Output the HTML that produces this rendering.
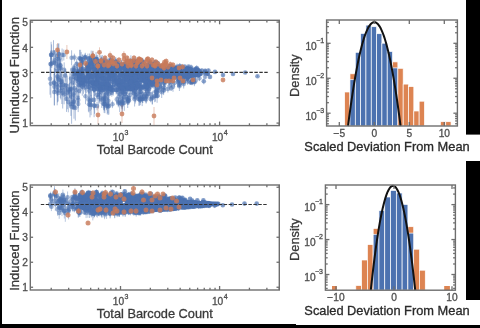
<!DOCTYPE html>
<html><head><meta charset="utf-8"><style>
html,body{margin:0;padding:0;background:#fff;width:480px;height:328px;overflow:hidden}
svg{display:block;filter:blur(0.6px)}
text{font-family:"Liberation Sans",sans-serif;stroke-width:0.3px}
</style></head><body>
<svg width="480" height="328" viewBox="0 0 480 328">
<rect x="0" y="0" width="480" height="328" fill="#fff"/>
<rect x="344.66" y="92" width="5.32" height="34" fill="#dd8452" stroke="#fff" stroke-width="0.7"/>
<rect x="349.98" y="73.8" width="5.32" height="52.2" fill="#dd8452" stroke="#fff" stroke-width="0.7"/>
<rect x="349.98" y="79.7" width="5.32" height="46.3" fill="#4c72b0" stroke="#fff" stroke-width="0.7"/>
<rect x="355.3" y="52.3" width="5.32" height="73.7" fill="#4c72b0" stroke="#fff" stroke-width="0.7"/>
<rect x="360.62" y="33.4" width="5.32" height="92.6" fill="#4c72b0" stroke="#fff" stroke-width="0.7"/>
<rect x="365.94" y="25.1" width="5.32" height="100.9" fill="#4c72b0" stroke="#fff" stroke-width="0.7"/>
<rect x="371.26" y="26.7" width="5.32" height="99.3" fill="#4c72b0" stroke="#fff" stroke-width="0.7"/>
<rect x="376.58" y="33.7" width="5.32" height="92.3" fill="#4c72b0" stroke="#fff" stroke-width="0.7"/>
<rect x="381.9" y="43.2" width="5.32" height="82.8" fill="#4c72b0" stroke="#fff" stroke-width="0.7"/>
<rect x="387.22" y="51.5" width="5.32" height="74.5" fill="#4c72b0" stroke="#fff" stroke-width="0.7"/>
<rect x="392.54" y="61.9" width="5.32" height="64.1" fill="#dd8452" stroke="#fff" stroke-width="0.7"/>
<rect x="392.54" y="67.9" width="5.32" height="58.1" fill="#4c72b0" stroke="#fff" stroke-width="0.7"/>
<rect x="397.86" y="68.3" width="5.32" height="57.7" fill="#dd8452" stroke="#fff" stroke-width="0.7"/>
<rect x="403.18" y="84.1" width="5.32" height="41.9" fill="#dd8452" stroke="#fff" stroke-width="0.7"/>
<rect x="408.5" y="86.6" width="5.32" height="39.4" fill="#dd8452" stroke="#fff" stroke-width="0.7"/>
<rect x="413.82" y="111" width="5.32" height="15" fill="#dd8452" stroke="#fff" stroke-width="0.7"/>
<rect x="419.14" y="101.2" width="5.32" height="24.8" fill="#dd8452" stroke="#fff" stroke-width="0.7"/>
<rect x="440.42" y="121.7" width="5.32" height="4.3" fill="#dd8452" stroke="#fff" stroke-width="0.7"/>
<rect x="445.74" y="121.7" width="5.32" height="4.3" fill="#dd8452" stroke="#fff" stroke-width="0.7"/>
<polyline points="348.05,126 348.92,119.2 349.8,112.62 350.67,106.28 351.55,100.17 352.42,94.28 353.3,88.63 354.17,83.21 355.05,78.02 355.92,73.06 356.8,68.33 357.67,63.84 358.55,59.57 359.42,55.53 360.3,51.73 361.17,48.15 362.05,44.81 362.92,41.69 363.8,38.81 364.67,36.16 365.55,33.73 366.42,31.54 367.3,29.58 368.17,27.85 369.05,26.35 369.92,25.08 370.8,24.05 371.67,23.24 372.55,22.66 373.42,22.32 374.3,22.2 375.18,22.32 376.05,22.66 376.93,23.24 377.8,24.05 378.68,25.08 379.55,26.35 380.43,27.85 381.3,29.58 382.18,31.54 383.05,33.73 383.93,36.16 384.8,38.81 385.68,41.69 386.55,44.81 387.43,48.15 388.3,51.73 389.18,55.53 390.05,59.57 390.93,63.84 391.8,68.33 392.68,73.06 393.55,78.02 394.43,83.21 395.3,88.63 396.18,94.28 397.05,100.17 397.93,106.28 398.8,112.62 399.68,119.2 400.55,126" fill="none" stroke="#111" stroke-width="2.0"/>
<rect x="326.6" y="20" width="130.8" height="106" fill="none" stroke="#6e6e6e" stroke-width="1.4"/>
<line x1="326.6" y1="43.3" x2="330.6" y2="43.3" stroke="#6e6e6e" stroke-width="1.3" />
<line x1="457.4" y1="43.3" x2="453.4" y2="43.3" stroke="#6e6e6e" stroke-width="1.3" />
<line x1="326.6" y1="32.78" x2="328.9" y2="32.78" stroke="#6e6e6e" stroke-width="1.3" />
<line x1="457.4" y1="32.78" x2="455.1" y2="32.78" stroke="#6e6e6e" stroke-width="1.3" />
<line x1="326.6" y1="26.62" x2="328.9" y2="26.62" stroke="#6e6e6e" stroke-width="1.3" />
<line x1="457.4" y1="26.62" x2="455.1" y2="26.62" stroke="#6e6e6e" stroke-width="1.3" />
<line x1="326.6" y1="22.26" x2="328.9" y2="22.26" stroke="#6e6e6e" stroke-width="1.3" />
<line x1="457.4" y1="22.26" x2="455.1" y2="22.26" stroke="#6e6e6e" stroke-width="1.3" />
<line x1="326.6" y1="78.25" x2="330.6" y2="78.25" stroke="#6e6e6e" stroke-width="1.3" />
<line x1="457.4" y1="78.25" x2="453.4" y2="78.25" stroke="#6e6e6e" stroke-width="1.3" />
<line x1="326.6" y1="67.73" x2="328.9" y2="67.73" stroke="#6e6e6e" stroke-width="1.3" />
<line x1="457.4" y1="67.73" x2="455.1" y2="67.73" stroke="#6e6e6e" stroke-width="1.3" />
<line x1="326.6" y1="61.57" x2="328.9" y2="61.57" stroke="#6e6e6e" stroke-width="1.3" />
<line x1="457.4" y1="61.57" x2="455.1" y2="61.57" stroke="#6e6e6e" stroke-width="1.3" />
<line x1="326.6" y1="57.21" x2="328.9" y2="57.21" stroke="#6e6e6e" stroke-width="1.3" />
<line x1="457.4" y1="57.21" x2="455.1" y2="57.21" stroke="#6e6e6e" stroke-width="1.3" />
<line x1="326.6" y1="53.82" x2="328.9" y2="53.82" stroke="#6e6e6e" stroke-width="1.3" />
<line x1="457.4" y1="53.82" x2="455.1" y2="53.82" stroke="#6e6e6e" stroke-width="1.3" />
<line x1="326.6" y1="51.05" x2="328.9" y2="51.05" stroke="#6e6e6e" stroke-width="1.3" />
<line x1="457.4" y1="51.05" x2="455.1" y2="51.05" stroke="#6e6e6e" stroke-width="1.3" />
<line x1="326.6" y1="48.71" x2="328.9" y2="48.71" stroke="#6e6e6e" stroke-width="1.3" />
<line x1="457.4" y1="48.71" x2="455.1" y2="48.71" stroke="#6e6e6e" stroke-width="1.3" />
<line x1="326.6" y1="46.69" x2="328.9" y2="46.69" stroke="#6e6e6e" stroke-width="1.3" />
<line x1="457.4" y1="46.69" x2="455.1" y2="46.69" stroke="#6e6e6e" stroke-width="1.3" />
<line x1="326.6" y1="44.9" x2="328.9" y2="44.9" stroke="#6e6e6e" stroke-width="1.3" />
<line x1="457.4" y1="44.9" x2="455.1" y2="44.9" stroke="#6e6e6e" stroke-width="1.3" />
<line x1="326.6" y1="113.2" x2="330.6" y2="113.2" stroke="#6e6e6e" stroke-width="1.3" />
<line x1="457.4" y1="113.2" x2="453.4" y2="113.2" stroke="#6e6e6e" stroke-width="1.3" />
<line x1="326.6" y1="102.68" x2="328.9" y2="102.68" stroke="#6e6e6e" stroke-width="1.3" />
<line x1="457.4" y1="102.68" x2="455.1" y2="102.68" stroke="#6e6e6e" stroke-width="1.3" />
<line x1="326.6" y1="96.52" x2="328.9" y2="96.52" stroke="#6e6e6e" stroke-width="1.3" />
<line x1="457.4" y1="96.52" x2="455.1" y2="96.52" stroke="#6e6e6e" stroke-width="1.3" />
<line x1="326.6" y1="92.16" x2="328.9" y2="92.16" stroke="#6e6e6e" stroke-width="1.3" />
<line x1="457.4" y1="92.16" x2="455.1" y2="92.16" stroke="#6e6e6e" stroke-width="1.3" />
<line x1="326.6" y1="88.77" x2="328.9" y2="88.77" stroke="#6e6e6e" stroke-width="1.3" />
<line x1="457.4" y1="88.77" x2="455.1" y2="88.77" stroke="#6e6e6e" stroke-width="1.3" />
<line x1="326.6" y1="86" x2="328.9" y2="86" stroke="#6e6e6e" stroke-width="1.3" />
<line x1="457.4" y1="86" x2="455.1" y2="86" stroke="#6e6e6e" stroke-width="1.3" />
<line x1="326.6" y1="83.66" x2="328.9" y2="83.66" stroke="#6e6e6e" stroke-width="1.3" />
<line x1="457.4" y1="83.66" x2="455.1" y2="83.66" stroke="#6e6e6e" stroke-width="1.3" />
<line x1="326.6" y1="81.64" x2="328.9" y2="81.64" stroke="#6e6e6e" stroke-width="1.3" />
<line x1="457.4" y1="81.64" x2="455.1" y2="81.64" stroke="#6e6e6e" stroke-width="1.3" />
<line x1="326.6" y1="79.85" x2="328.9" y2="79.85" stroke="#6e6e6e" stroke-width="1.3" />
<line x1="457.4" y1="79.85" x2="455.1" y2="79.85" stroke="#6e6e6e" stroke-width="1.3" />
<line x1="326.6" y1="123.72" x2="328.9" y2="123.72" stroke="#6e6e6e" stroke-width="1.3" />
<line x1="457.4" y1="123.72" x2="455.1" y2="123.72" stroke="#6e6e6e" stroke-width="1.3" />
<line x1="326.6" y1="120.95" x2="328.9" y2="120.95" stroke="#6e6e6e" stroke-width="1.3" />
<line x1="457.4" y1="120.95" x2="455.1" y2="120.95" stroke="#6e6e6e" stroke-width="1.3" />
<line x1="326.6" y1="118.61" x2="328.9" y2="118.61" stroke="#6e6e6e" stroke-width="1.3" />
<line x1="457.4" y1="118.61" x2="455.1" y2="118.61" stroke="#6e6e6e" stroke-width="1.3" />
<line x1="326.6" y1="116.59" x2="328.9" y2="116.59" stroke="#6e6e6e" stroke-width="1.3" />
<line x1="457.4" y1="116.59" x2="455.1" y2="116.59" stroke="#6e6e6e" stroke-width="1.3" />
<line x1="326.6" y1="114.8" x2="328.9" y2="114.8" stroke="#6e6e6e" stroke-width="1.3" />
<line x1="457.4" y1="114.8" x2="455.1" y2="114.8" stroke="#6e6e6e" stroke-width="1.3" />
<text x="316.8" y="49.8" font-size="10.2" text-anchor="end" fill="#4e4e4e" stroke="#4e4e4e" >10</text>
<text x="320.2" y="43" font-size="7.0" text-anchor="middle" fill="#4e4e4e" stroke="#4e4e4e" >−1</text>
<text x="316.8" y="84.75" font-size="10.2" text-anchor="end" fill="#4e4e4e" stroke="#4e4e4e" >10</text>
<text x="320.2" y="77.95" font-size="7.0" text-anchor="middle" fill="#4e4e4e" stroke="#4e4e4e" >−2</text>
<text x="316.8" y="119.7" font-size="10.2" text-anchor="end" fill="#4e4e4e" stroke="#4e4e4e" >10</text>
<text x="320.2" y="112.9" font-size="7.0" text-anchor="middle" fill="#4e4e4e" stroke="#4e4e4e" >−3</text>
<line x1="339.3" y1="126" x2="339.3" y2="122" stroke="#6e6e6e" stroke-width="1.3" />
<line x1="339.3" y1="20" x2="339.3" y2="24" stroke="#6e6e6e" stroke-width="1.3" />
<text x="339.3" y="136.9" font-size="10.2" text-anchor="middle" fill="#4e4e4e" stroke="#4e4e4e" >−5</text>
<line x1="374.3" y1="126" x2="374.3" y2="122" stroke="#6e6e6e" stroke-width="1.3" />
<line x1="374.3" y1="20" x2="374.3" y2="24" stroke="#6e6e6e" stroke-width="1.3" />
<text x="374.3" y="136.9" font-size="10.2" text-anchor="middle" fill="#4e4e4e" stroke="#4e4e4e" >0</text>
<line x1="409.3" y1="126" x2="409.3" y2="122" stroke="#6e6e6e" stroke-width="1.3" />
<line x1="409.3" y1="20" x2="409.3" y2="24" stroke="#6e6e6e" stroke-width="1.3" />
<text x="409.3" y="136.9" font-size="10.2" text-anchor="middle" fill="#4e4e4e" stroke="#4e4e4e" >5</text>
<line x1="444.3" y1="126" x2="444.3" y2="122" stroke="#6e6e6e" stroke-width="1.3" />
<line x1="444.3" y1="20" x2="444.3" y2="24" stroke="#6e6e6e" stroke-width="1.3" />
<text x="444.3" y="136.9" font-size="10.2" text-anchor="middle" fill="#4e4e4e" stroke="#4e4e4e" >10</text>
<text x="0" y="0" font-size="12.8" text-anchor="middle" fill="#3a3a3a" stroke="#3a3a3a" transform="translate(299.0 75.6) rotate(-90)">Density</text>
<text x="387" y="150.9" font-size="12.7" text-anchor="middle" fill="#2a2a2a" stroke="#2a2a2a" textLength="165.3" lengthAdjust="spacingAndGlyphs">Scaled Deviation From Mean</text>
<rect x="355.8" y="285.5" width="5.79" height="4.7" fill="#dd8452" stroke="#fff" stroke-width="0.7"/>
<rect x="361.59" y="260" width="5.79" height="30.2" fill="#dd8452" stroke="#fff" stroke-width="0.7"/>
<rect x="367.38" y="244.6" width="5.79" height="45.6" fill="#dd8452" stroke="#fff" stroke-width="0.7"/>
<rect x="373.17" y="228.4" width="5.79" height="61.8" fill="#dd8452" stroke="#fff" stroke-width="0.7"/>
<rect x="373.17" y="234.3" width="5.79" height="55.9" fill="#4c72b0" stroke="#fff" stroke-width="0.7"/>
<rect x="378.96" y="210.5" width="5.79" height="79.7" fill="#4c72b0" stroke="#fff" stroke-width="0.7"/>
<rect x="384.75" y="197" width="5.79" height="93.2" fill="#4c72b0" stroke="#fff" stroke-width="0.7"/>
<rect x="390.54" y="190.4" width="5.79" height="99.8" fill="#4c72b0" stroke="#fff" stroke-width="0.7"/>
<rect x="396.33" y="193" width="5.79" height="97.2" fill="#4c72b0" stroke="#fff" stroke-width="0.7"/>
<rect x="402.12" y="204.4" width="5.79" height="85.8" fill="#4c72b0" stroke="#fff" stroke-width="0.7"/>
<rect x="407.91" y="226.7" width="5.79" height="63.5" fill="#dd8452" stroke="#fff" stroke-width="0.7"/>
<rect x="407.91" y="233.1" width="5.79" height="57.1" fill="#4c72b0" stroke="#fff" stroke-width="0.7"/>
<rect x="413.7" y="249.2" width="5.79" height="41" fill="#dd8452" stroke="#fff" stroke-width="0.7"/>
<rect x="419.49" y="270.2" width="5.79" height="20" fill="#dd8452" stroke="#fff" stroke-width="0.7"/>
<rect x="332" y="286" width="4.9" height="4.2" fill="#dd8452"/>
<rect x="444.2" y="286" width="5.7" height="4.2" fill="#dd8452"/>
<polyline points="370.8,290.2 371.54,283.36 372.28,276.74 373.02,270.36 373.76,264.22 374.5,258.3 375.24,252.62 375.98,247.16 376.72,241.94 377.46,236.96 378.2,232.2 378.94,227.68 379.68,223.38 380.42,219.32 381.16,215.5 381.9,211.9 382.64,208.54 383.38,205.4 384.12,202.5 384.86,199.84 385.6,197.4 386.34,195.2 387.08,193.22 387.82,191.48 388.56,189.98 389.3,188.7 390.04,187.66 390.78,186.84 391.52,186.26 392.26,185.92 393,185.8 393.74,185.92 394.48,186.26 395.22,186.84 395.96,187.66 396.7,188.7 397.44,189.98 398.18,191.48 398.92,193.22 399.66,195.2 400.4,197.4 401.14,199.84 401.88,202.5 402.62,205.4 403.36,208.54 404.1,211.9 404.84,215.5 405.58,219.32 406.32,223.38 407.06,227.68 407.8,232.2 408.54,236.96 409.28,241.94 410.02,247.16 410.76,252.62 411.5,258.3 412.24,264.22 412.98,270.36 413.72,276.74 414.46,283.36 415.2,290.2" fill="none" stroke="#111" stroke-width="2.0"/>
<rect x="325.4" y="185" width="130" height="105.2" fill="none" stroke="#6e6e6e" stroke-width="1.4"/>
<line x1="325.4" y1="204.6" x2="329.4" y2="204.6" stroke="#6e6e6e" stroke-width="1.3" />
<line x1="455.4" y1="204.6" x2="451.4" y2="204.6" stroke="#6e6e6e" stroke-width="1.3" />
<line x1="325.4" y1="194.08" x2="327.7" y2="194.08" stroke="#6e6e6e" stroke-width="1.3" />
<line x1="455.4" y1="194.08" x2="453.1" y2="194.08" stroke="#6e6e6e" stroke-width="1.3" />
<line x1="325.4" y1="187.92" x2="327.7" y2="187.92" stroke="#6e6e6e" stroke-width="1.3" />
<line x1="455.4" y1="187.92" x2="453.1" y2="187.92" stroke="#6e6e6e" stroke-width="1.3" />
<line x1="325.4" y1="239.55" x2="329.4" y2="239.55" stroke="#6e6e6e" stroke-width="1.3" />
<line x1="455.4" y1="239.55" x2="451.4" y2="239.55" stroke="#6e6e6e" stroke-width="1.3" />
<line x1="325.4" y1="229.03" x2="327.7" y2="229.03" stroke="#6e6e6e" stroke-width="1.3" />
<line x1="455.4" y1="229.03" x2="453.1" y2="229.03" stroke="#6e6e6e" stroke-width="1.3" />
<line x1="325.4" y1="222.87" x2="327.7" y2="222.87" stroke="#6e6e6e" stroke-width="1.3" />
<line x1="455.4" y1="222.87" x2="453.1" y2="222.87" stroke="#6e6e6e" stroke-width="1.3" />
<line x1="325.4" y1="218.51" x2="327.7" y2="218.51" stroke="#6e6e6e" stroke-width="1.3" />
<line x1="455.4" y1="218.51" x2="453.1" y2="218.51" stroke="#6e6e6e" stroke-width="1.3" />
<line x1="325.4" y1="215.12" x2="327.7" y2="215.12" stroke="#6e6e6e" stroke-width="1.3" />
<line x1="455.4" y1="215.12" x2="453.1" y2="215.12" stroke="#6e6e6e" stroke-width="1.3" />
<line x1="325.4" y1="212.35" x2="327.7" y2="212.35" stroke="#6e6e6e" stroke-width="1.3" />
<line x1="455.4" y1="212.35" x2="453.1" y2="212.35" stroke="#6e6e6e" stroke-width="1.3" />
<line x1="325.4" y1="210.01" x2="327.7" y2="210.01" stroke="#6e6e6e" stroke-width="1.3" />
<line x1="455.4" y1="210.01" x2="453.1" y2="210.01" stroke="#6e6e6e" stroke-width="1.3" />
<line x1="325.4" y1="207.99" x2="327.7" y2="207.99" stroke="#6e6e6e" stroke-width="1.3" />
<line x1="455.4" y1="207.99" x2="453.1" y2="207.99" stroke="#6e6e6e" stroke-width="1.3" />
<line x1="325.4" y1="206.2" x2="327.7" y2="206.2" stroke="#6e6e6e" stroke-width="1.3" />
<line x1="455.4" y1="206.2" x2="453.1" y2="206.2" stroke="#6e6e6e" stroke-width="1.3" />
<line x1="325.4" y1="274.5" x2="329.4" y2="274.5" stroke="#6e6e6e" stroke-width="1.3" />
<line x1="455.4" y1="274.5" x2="451.4" y2="274.5" stroke="#6e6e6e" stroke-width="1.3" />
<line x1="325.4" y1="263.98" x2="327.7" y2="263.98" stroke="#6e6e6e" stroke-width="1.3" />
<line x1="455.4" y1="263.98" x2="453.1" y2="263.98" stroke="#6e6e6e" stroke-width="1.3" />
<line x1="325.4" y1="257.82" x2="327.7" y2="257.82" stroke="#6e6e6e" stroke-width="1.3" />
<line x1="455.4" y1="257.82" x2="453.1" y2="257.82" stroke="#6e6e6e" stroke-width="1.3" />
<line x1="325.4" y1="253.46" x2="327.7" y2="253.46" stroke="#6e6e6e" stroke-width="1.3" />
<line x1="455.4" y1="253.46" x2="453.1" y2="253.46" stroke="#6e6e6e" stroke-width="1.3" />
<line x1="325.4" y1="250.07" x2="327.7" y2="250.07" stroke="#6e6e6e" stroke-width="1.3" />
<line x1="455.4" y1="250.07" x2="453.1" y2="250.07" stroke="#6e6e6e" stroke-width="1.3" />
<line x1="325.4" y1="247.3" x2="327.7" y2="247.3" stroke="#6e6e6e" stroke-width="1.3" />
<line x1="455.4" y1="247.3" x2="453.1" y2="247.3" stroke="#6e6e6e" stroke-width="1.3" />
<line x1="325.4" y1="244.96" x2="327.7" y2="244.96" stroke="#6e6e6e" stroke-width="1.3" />
<line x1="455.4" y1="244.96" x2="453.1" y2="244.96" stroke="#6e6e6e" stroke-width="1.3" />
<line x1="325.4" y1="242.94" x2="327.7" y2="242.94" stroke="#6e6e6e" stroke-width="1.3" />
<line x1="455.4" y1="242.94" x2="453.1" y2="242.94" stroke="#6e6e6e" stroke-width="1.3" />
<line x1="325.4" y1="241.15" x2="327.7" y2="241.15" stroke="#6e6e6e" stroke-width="1.3" />
<line x1="455.4" y1="241.15" x2="453.1" y2="241.15" stroke="#6e6e6e" stroke-width="1.3" />
<line x1="325.4" y1="288.41" x2="327.7" y2="288.41" stroke="#6e6e6e" stroke-width="1.3" />
<line x1="455.4" y1="288.41" x2="453.1" y2="288.41" stroke="#6e6e6e" stroke-width="1.3" />
<line x1="325.4" y1="285.02" x2="327.7" y2="285.02" stroke="#6e6e6e" stroke-width="1.3" />
<line x1="455.4" y1="285.02" x2="453.1" y2="285.02" stroke="#6e6e6e" stroke-width="1.3" />
<line x1="325.4" y1="282.25" x2="327.7" y2="282.25" stroke="#6e6e6e" stroke-width="1.3" />
<line x1="455.4" y1="282.25" x2="453.1" y2="282.25" stroke="#6e6e6e" stroke-width="1.3" />
<line x1="325.4" y1="279.91" x2="327.7" y2="279.91" stroke="#6e6e6e" stroke-width="1.3" />
<line x1="455.4" y1="279.91" x2="453.1" y2="279.91" stroke="#6e6e6e" stroke-width="1.3" />
<line x1="325.4" y1="277.89" x2="327.7" y2="277.89" stroke="#6e6e6e" stroke-width="1.3" />
<line x1="455.4" y1="277.89" x2="453.1" y2="277.89" stroke="#6e6e6e" stroke-width="1.3" />
<line x1="325.4" y1="276.1" x2="327.7" y2="276.1" stroke="#6e6e6e" stroke-width="1.3" />
<line x1="455.4" y1="276.1" x2="453.1" y2="276.1" stroke="#6e6e6e" stroke-width="1.3" />
<text x="315.6" y="211.1" font-size="10.2" text-anchor="end" fill="#4e4e4e" stroke="#4e4e4e" >10</text>
<text x="319" y="204.3" font-size="7.0" text-anchor="middle" fill="#4e4e4e" stroke="#4e4e4e" >−1</text>
<text x="315.6" y="246.05" font-size="10.2" text-anchor="end" fill="#4e4e4e" stroke="#4e4e4e" >10</text>
<text x="319" y="239.25" font-size="7.0" text-anchor="middle" fill="#4e4e4e" stroke="#4e4e4e" >−2</text>
<text x="315.6" y="281" font-size="10.2" text-anchor="end" fill="#4e4e4e" stroke="#4e4e4e" >10</text>
<text x="319" y="274.2" font-size="7.0" text-anchor="middle" fill="#4e4e4e" stroke="#4e4e4e" >−3</text>
<line x1="336" y1="290.2" x2="336" y2="286.2" stroke="#6e6e6e" stroke-width="1.3" />
<line x1="336" y1="185" x2="336" y2="189" stroke="#6e6e6e" stroke-width="1.3" />
<text x="336" y="301.1" font-size="10.2" text-anchor="middle" fill="#4e4e4e" stroke="#4e4e4e" >−10</text>
<line x1="394" y1="290.2" x2="394" y2="286.2" stroke="#6e6e6e" stroke-width="1.3" />
<line x1="394" y1="185" x2="394" y2="189" stroke="#6e6e6e" stroke-width="1.3" />
<text x="394" y="301.1" font-size="10.2" text-anchor="middle" fill="#4e4e4e" stroke="#4e4e4e" >0</text>
<line x1="452" y1="290.2" x2="452" y2="286.2" stroke="#6e6e6e" stroke-width="1.3" />
<line x1="452" y1="185" x2="452" y2="189" stroke="#6e6e6e" stroke-width="1.3" />
<text x="452" y="301.1" font-size="10.2" text-anchor="middle" fill="#4e4e4e" stroke="#4e4e4e" >10</text>
<text x="0" y="0" font-size="12.8" text-anchor="middle" fill="#3a3a3a" stroke="#3a3a3a" transform="translate(299.0 239.6) rotate(-90)">Density</text>
<text x="387" y="315.1" font-size="12.7" text-anchor="middle" fill="#2a2a2a" stroke="#2a2a2a" textLength="165.3" lengthAdjust="spacingAndGlyphs">Scaled Deviation From Mean</text>
<path d="M172.4 71.7V78.7M172.7 75.2V79.7M140.5 72.2V78.5M113.6 66.9V71.7M76.9 65.2V83.8M125.5 88.8V99.1M128.4 63.5V72.4M74 96.2V118.7M75.2 66.1V80M207.7 72V75.3M155.1 79.8V88M107.1 87.1V99.6M131.5 69.4V76.9M194.4 78.1V86.2M183.7 70.6V73.9M177.1 63.6V70M126.5 68.4V73.8M138 76.5V83.8M157.8 66.2V73.9M79.1 77.2V93.4M144.8 63.5V68.9M111.8 88.6V96.7M181.5 68V72.6M80.1 72.7V86.9M158.1 81.4V93.9M180.3 71.2V76.6M106.2 82.3V87.5M183.4 71.5V73.9M180.5 74.3V79.3M61.8 71.7V104M161.2 73.7V80.5M50.8 69.5V97.7M139.1 69.1V78.9M131.6 70.2V80.9M103 71.8V83.3M118.5 59.2V67M172.5 74.1V79.8M117.4 64.6V69.2M95.7 77.7V86.7M160.2 67.2V73M133 60.1V65.8M171.7 63.6V69M107.2 96.8V114.2M117.8 76.8V88.4M171.8 70.9V75.7M139.5 81V89.9M139.5 87.7V95.6M107.3 66.8V73.1M59.5 50.1V66.4M188.3 75.3V78.7M85.3 52.8V61.2M177.2 71.5V75.5M123.6 85V98.8M190.6 80.6V84.4M127.3 65.4V71.9M188.7 66.3V72.2M144.9 70.7V78.1M107.8 96.1V113.1M165 76.4V87M157.5 74.9V81.8M158.6 72.6V80.6M134.7 72.7V78.4M105.5 76.9V89.5M153.9 63.8V67.7M89.4 76.3V86.6M159.5 67.1V73.8M153.3 68.6V76.6M124.7 72.3V80.1M171.6 65.3V71.7M101.8 74.6V81.8M126.3 93.9V103.4M171.5 69.7V72.9M125.1 65.1V76.6M161.8 69.9V74.8M150.9 79.9V86.6M189.3 69.1V74.5M199 70.3V72.9M163 63.3V69.4M172.8 69.8V73.1M96.2 82.2V88.1M161.8 72.6V76M177.5 71V75.1M127.6 74.7V81.4M144.6 75.8V80.8M136.5 82.3V89.5M191.7 73.6V77.1M117.5 64.6V71.3M127.7 64.2V75M50.6 50.9V77.3M129.8 90.5V100.2M152.9 65.8V69.3M188.5 67.9V70.1M187 66.7V71M118.8 67.9V80.5M198 73.1V77.5M101 63.7V74.5M174.6 66.3V72.7M96.8 54.9V63.3M128 61.5V66.3M82.5 76.7V89.7M178.8 70V75.6M175.2 69.3V73.5M94.4 82.9V96.2M141.7 62.1V67.1M110.1 71.3V80.6M137.9 77.7V84.1M144.6 60.9V69.8M89.2 58.2V71.1M179.6 65.1V71.2M112.7 80.9V93M132.8 86.1V98.7M78 75.5V87.7M51.9 58.4V67.7M102 81.5V90M120.5 67.1V76.8M187.6 76V82.2M182.7 68.5V70.9M136.6 68.7V72.4M133.7 64.2V69.6M156.7 74.5V79.1M178.9 72.6V76.6M120 81V85.5M171 71.8V78.3M127.3 77.3V82.7M148.9 63.4V66.5M164.5 68.6V72.3M138.9 57.4V67.2M159.3 68.9V72.5M160 69.1V71.8M54 73.9V91.2M71.6 50.3V65.2M95.7 72.1V79.7M104.4 57.5V63.1M103 65.6V78.3M75.3 95.2V120.6M104.9 90.9V113.2M149.7 59.9V64.6M182.3 70.7V73.7M121.4 99.6V108.6M123.5 73.5V78M129.4 75.2V81M158.2 75.8V80.3M170.1 69.4V75.4M189.3 72.7V77.4M124.6 66.6V75.1M161.1 76.4V88.3M120.5 66.3V70.5M174.6 65.3V71.8M106.6 69.9V74.8M180.4 72V76.5M139.3 92.7V105.5M163.2 70.5V75.9M142.6 60V64.1M117.4 79.2V85.9M138.1 64.8V68.5M75.8 72V84.9M73.1 93.7V109.3M142.1 61.2V64.6M136.2 62.8V71M175.7 71.8V75.7M62.7 76.9V108.5M145 83.2V91.3M137.7 72.5V79.4M149.3 79.5V84M163.7 77.1V80.2M141.5 76.7V82.7M145.6 85V92.8M137.9 81.5V90.4M151.2 71.8V76.3M108.9 97.3V114.5M144.5 74.2V82.7M157.3 84.8V95.4M101.4 64V76.1M198.5 70.8V74.4M165.6 69.1V74.9M191.2 71.6V74.5M114.6 71.7V77M132.4 63.5V72.2M110.6 59.5V67.3M74.5 63.9V71.7M60.8 74V90.1M108.7 80.6V89.4M179.2 66.9V72.6M97.7 62.8V74.3M159.2 71.6V77.7M109 81.9V90M80.5 74.9V93.5M101.6 75V80.1M157.9 74.3V81.2M139 72.8V77.1M144.1 70.4V79.9M133.5 79.7V83.8M112.2 66.7V76.4M137.5 65.9V73.8M186.9 70.6V75.6M102.8 61.9V70M164 65.5V72.3M109.3 71.2V80.1M101.7 60.9V69M118.3 62.9V70.6M86.7 61.6V67.7M188.6 65.2V68M123.3 63.2V67.9M99.4 81.1V96.6M50 63V94.7M79 66.5V81.3M104.5 79.2V89.8M129.5 80V85.7M149.7 76.7V82.1M195.9 72.6V77.6M182.8 71.5V75.9M108.1 83V99.3M150.8 95.9V102.3M186.8 73.9V76.9M88.4 70V84.8M178.3 68.2V74.3M127 59.6V67.7M169.6 66.4V70.3M118.2 79.5V89.6M152.3 90.8V103.9M139.5 64.1V70.3M88.9 80V94M167.1 75.5V82.7M174.5 71.4V74.2M136.9 79.1V87.5M126 71.5V77M190.1 74.3V77.6M124.4 78.3V86M181.4 69.4V75M129.6 72.7V77.1M124.3 74.6V80.4M122.9 63.3V68M78.8 68.8V82.8M112.6 70.2V79.5M106.5 102.1V110.2M79.5 64.4V78.5M143.3 77.1V82.2M132.3 82.4V89.4M65.2 69.4V81.6M96.7 76.2V85.5M186.4 69.7V72.8M93.5 70V83.8M124.3 94.9V110.8M190.6 72.1V75.5M90.4 59.1V71.2M128.6 83.7V90.7M171.9 68.7V74M62.1 48.5V61.4M81.1 52.1V65.9M187.8 67.5V70.3M158.6 70.4V76.5M110.5 74.6V83.4M136.6 69.7V79.2M109 64.5V72.2M183.1 69.2V71.5M190.5 79.8V84.5M81.9 57.1V69.7M141.4 58.5V67.7M100.5 59.6V74M127.9 63.6V74.7M165 68.2V72.2M161.8 70.8V74.7M101.2 62.9V73M119.4 83.5V88.2M130.3 72.4V82.8M125.8 76.2V83.6M158.4 63.6V68.4M170.4 70.6V74.2M119.7 93.4V112.1M132.2 73.3V81.4M81 61.7V74.5M123.5 71.6V75.9M190.1 72V76.7M139 92.7V105.9M145 61.7V69.3M150.2 75V83.7M146.1 95.2V103.5M172.3 70.3V75.5M110.3 55.6V63.8M117.4 75V81.1M182.3 74.6V77.7M138.8 72.1V79.5M191.9 78.4V84.9M94.3 59.2V74.8M169.8 63.5V69.8M135.8 60.9V68.9M135.9 56.9V65.4M181.6 75.1V77.6M93.1 75.5V91.5M140.4 95V102.6M109.1 72.6V83M120.6 79.7V85.7M173.8 67V69.4M127.2 72.4V77.7M170 69.6V76.6M58.9 43.3V64.7M208.4 68.7V72.4M191.2 64.6V70.3M158 77.2V81.4M102.2 61.2V71.2M155.6 80.3V84.6M101.3 55.6V69.3M124.3 63.5V73.4M69.8 76.6V107.6M81.7 75.2V90.8M96.9 69.3V81.2M100.2 82.6V93.9M176.4 69.4V75.8M108.3 95.3V106.2M174.8 69.4V74.1M54.3 78.8V105.4M78.2 95.7V112.1M79.1 84.9V96.8M188.1 69.7V74.5M173.8 66.2V70.8M60.1 57.5V73.5M188.1 73.9V81.7M106.1 75.8V83M111 81.6V94M147.9 81.8V90M103.2 71.7V86.6M194.5 73.7V77.1M123.4 73.7V78.8M146.5 78.1V87.1M146.6 92.7V100.4M113.1 84.2V95.7M164.2 76.3V85.8M199.3 71.8V77.2M149.1 64V68M84.9 53.8V61.6M172.7 75.4V77.9M156.7 65.3V71.1M137.6 60.6V67.1M155.3 65V70.4M110.6 81.9V91.2M115.9 74.7V85.3M140.5 78.6V85.4M81.3 69.1V79.1M148.3 65.2V74.2M100.2 68.9V77.7M109.6 65.3V77.4M184 69.7V74.3M148.3 71.9V77.4M108.3 74.3V83.6M160.2 81.1V91.7M201.9 68.6V72.5M183.7 73.3V79.1M171.6 74.5V77.2M119.4 66.8V71.6M147.8 84.1V87.8M148 85V95.8M85.9 63.9V78.9M159.5 73.6V78.5M141.1 58.2V62.6M141.2 84.3V87.7M164.5 66.2V70.6M83.5 76.2V93.8M104.3 61.2V67M197.7 68.5V70.7M115.4 76.2V85.4M109.8 67.6V75.7M82.1 65.6V80.6M116.9 80.7V86.4M145.4 89.9V98.6M71.6 89.9V123.8M114 79.4V90M109.9 60.6V68.4M96.4 75.2V82.2M170.8 75V78.7M192.3 73.2V77.4M186 71.2V76.6M132.1 77.7V83.2M80.7 66.8V77.3M121.4 60.5V69.8M141.5 92.9V101.4M125.1 74.9V83.2M163.8 70V73.1M165.2 69.9V76.3M183.6 67.8V70.5M135.3 85.9V90.2M107.6 68.3V78.5M185.4 70.9V73.8M182 65.4V68.2M92.5 61.9V75.8M104.1 72.3V84.1M156 74.1V77.3M174.3 74.8V78.2M192 76.9V80.7M63.2 74.2V94.9M101.2 80.9V87M130.1 59.6V64.2M144.3 74.9V79.5M169.3 79V85.5M145 68.4V73.2M140.8 86.8V90.6M107.7 68.1V77.1M154.9 62.8V69.7M147.7 76.8V80.9M189.9 73.3V76.7M101.2 81.6V92.7M92.2 82.5V89M121.9 80.2V91.7M118.5 62.3V67.3M133.5 64.3V71.3M98.8 81V92M161.1 76.3V83.7M174.5 67.5V71.8M54.4 72V93.9M185.3 74.1V78.6M86.3 81.2V93.4M116.2 64.2V75.5M137.3 73.3V80.4M130.2 84.4V93.9M104.6 75.5V89.1M163.6 76.2V81M176.5 72.6V75.4M106.2 65.7V79.8M97.9 71.5V82.1M140.9 62.9V72.4M95.6 67.2V78.5M189.1 73.8V78.6M177.9 77V87.3M175.9 69.6V73M128.8 77.1V87.3M170.2 75V79.5M126.4 73.2V77.8M134.1 57.8V67M89.2 78.4V102.7M70.9 92.7V115.9M157.1 89.8V102.8M101.7 57.2V70.5M191.4 71.4V75.1M145.8 82.4V86.2M147.1 80.3V86.6M183.3 79.3V82.8M115.1 60.8V65.6M57.3 56.8V96M105.2 73V81.9M134.1 58.7V65.9M96.1 68.1V77.8M113 62.7V68M164.6 77.9V89.4M124.7 90.2V97.7M120.5 72.7V77.1M107 61.4V72.4M142.2 92V106.1M200.9 71.8V75.9M98.4 70.8V86M177 71.4V77.4M168.8 72.8V80M149.7 58.5V67.3M143.5 72.4V79.6M141 74.3V78.8M88.6 67.7V81.7M146.3 75.9V84.1M198.1 72.9V77.6M163.6 84.2V95.1M135 69.9V76.7M132.4 73.1V77.8M180.2 66.2V72.3M54.4 50V75M102.6 72.2V83.8M191.6 70.8V73.5M155.3 85.5V97.8M175.1 69.2V74M142.5 66.1V71.6M72.4 78.6V86.4M142.7 94.2V103M152.7 74.6V82.1M85.9 74.6V82.7M136.6 69.6V73.3M189.5 67.9V72.5M79.5 49.8V66.8M74.3 65.5V76M88.7 60.8V76.2M158.4 66V69.1M183.1 67.1V72.2M96.7 75.5V86.4M177.1 66V71.6M105.5 56.2V66.1M143 71.6V75.1M167.6 65.7V72.5M91.1 94.9V115.2M136.3 79.9V85.8M179.8 63V69.2M122.1 77.9V87.1M171.5 70V73.9M133.7 72V81M189.6 69.7V72.6M127.5 56.7V66.4M174.5 79.4V86.6M83.1 64.8V72.9M120.2 85.8V92M95.2 79.1V85.7M127.9 73.4V84M128 62.7V71.1M107.9 68.6V74.1M129.6 77.7V81.9M158.3 68.2V73.4M147.2 83.6V89.8M108.3 82.8V94.6M161.6 67.3V74M161.3 82.1V93.1M129.9 72.1V81.8M134.2 74.4V78.7M99 72.1V79.3M175.9 71.3V75.9M122.3 71.7V78.6M114.5 75.4V85.9M187.7 73.1V78.7M116.1 82.2V89.3M102.3 55V66.4M125.4 86.7V91.3M140.5 68.5V74.1M151.1 82.1V87.2M127.2 71.7V79.4M158.6 76.7V80.1M64.2 62.4V77.4M187.4 73.8V76.8M134.4 65.9V74.6M133 85V92.7M132.8 59V68.8M112.4 100.6V108.1M173.6 66.7V70.1M133.5 80.4V86.4M87.3 58.4V75.6M121.5 60V68.3M137.1 71.3V78.8M122.6 78.7V84.6M88.5 77.9V87.3M182.6 67.4V70.1M96 66.7V75.3M163.6 71V76.4M130.2 78.7V88.7M138.3 58.1V64.5M157.8 74V79.2M60.9 59V77.4M137.6 71.8V80M134.2 59.7V63.3M130.8 85.5V90.7M50.8 55V73.2M57.6 50.1V67.2M137.6 73.2V78.1M133.8 86.9V99.5M119.7 63.5V72.5M90.9 80.2V96.5M123.2 83.3V92M157.4 66.8V70.6M174.1 69.1V73.8M167.6 65.9V72.3M51.2 50.1V59.3M120.1 77.2V82.5M137.6 69.1V75.8M173.5 70.8V74M145.8 69.5V78M172 73.4V75.8M159.2 66.2V69.7M82.3 54.9V69.1M195.9 67.5V71.9M145 71.7V75.3M149.9 61.5V66.9M110.3 58.5V66.7M184.4 68.1V70.3M205.1 74.5V78.9M120.6 78.2V85.6M137.6 75.2V79.6M79.8 67.7V87M167.5 70.7V75.8M154.2 61.3V69.1M107 58.8V70.2M175.3 65.8V72.3M143.9 61.7V70.3M187.7 66.6V70.5M174.2 70.5V74.6M88.2 63.8V79.3M107.5 60.1V65.1M177.6 70.6V75.8M68.3 83.7V95.5M93.1 62.4V72.2M186.5 72.7V80.5M173 67.8V73.9M109.7 58.7V70M120.1 73.3V79.1M71.2 81.2V97.5M92.5 73.2V79.8M57.5 71.4V102.4M148.2 85.7V91.1M150.7 67.1V74.6M95 74.1V87.1M175.8 68.4V71.4M137.4 81.1V90.1M149.5 68V74.3M156.2 89.1V94M103.3 89V108.3M172.2 69.5V75.8M128.7 86.7V91.3M138.6 84.1V91.1M92.4 75.4V90.5M109.7 72.4V81M133.8 67.3V73.8M163.1 65.1V71.4M134 84.3V91.8M145.3 62.1V67.5M166.8 68V73.3M127.7 95.2V108M60.3 62.6V97.9M145.5 77.5V86M189.7 69.1V74.4M71.1 74.5V82.8M134.6 59.5V68.2M155.4 81V85.6M137.6 62.6V69.2M88.7 78.8V89M140.3 91.8V105.2M84 74.3V86.9M81.7 73.1V83M120.1 80.2V91M99.6 85.6V103.4M139.3 74.6V80.4M189.8 69.6V72.8M104.6 63V70.9M198 70.2V75.5M121.4 88.4V96.5M176 65.5V71.4M141.3 68.9V74.6M169.5 67.4V70.3M179.7 81.4V86.9M176.8 73.5V76.9M95.5 79.8V94.7M182.9 67.3V69.7M91.4 76.7V87.8M164.2 85.8V89.9M74.1 77.2V108.5M115.4 64V73M93.3 53V66.5M151.8 71.6V76.7M117.2 61.8V72.1M146 64.4V69.1M105 88V107.2M127.3 83.4V92.3M184.2 74V79.7M149.3 61.8V69.3M137.3 82.6V90.5M163.2 67.1V70.7M199.4 75.6V81.1M119.6 82.8V90.7M89.8 57.7V65.6M107.9 76.7V89.2M96.7 57V68.9M128 80.5V91.6M165.1 73.3V77.3M167.9 85.4V92.6M89.5 53.5V62.6M97.5 62.6V77.6M122.7 64.7V71.4M177.1 73.4V83.4M137 71.4V80.7M143.1 76.2V83.7M114.3 67.3V75.1M144.2 76.2V84.8M150.1 87.2V101.1M119.8 83.4V93M149.7 62.4V70.3M166.5 69.3V76.6M122 83V93.7M133.8 77.9V85.8M93.1 56.8V64.6M110.3 62.8V73.3M72.2 65.4V74.4M77.7 63.8V82.8M85 77.7V84.7M183.7 79.7V88.5M164 73.6V76.9M148 75.2V81.1M171.6 73.4V76M99.4 82.9V95.9M121.7 65.1V71.4M147.6 76.2V84.3M178.4 67.3V70.8M143.2 71.7V78M92.3 53.6V69.3M73.6 64.4V75.5M69.9 72.1V105.9M166.7 72V74.8M183.3 70.2V72.8M95.2 56.3V62.8M173 81.6V91.8M72.7 98V109.7M176 65.7V70.5M160.6 73.1V77.6M135.8 76.1V83.5M136.2 76.8V80.6M105.2 94.3V103.1M187.9 73.2V75.3M111.9 85.8V94.6M111 71.5V76.8M168.4 73.3V76.6M147.1 85.6V97.2M140.6 85V89.5M146.5 66.5V72.8M89.9 74.2V81.3M89.7 62.4V74.7M195.4 67.8V70.3M160.7 65.6V69.3M151.1 77.6V83M145.4 71.6V78.1M107.1 84.6V94.2M96.8 58.8V67.3M147.9 69.4V75.3M56.8 65V76.4M66.5 85.8V111.9M120.7 71.4V76.9M148.1 74V78.9M187.8 72.3V74.9M133.5 69.8V74.9M116.1 59.8V71.6M191.1 67.4V71.2M115.1 70V82.6M136.7 89.4V99.6M136.3 86.1V90.4M73.5 68.7V84.9M89.1 73.8V80.1M55.6 53.4V73.5M171.1 85.5V91M125 61.7V66.7M158.2 73.2V75.9M132.7 83.5V92.1M138.3 92.4V100.1M179.5 72.6V76.3M126.8 82.9V93.9M88.4 87.6V111.6M156.9 87.2V97.9M67.4 76.1V109.2M140.5 65.2V69.5M123.7 61.6V68.2M130.5 80.9V89.2M163.5 75.3V82.2M176.5 71.6V76.2M192.3 74.1V77M169.4 74.1V79.4M174.1 69.9V76.4M188.7 72.6V77.1M125.6 58.5V69.2M120.7 81.4V92M66.5 71.3V100.9M133.6 71.9V81.4M77.8 89.8V105.9M104.5 97.5V110.6M128.9 66.9V72.2M128.8 73V77.8M167.7 67.7V72.5M134.7 76.3V83.2M161.1 67.8V75.3M64.1 84.4V104.3M162.7 67.1V70.9M167.3 69V75.6M58.3 69.5V85.2M121.6 69.3V76.8M153.4 80.4V86.9M94.1 94.1V117.2M172.5 74.6V79.2M194.1 74.9V81.2M169.8 68.1V72.9M151.6 80.1V84.6M169.9 70.5V73.3M189 71.8V74.4M191.2 72.7V75.3M119.4 75.2V85.5M154.6 68.2V73.7M87 61.2V69.2M186 68.3V72.7M78.2 91.6V108.2M113.8 59.4V68.5M146.7 81.6V86.8M105.6 86.7V103M129.9 69.8V76.9M121.6 80V85.4M156.7 71.1V75.4M140.7 66.1V69.6M175.3 72.1V76.8M151.8 74.7V82.9M162.7 71.8V75.1M60.5 78.3V91.7M157.7 93V98.1M185.3 73V78.6M93.9 61.6V77.5M169.8 74.8V77.9M170 71V78M84.8 69.1V86.4M151.1 66.6V72.8M116.8 95.7V103.1M123.9 62.6V71.7M200.2 70.2V75.5M146.4 71.4V79.3M136.2 82.4V92.1M171.5 71.5V77.9M126.4 85.2V98.3M92.9 50.7V66.4M195.7 77.3V83.7M97.4 81.2V97M184.2 73.7V78.9M194.9 73.3V76.3M135.3 73.4V78.6M91.5 90.2V109.5M134.3 60.5V69.7M143.5 64.1V72.6M170.2 72.8V75.5M207.7 71.6V76M108.4 61V74.9M69.5 82.9V97.9M196 69.6V73.4M51.6 44.4V65.5M192.4 73.8V76.8M183.1 73.8V79.7M184 79.5V83.3M127.7 95V103M102.7 82.4V98.3M149.3 66.1V74.2M131.2 77.5V85.6M161.4 76.7V80.1M101.5 57.4V68.8M135.5 61V68.9M185.7 68.1V70.7M148.4 75V82.6M187.6 78V84.8M166 68.3V71M93.7 56.6V70.1M154.4 77.2V85.6M100.5 86.6V92.4M82 60.9V79M149.9 59.1V67.6M56 74.8V93.8M76.5 83.9V96.2M126.3 65.4V74.4M100 71.5V77.1M156.5 70.5V76.7M112.7 70.7V80.9M108.1 98.3V114.9M144.4 70V76.9M141.5 62V70.1M177.3 71.1V76.4M174.2 69.8V75.8M188.4 74.3V80.8M90 92.5V117.4M77.7 69.2V88.5M166.2 73.1V76.2M127.5 95.1V105M76.7 59.1V68.4M142.1 77.6V83.2M117.9 67.5V74.8M104.4 82.5V95.9M156.5 75.6V80.1M164.2 74V78.2M110.4 65.5V73M156.6 79.3V85.3M106 80.1V93.4M182.2 67.3V69.9M127.2 76.6V82.1M135.8 88.1V96M98.3 85.4V108.6M134.8 73.5V82.6M112.5 72V81.3M169.9 75.8V82.1M93.8 78.2V93.1M142.5 61.7V68M127.9 85.9V90M185.6 68.1V73.7M155.4 77.3V82.9M145.6 76.3V82.5M95.4 68.9V75.9M88.8 65.8V75M150.1 76.3V80.7M186.6 66.9V70.7M84.5 72.5V90M130 65.5V73.6M123.9 82.7V92.4M63.8 49.5V60.5M152.1 71.4V75.7M134.7 67.4V73.5M136.8 73V83.1M175.4 69.3V71.6M152 77.1V83.7M107.8 75.7V83M192 77.2V85.2M187.1 66.2V71.5M159.5 64.5V67.4M91.9 75.3V84.9M153.1 62.3V68M51.1 41.8V68.1M113.7 65.3V74.4M131.5 60.5V67.4M134.4 60.3V68.1M170.4 67.2V73.2M145.2 95.5V101.5M154.6 76.7V83.8M133.1 67V72.8M163.8 87.4V93.3M100.9 62.1V67.5M183.7 80V84.4M176.5 67.9V74.4M185.6 70.3V74.3M190.7 67.7V71.2M169.8 71.8V77.4M114.2 67.5V78.6M185.9 68.7V70.9M173.1 74.6V78.1M135.7 71.7V78.9M87.8 69V81.5M194.5 68.3V72.1M104.4 67.5V80.3M99 79.2V85.7M144.7 78.7V84.1M179 70.1V75.8M111.7 63.2V69.7M103.8 78.7V90.6M170 81.7V89.3M146 83.4V89.7M146.1 80.2V84.2M149 79.7V83.8M172.8 66.7V73.3M169.5 64.1V68.4M111 66.7V73.8M123 79.3V84.2M205.2 68.7V73M176.3 73.9V78.2M143.2 72.4V81.1M117.9 84V95.6M184 74.6V77.2M113.3 64.5V69.7M134.6 73.3V83.6M148.9 78.5V83.8M168 74V78.1M161.1 70.5V76.4M158.9 77V81.6M103.6 97.1V110.2M120.1 77.1V83.2M166 74.2V77.6M147.2 68.6V75.1M185.6 68.7V73.3M81.8 64.2V82.7M196.6 67.8V73M138.1 80.9V89M114.9 75.5V82.3M88.1 69.7V81.8M81.3 76.9V88.3M199 73.3V75.4M170.2 68.6V72.7M195.4 72V77M177.5 68V71.5M131 87.1V91.1M101.6 78.1V89.2M142.8 57.8V65.4M107.7 58.6V67.8M97.1 62.4V70.2M144.8 71.5V79.9M146.4 68.6V74.6M196.7 65.4V70.8M172.3 66.5V71.4M61.8 67.1V95.7M98.8 73.2V88.5M145.2 60.1V69.3M161.2 69.8V76.3M198.1 70.7V74.6M144.2 65.6V71.8M135.3 90.8V103.5M57.1 44.1V67.9M131.5 79.3V90.2M179.4 81.3V91M78.4 70V80.7M141.5 67.8V71.7M190.6 71.2V73.3M192.4 73.6V77.9M60.7 82V99.4M116.3 87.5V92.3M101.9 74.9V83.8M196 66.9V72.2M171.6 71.2V74.9M111.4 60.3V65.6M125.8 79.4V90.8M157.6 71V77.1M65.2 69.1V101.1M98.1 73V81.1M170.5 77.3V81.9M116.1 85.4V94.4M107.4 61.8V75.5M185.3 68.9V72.3M162.6 68.6V73.5M178.7 68.6V70.9M169.8 68.1V73.4M140.3 89.3V94.9M100.6 59.9V68.7M159.8 66.5V70.8M144 71.2V76M163.6 71V77.4M157.5 61.4V64.9M170.5 70V72.6M77.4 67.5V77.5M97.9 63.6V70.5M181.9 72.9V78.1M158.7 87.6V93.4M179.9 65.8V71.1M77.7 62.8V78.8M141.1 65.2V74.3M58.2 84.5V101.5M96.9 66.3V76M74.7 68.1V81.5M101.2 62.7V68.7M110 74.9V82M82.3 77.9V95.7M154.8 59.6V67.5M148 89V98.5M158.7 71.4V77M195 73.1V75.3M113.1 79.5V84.4M108.3 80.1V89M116 57.6V65.4M173.5 65.8V70.5M155.3 60V64.3M166 65.2V71.6M107.3 62.7V75.5M93.6 80V86M135.7 88.4V101.7M184.5 69.2V74.7M110.3 82.9V94.9M167.4 72.1V79.3M160.6 73.9V78M123.5 89.4V105.3M160.3 71.1V74.9M186.7 68.4V71.5M104.1 95.7V112.8M110.5 66.4V75.8M126.2 70.5V78.3M102.3 86.4V93.5M127.5 65.1V72.6M163.9 74.8V77.9M178.6 75.9V84.8M156.4 70.8V74.5M143.3 67.4V75.3M186.7 70.4V75.2M100.9 82V93.7M160 66.9V74.2M125 81V89M188.7 74.1V77.3M101.9 58.9V69.4M109.7 59.3V70.9M90.6 67.5V81.4M133.7 80.7V85.4M159.1 78.9V89.5M114.4 72.4V82M183.6 69.5V75.2M171.8 72.4V75.8M111.8 85.6V92.8M149.9 66V73M155.6 85.3V90.2M94 90.2V109.5M154.7 78.5V85M152.3 78.4V85.1M180.4 66.8V71.5M115.1 70.3V77.1M94.1 84.9V93.7M143.6 83.9V90.4M178.8 77V83M91.5 56.6V72.4M103.5 68.5V75.2M89 96.1V112.4M197.5 69.8V72M167.2 72.6V76.4M86.7 74.5V87.5M177.5 68.4V72.1M131.7 76.9V82.7M64.8 83.3V96.2M79.2 74.1V85.3M108.9 90.4V98.1M71.4 87.6V105.6M98.4 65.1V76M79.9 67.5V84.1M94.6 97.5V113.8M87.9 53.6V64M130.3 80.3V88.7M174.9 74.9V78.2M169.9 74.1V78.7M142 69.4V74.5M79.5 74.4V84.8M190.2 71V74.8M80.6 49.8V68.1M58.4 43.6V64.2M165.8 68.6V73.8M152.3 92V104.7M166.9 70.3V76.9M112.3 66.1V78.4M183.1 69.8V72.5M180.5 68V71.1M73.5 83.1V105.9M191.4 73.6V78.5M168.2 75.4V78.4M178.2 70.2V72.4M136.4 72.7V80.5M171.2 76.6V81.4M185.5 67.1V70.9M183.6 67.4V69.7M112.5 55.5V67.2M98.7 80.1V85.6M154.7 90.1V102.2M132.6 73.2V82.8M178.9 78.3V83.8M133.3 84.3V88.4M97.1 70.7V85.9M124.5 80.9V88.7M192.3 77.7V84.7M160.2 68.4V73.6M98.3 61.8V68.3M101 92.7V104.1M125.8 63.7V70.9M189.2 71.4V76.2M140.6 72.8V82.2M111.6 59.6V67.8M104.1 83.4V92M108.8 74.6V88.1M142.7 94.9V102.8M104.3 92.8V109.3M89.2 60.9V76.2M174.5 69.3V72.5M155.4 89.8V101.6M149.1 84.6V93.5M109.8 86.6V92.8M129.7 70.4V76M181.4 80.9V84.4M110.6 57V66M131.2 75.7V79.6M87.7 60.5V69M126.2 73.4V81.5M85.1 76V91.6M168.3 67.9V73.5M204.9 70.7V75.8M83 69V84.4M122.7 85V100.5M190.8 74.2V77M91.6 72V81.2M173 69.9V73.6M89.9 70.3V79.2M134.5 77.8V83.4M169.8 64.2V68.9M170.5 68.7V73.6M172.2 66.1V70.7M118.3 99.3V107.3M143.1 85.2V88.8M92.9 78.9V87.1M199.9 68.7V74.1M164.1 65.5V71.4M126.6 60.1V69.9M138.1 83.6V87.5M147.8 71.2V79.8M122.5 72.4V80.8M119.1 90.7V102.9M185 73.9V77.8M97.1 89.3V100.7M190.5 69.8V75M144.1 66V72.9M134.4 70.6V75M135.5 68.7V76.7M59.6 56.4V80M118.5 97.3V106.1M134.4 72.9V79.9M74.6 77V99.9M58.1 60.2V71.9M54.4 68.1V105.4M151.5 79V86.4M55 50.6V69.9M190.9 68.6V70.9M152.3 78.2V86.1M162.4 75.6V82.5M72.7 69.1V79M139.7 81.4V85.3M103.5 74.6V89.1M186.6 70V75.3M122.2 91.7V110.7M102.4 66.7V79.3M130.9 79.5V83.1M118.2 88.7V96.1M95 67.1V78.2M169.4 69.3V76M104.9 61.4V75.1M185.1 70.4V76.2M164.4 65.9V71.5M179.2 82.9V86.9M163.6 79.1V86.7M182.1 73.9V81.7M191.5 70.4V72.9M57.2 75.8V105.3M110.2 62V74.8M184.7 65.4V67.8M143.7 93.1V100.1M186.8 70.3V73M134.5 82.3V98.5M120.5 79.2V83.6M175.7 68.8V72.1M110.8 71V77.8M128.3 66.3V74.3M174.9 74.4V79.7M126.3 70.4V76.5M155.5 80.7V88.6M96.1 52.1V65.5M103.9 56.9V71.5M195.7 71V76M101.7 91.6V107.9M97.8 54.9V67M60.5 59.5V71M83.4 71.4V80.4M127.4 80.9V90.7M151.2 61.9V65.8M181.7 66.6V72.5M197.6 69.1V73.1M122.1 95.7V103.3M138.4 71.7V80.3M127.7 65.5V75.9M134.6 92.2V106.5M178.4 70.1V72.3M129 96.5V104.5M165.2 68.1V71.2M178.6 76V80.3M128.4 96.2V104.9M120.4 85.8V102.9M86.4 61V77.5M157.4 70.4V77.5M171.7 77.1V87M153.2 67.3V73.8M112.4 66.1V74.7M160.7 72.9V79.6M105.7 75.2V81.3M172.3 67.4V71.5M189.4 69V73.4M118.5 75V86.7M150 62.6V66.4M133.7 75.1V81.9M119.4 73.1V79.5M182.9 70.1V74.5M117.3 59.8V68.2M170.9 72V75M166.3 69.6V74.5M90.1 91V110.9M175.2 70.7V76.3M124.5 78V82.6M123.7 76.2V83M132.6 82.2V87.6M127.4 70.1V76.5M129.9 80.8V84.8M166.5 76.1V79.6M116.8 59.2V70.8M97 57.2V70.9M166.7 68.9V75.9M130.8 79.6V87.8M142.9 89.3V98.1M98.9 83.2V88.8M157.6 80.6V84.3M151 68.1V73M153.4 61.8V66.9M188 72.9V77.4M82.8 54.2V65.2M140.9 67.9V75.5M74.4 53.7V61.3M123.6 87.2V91.5M154.1 72.5V79.6M173.4 72.2V77.3M112.5 77.1V86.5M183.5 71.2V77.1M186.7 73.5V76.6M186.7 71.1V74.1M131.8 86.9V90.9M152.2 61.9V70.4M136.1 74.8V83.6M81.2 64.4V78M112.1 69.9V80.2M176.3 72.2V77.1M100.1 68.7V81.4M132.6 70.3V79.1M157.5 64.7V70.8M128.9 67.5V73.2M147.8 80.3V84.8M145.9 65.7V72M92.8 67.6V84.3M71.6 77.6V99.3M141.3 64.1V70.6M153.2 79.8V84.9M145 63.3V69.9M194.6 72.4V75.2M96.2 62.7V77.3M85.5 88.3V104.2M176 70.4V75.8M183 66.6V70.7M193.5 69.2V71.4M183.1 70.3V73.9M127.1 75.9V80.5M146.1 88.8V103.1M153.5 76V79M146.5 82.2V90.5M129.7 64.1V70.8M175 68V73M168.4 70.7V73.8M68.3 91.8V112.3M185.9 72V74.7M129.9 75V79.7M163.8 75.4V80.7M193.6 71.6V74.6M154.9 66V72M110.9 58.8V64.6M150.2 73.4V81.7M131 70.1V76.1M100.2 55.2V66.1M96.2 75.5V90.8M167.9 69.4V76.4M130.9 55.3V66.1M131.9 76.2V81.3M122.4 79.1V83.6M150.6 72.4V81.2M152.4 80.9V86.4M171 68.5V71.1M115.8 71.6V82.7M149.8 72V79.9M139.6 65V73.7M87.2 63.5V74.8M179.2 68V74.4M150.6 83.2V89.6M136.9 81.2V86M140.8 67.6V75.3M141.4 85.2V90.5M128.6 69.3V74.4M140.2 97.3V103.2M174.8 69.2V72.9M124.7 66.9V76.2M167 74V76.8M58.2 65.1V93.4M117.7 61.6V71.5M165.3 72.5V84.1M155.4 68V72.6M87.4 63.3V76.7M122.5 96.7V108.7M132.2 82.5V89M173.5 67V72.9M89.7 66.6V79.1M96.2 77V90.9M115.6 57.3V66.6M128.1 85.6V89.4M161 65.1V69.9M126.7 81.9V87.8M162.4 68.6V73.9M106.4 70.6V77.3M122.9 86.6V91M168.7 70.9V74.7M131.3 69.2V79.2M139.7 70.4V77.2M130.3 72.2V76.8M87 70.9V84.9M139.6 73.9V79.1M74.1 94.7V108.8M97 101.7V110.3M164.2 65.5V72.8M165.2 67.4V73.9M193.6 79.9V83.8M165.9 75V79.1M127.2 76.9V84.1M103.3 66.2V73.9M103.7 62.5V73.2M109.7 68V75.1M185.7 70V75.1M130.8 77.5V86.4M141.7 69.4V78.4M140.6 85.1V98.4M90.8 55.6V71.1M150.1 81.2V85.1M53.5 40.2V65.1M153.5 78.1V81.2M106.7 81V94.2M191.9 70V74.2M152.8 83.3V87.3M138.3 58.4V64.4M91.2 50.6V65.5M112.2 61.9V71.7M112.8 76.5V81.4M188.1 74V78.4M140.6 76.4V82.1M140 67.6V76.4M135.8 69.3V76M121.9 81.4V93.3M156.9 71.6V75.6M135.1 74.8V79.1M145.5 80.1V83.2M161.7 86.4V98M154.4 74.6V83M99.5 83V101.6M185.2 72V76.5M98.7 72.3V86.2M145.7 61.7V68.4M186.2 75.9V81.2M196.5 68.3V71.9M122.2 96.1V113.1M144.7 83.4V87.2M154.7 74.6V79.7M107.1 77.9V90.7M129.1 92.7V103.4M149.9 74.8V81.4M245.2 71.5V73.5M257.5 75.3V77.3M233 73V75M215 70.4V73.4M210 75.4V78.4M205 69.9V73.9M203.8 78.3V84.3M200 72V76M198 68V72M223 73.5V76.5" stroke="#4c72b0" stroke-width="1.0" stroke-opacity="0.45" fill="none"/><g fill="#4c72b0" fill-opacity="0.5"><circle cx="125.5" cy="94" r="2.3"/><circle cx="74" cy="107.4" r="2.3"/><circle cx="107.1" cy="93.4" r="2.3"/><circle cx="194.4" cy="82.2" r="2.3"/><circle cx="111.8" cy="92.7" r="2.3"/><circle cx="158.1" cy="87.7" r="2.3"/><circle cx="61.8" cy="87.8" r="2.3"/><circle cx="50.8" cy="83.6" r="2.3"/><circle cx="107.2" cy="105.5" r="2.3"/><circle cx="139.5" cy="91.7" r="2.3"/><circle cx="59.5" cy="58.3" r="2.3"/><circle cx="188.3" cy="77" r="2.3"/><circle cx="123.6" cy="91.9" r="2.3"/><circle cx="190.6" cy="82.5" r="2.3"/><circle cx="107.8" cy="104.6" r="2.3"/><circle cx="165" cy="81.7" r="2.3"/><circle cx="126.3" cy="98.6" r="2.3"/><circle cx="50.6" cy="64.1" r="2.3"/><circle cx="129.8" cy="95.3" r="2.3"/><circle cx="132.8" cy="92.4" r="2.3"/><circle cx="51.9" cy="63.1" r="2.3"/><circle cx="187.6" cy="79.1" r="2.3"/><circle cx="54" cy="82.6" r="2.3"/><circle cx="71.6" cy="57.8" r="2.3"/><circle cx="75.3" cy="107.9" r="2.3"/><circle cx="104.9" cy="102" r="2.3"/><circle cx="121.4" cy="104.1" r="2.3"/><circle cx="161.1" cy="82.3" r="2.3"/><circle cx="139.3" cy="99.1" r="2.3"/><circle cx="73.1" cy="101.5" r="2.3"/><circle cx="62.7" cy="92.7" r="2.3"/><circle cx="145.6" cy="88.9" r="2.3"/><circle cx="108.9" cy="105.9" r="2.3"/><circle cx="157.3" cy="90.1" r="2.3"/><circle cx="74.5" cy="67.8" r="2.3"/><circle cx="60.8" cy="82" r="2.3"/><circle cx="50" cy="78.8" r="2.3"/><circle cx="108.1" cy="91.1" r="2.3"/><circle cx="150.8" cy="99.1" r="2.3"/><circle cx="152.3" cy="97.3" r="2.3"/><circle cx="167.1" cy="79.1" r="2.3"/><circle cx="106.5" cy="106.1" r="2.3"/><circle cx="65.2" cy="75.5" r="2.3"/><circle cx="124.3" cy="102.8" r="2.3"/><circle cx="62.1" cy="54.9" r="2.3"/><circle cx="190.5" cy="82.2" r="2.3"/><circle cx="119.7" cy="102.8" r="2.3"/><circle cx="139" cy="99.3" r="2.3"/><circle cx="146.1" cy="99.4" r="2.3"/><circle cx="191.9" cy="81.7" r="2.3"/><circle cx="140.4" cy="98.8" r="2.3"/><circle cx="58.9" cy="54" r="2.3"/><circle cx="69.8" cy="92.1" r="2.3"/><circle cx="108.3" cy="100.8" r="2.3"/><circle cx="54.3" cy="92.1" r="2.3"/><circle cx="78.2" cy="103.9" r="2.3"/><circle cx="79.1" cy="90.8" r="2.3"/><circle cx="60.1" cy="65.5" r="2.3"/><circle cx="188.1" cy="77.8" r="2.3"/><circle cx="146.6" cy="96.5" r="2.3"/><circle cx="164.2" cy="81" r="2.3"/><circle cx="160.2" cy="86.4" r="2.3"/><circle cx="148" cy="90.4" r="2.3"/><circle cx="145.4" cy="94.3" r="2.3"/><circle cx="71.6" cy="106.8" r="2.3"/><circle cx="141.5" cy="97.1" r="2.3"/><circle cx="192" cy="78.8" r="2.3"/><circle cx="63.2" cy="84.6" r="2.3"/><circle cx="169.3" cy="82.3" r="2.3"/><circle cx="54.4" cy="82.9" r="2.3"/><circle cx="177.9" cy="82.1" r="2.3"/><circle cx="89.2" cy="90.6" r="2.3"/><circle cx="70.9" cy="104.3" r="2.3"/><circle cx="157.1" cy="96.3" r="2.3"/><circle cx="183.3" cy="81" r="2.3"/><circle cx="57.3" cy="76.4" r="2.3"/><circle cx="164.6" cy="83.6" r="2.3"/><circle cx="124.7" cy="93.9" r="2.3"/><circle cx="142.2" cy="99" r="2.3"/><circle cx="163.6" cy="89.7" r="2.3"/><circle cx="54.4" cy="62.5" r="2.3"/><circle cx="155.3" cy="91.7" r="2.3"/><circle cx="72.4" cy="82.5" r="2.3"/><circle cx="142.7" cy="98.6" r="2.3"/><circle cx="74.3" cy="70.8" r="2.3"/><circle cx="91.1" cy="105" r="2.3"/><circle cx="174.5" cy="83" r="2.3"/><circle cx="161.3" cy="87.6" r="2.3"/><circle cx="64.2" cy="69.9" r="2.3"/><circle cx="112.4" cy="104.3" r="2.3"/><circle cx="60.9" cy="68.2" r="2.3"/><circle cx="50.8" cy="64.1" r="2.3"/><circle cx="57.6" cy="58.7" r="2.3"/><circle cx="133.8" cy="93.2" r="2.3"/><circle cx="51.2" cy="54.7" r="2.3"/><circle cx="205.1" cy="76.7" r="2.3"/><circle cx="68.3" cy="89.6" r="2.3"/><circle cx="186.5" cy="76.6" r="2.3"/><circle cx="71.2" cy="89.4" r="2.3"/><circle cx="57.5" cy="86.9" r="2.3"/><circle cx="148.2" cy="88.4" r="2.3"/><circle cx="156.2" cy="91.6" r="2.3"/><circle cx="103.3" cy="98.6" r="2.3"/><circle cx="127.7" cy="101.6" r="2.3"/><circle cx="60.3" cy="80.3" r="2.3"/><circle cx="71.1" cy="78.6" r="2.3"/><circle cx="140.3" cy="98.5" r="2.3"/><circle cx="99.6" cy="94.5" r="2.3"/><circle cx="121.4" cy="92.5" r="2.3"/><circle cx="179.7" cy="84.1" r="2.3"/><circle cx="164.2" cy="87.8" r="2.3"/><circle cx="74.1" cy="92.9" r="2.3"/><circle cx="105" cy="97.6" r="2.3"/><circle cx="184.2" cy="76.9" r="2.3"/><circle cx="199.4" cy="78.3" r="2.3"/><circle cx="167.9" cy="89" r="2.3"/><circle cx="177.1" cy="78.4" r="2.3"/><circle cx="150.1" cy="94.1" r="2.3"/><circle cx="72.2" cy="69.9" r="2.3"/><circle cx="183.7" cy="84.1" r="2.3"/><circle cx="73.6" cy="69.9" r="2.3"/><circle cx="69.9" cy="89" r="2.3"/><circle cx="173" cy="86.7" r="2.3"/><circle cx="72.7" cy="103.9" r="2.3"/><circle cx="105.2" cy="98.7" r="2.3"/><circle cx="111.9" cy="90.2" r="2.3"/><circle cx="147.1" cy="91.4" r="2.3"/><circle cx="56.8" cy="70.7" r="2.3"/><circle cx="66.5" cy="98.8" r="2.3"/><circle cx="136.7" cy="94.5" r="2.3"/><circle cx="73.5" cy="76.8" r="2.3"/><circle cx="55.6" cy="63.5" r="2.3"/><circle cx="171.1" cy="88.2" r="2.3"/><circle cx="138.3" cy="96.2" r="2.3"/><circle cx="88.4" cy="99.6" r="2.3"/><circle cx="156.9" cy="92.6" r="2.3"/><circle cx="67.4" cy="92.6" r="2.3"/><circle cx="66.5" cy="86.1" r="2.3"/><circle cx="77.8" cy="97.8" r="2.3"/><circle cx="104.5" cy="104" r="2.3"/><circle cx="64.1" cy="94.4" r="2.3"/><circle cx="58.3" cy="77.4" r="2.3"/><circle cx="94.1" cy="105.6" r="2.3"/><circle cx="194.1" cy="78" r="2.3"/><circle cx="78.2" cy="99.9" r="2.3"/><circle cx="105.6" cy="94.9" r="2.3"/><circle cx="60.5" cy="85" r="2.3"/><circle cx="157.7" cy="95.5" r="2.3"/><circle cx="116.8" cy="99.4" r="2.3"/><circle cx="126.4" cy="91.7" r="2.3"/><circle cx="195.7" cy="80.5" r="2.3"/><circle cx="91.5" cy="99.9" r="2.3"/><circle cx="69.5" cy="90.4" r="2.3"/><circle cx="51.6" cy="54.9" r="2.3"/><circle cx="184" cy="81.4" r="2.3"/><circle cx="127.7" cy="99" r="2.3"/><circle cx="102.7" cy="90.3" r="2.3"/><circle cx="187.6" cy="81.4" r="2.3"/><circle cx="56" cy="84.3" r="2.3"/><circle cx="76.5" cy="90.1" r="2.3"/><circle cx="108.1" cy="106.6" r="2.3"/><circle cx="188.4" cy="77.5" r="2.3"/><circle cx="90" cy="104.9" r="2.3"/><circle cx="127.5" cy="100.1" r="2.3"/><circle cx="135.8" cy="92" r="2.3"/><circle cx="98.3" cy="97" r="2.3"/><circle cx="169.9" cy="79" r="2.3"/><circle cx="63.8" cy="55" r="2.3"/><circle cx="192" cy="81.2" r="2.3"/><circle cx="51.1" cy="54.9" r="2.3"/><circle cx="145.2" cy="98.5" r="2.3"/><circle cx="163.8" cy="90.4" r="2.3"/><circle cx="183.7" cy="82.2" r="2.3"/><circle cx="170" cy="85.5" r="2.3"/><circle cx="103.6" cy="103.7" r="2.3"/><circle cx="61.8" cy="81.4" r="2.3"/><circle cx="135.3" cy="97.2" r="2.3"/><circle cx="57.1" cy="56" r="2.3"/><circle cx="179.4" cy="86.2" r="2.3"/><circle cx="60.7" cy="90.7" r="2.3"/><circle cx="65.2" cy="85.1" r="2.3"/><circle cx="170.5" cy="79.6" r="2.3"/><circle cx="140.3" cy="92.1" r="2.3"/><circle cx="158.7" cy="90.5" r="2.3"/><circle cx="58.2" cy="93" r="2.3"/><circle cx="74.7" cy="74.8" r="2.3"/><circle cx="148" cy="93.8" r="2.3"/><circle cx="135.7" cy="95.1" r="2.3"/><circle cx="123.5" cy="97.3" r="2.3"/><circle cx="104.1" cy="104.3" r="2.3"/><circle cx="178.6" cy="80.3" r="2.3"/><circle cx="159.1" cy="84.2" r="2.3"/><circle cx="155.6" cy="87.8" r="2.3"/><circle cx="94" cy="99.9" r="2.3"/><circle cx="178.8" cy="80" r="2.3"/><circle cx="89" cy="104.2" r="2.3"/><circle cx="64.8" cy="89.7" r="2.3"/><circle cx="108.9" cy="94.3" r="2.3"/><circle cx="71.4" cy="96.6" r="2.3"/><circle cx="94.6" cy="105.7" r="2.3"/><circle cx="58.4" cy="53.9" r="2.3"/><circle cx="152.3" cy="98.3" r="2.3"/><circle cx="73.5" cy="94.5" r="2.3"/><circle cx="171.2" cy="79" r="2.3"/><circle cx="154.7" cy="96.1" r="2.3"/><circle cx="178.9" cy="81" r="2.3"/><circle cx="192.3" cy="81.2" r="2.3"/><circle cx="101" cy="98.4" r="2.3"/><circle cx="142.7" cy="98.9" r="2.3"/><circle cx="104.3" cy="101" r="2.3"/><circle cx="155.4" cy="95.7" r="2.3"/><circle cx="149.1" cy="89.1" r="2.3"/><circle cx="181.4" cy="82.6" r="2.3"/><circle cx="122.7" cy="92.7" r="2.3"/><circle cx="118.3" cy="103.3" r="2.3"/><circle cx="119.1" cy="96.8" r="2.3"/><circle cx="97.1" cy="95" r="2.3"/><circle cx="59.6" cy="68.2" r="2.3"/><circle cx="118.5" cy="101.7" r="2.3"/><circle cx="74.6" cy="88.4" r="2.3"/><circle cx="58.1" cy="66.1" r="2.3"/><circle cx="54.4" cy="86.8" r="2.3"/><circle cx="55" cy="60.2" r="2.3"/><circle cx="72.7" cy="74.1" r="2.3"/><circle cx="122.2" cy="101.2" r="2.3"/><circle cx="118.2" cy="92.4" r="2.3"/><circle cx="179.2" cy="84.9" r="2.3"/><circle cx="163.6" cy="82.9" r="2.3"/><circle cx="182.1" cy="77.8" r="2.3"/><circle cx="57.2" cy="90.5" r="2.3"/><circle cx="143.7" cy="96.6" r="2.3"/><circle cx="134.5" cy="90.4" r="2.3"/><circle cx="101.7" cy="99.7" r="2.3"/><circle cx="60.5" cy="65.2" r="2.3"/><circle cx="122.1" cy="99.5" r="2.3"/><circle cx="134.6" cy="99.3" r="2.3"/><circle cx="129" cy="100.5" r="2.3"/><circle cx="178.6" cy="78.1" r="2.3"/><circle cx="128.4" cy="100.6" r="2.3"/><circle cx="120.4" cy="94.3" r="2.3"/><circle cx="171.7" cy="82" r="2.3"/><circle cx="90.1" cy="101" r="2.3"/><circle cx="142.9" cy="93.7" r="2.3"/><circle cx="74.4" cy="57.5" r="2.3"/><circle cx="71.6" cy="88.5" r="2.3"/><circle cx="85.5" cy="96.3" r="2.3"/><circle cx="146.1" cy="96" r="2.3"/><circle cx="68.3" cy="102" r="2.3"/><circle cx="150.6" cy="86.4" r="2.3"/><circle cx="140.2" cy="100.2" r="2.3"/><circle cx="58.2" cy="79.2" r="2.3"/><circle cx="165.3" cy="78.3" r="2.3"/><circle cx="122.5" cy="102.7" r="2.3"/><circle cx="74.1" cy="101.8" r="2.3"/><circle cx="97" cy="106" r="2.3"/><circle cx="193.6" cy="81.9" r="2.3"/><circle cx="140.6" cy="91.7" r="2.3"/><circle cx="53.5" cy="52.6" r="2.3"/><circle cx="161.7" cy="92.2" r="2.3"/><circle cx="99.5" cy="92.3" r="2.3"/><circle cx="186.2" cy="78.5" r="2.3"/><circle cx="122.2" cy="104.6" r="2.3"/><circle cx="129.1" cy="98.1" r="2.3"/></g><g fill="#4c72b0" fill-opacity="0.65"><circle cx="172.4" cy="75.2" r="2.3"/><circle cx="172.7" cy="77.5" r="2.3"/><circle cx="140.5" cy="75.4" r="2.3"/><circle cx="113.6" cy="69.3" r="2.3"/><circle cx="76.9" cy="74.5" r="2.3"/><circle cx="128.4" cy="68" r="2.3"/><circle cx="75.2" cy="73" r="2.3"/><circle cx="207.7" cy="73.7" r="2.3"/><circle cx="155.1" cy="83.9" r="2.3"/><circle cx="131.5" cy="73.1" r="2.3"/><circle cx="183.7" cy="72.2" r="2.3"/><circle cx="177.1" cy="66.8" r="2.3"/><circle cx="126.5" cy="71.1" r="2.3"/><circle cx="138" cy="80.1" r="2.3"/><circle cx="157.8" cy="70.1" r="2.3"/><circle cx="79.1" cy="85.3" r="2.3"/><circle cx="144.8" cy="66.2" r="2.3"/><circle cx="181.5" cy="70.3" r="2.3"/><circle cx="80.1" cy="79.8" r="2.3"/><circle cx="180.3" cy="73.9" r="2.3"/><circle cx="106.2" cy="84.9" r="2.3"/><circle cx="183.4" cy="72.7" r="2.3"/><circle cx="180.5" cy="76.8" r="2.3"/><circle cx="161.2" cy="77.1" r="2.3"/><circle cx="139.1" cy="74" r="2.3"/><circle cx="131.6" cy="75.5" r="2.3"/><circle cx="103" cy="77.5" r="2.3"/><circle cx="118.5" cy="63.1" r="2.3"/><circle cx="172.5" cy="76.9" r="2.3"/><circle cx="117.4" cy="66.9" r="2.3"/><circle cx="95.7" cy="82.2" r="2.3"/><circle cx="160.2" cy="70.1" r="2.3"/><circle cx="133" cy="63" r="2.3"/><circle cx="171.7" cy="66.3" r="2.3"/><circle cx="117.8" cy="82.6" r="2.3"/><circle cx="171.8" cy="73.3" r="2.3"/><circle cx="139.5" cy="85.4" r="2.3"/><circle cx="107.3" cy="69.9" r="2.3"/><circle cx="85.3" cy="57" r="2.3"/><circle cx="177.2" cy="73.5" r="2.3"/><circle cx="127.3" cy="68.7" r="2.3"/><circle cx="188.7" cy="69.3" r="2.3"/><circle cx="144.9" cy="74.4" r="2.3"/><circle cx="157.5" cy="78.4" r="2.3"/><circle cx="158.6" cy="76.6" r="2.3"/><circle cx="134.7" cy="75.6" r="2.3"/><circle cx="105.5" cy="83.2" r="2.3"/><circle cx="153.9" cy="65.8" r="2.3"/><circle cx="89.4" cy="81.5" r="2.3"/><circle cx="159.5" cy="70.5" r="2.3"/><circle cx="153.3" cy="72.6" r="2.3"/><circle cx="124.7" cy="76.2" r="2.3"/><circle cx="171.6" cy="68.5" r="2.3"/><circle cx="101.8" cy="78.2" r="2.3"/><circle cx="171.5" cy="71.3" r="2.3"/><circle cx="125.1" cy="70.8" r="2.3"/><circle cx="161.8" cy="72.3" r="2.3"/><circle cx="150.9" cy="83.3" r="2.3"/><circle cx="189.3" cy="71.8" r="2.3"/><circle cx="199" cy="71.6" r="2.3"/><circle cx="163" cy="66.3" r="2.3"/><circle cx="172.8" cy="71.5" r="2.3"/><circle cx="96.2" cy="85.1" r="2.3"/><circle cx="161.8" cy="74.3" r="2.3"/><circle cx="177.5" cy="73" r="2.3"/><circle cx="127.6" cy="78" r="2.3"/><circle cx="144.6" cy="78.3" r="2.3"/><circle cx="136.5" cy="85.9" r="2.3"/><circle cx="191.7" cy="75.3" r="2.3"/><circle cx="117.5" cy="67.9" r="2.3"/><circle cx="127.7" cy="69.6" r="2.3"/><circle cx="152.9" cy="67.6" r="2.3"/><circle cx="188.5" cy="69" r="2.3"/><circle cx="187" cy="68.9" r="2.3"/><circle cx="118.8" cy="74.2" r="2.3"/><circle cx="198" cy="75.3" r="2.3"/><circle cx="101" cy="69.1" r="2.3"/><circle cx="174.6" cy="69.5" r="2.3"/><circle cx="96.8" cy="59.1" r="2.3"/><circle cx="128" cy="63.9" r="2.3"/><circle cx="82.5" cy="83.2" r="2.3"/><circle cx="178.8" cy="72.8" r="2.3"/><circle cx="175.2" cy="71.4" r="2.3"/><circle cx="94.4" cy="89.6" r="2.3"/><circle cx="141.7" cy="64.6" r="2.3"/><circle cx="110.1" cy="76" r="2.3"/><circle cx="137.9" cy="80.9" r="2.3"/><circle cx="144.6" cy="65.4" r="2.3"/><circle cx="89.2" cy="64.6" r="2.3"/><circle cx="179.6" cy="68.1" r="2.3"/><circle cx="112.7" cy="86.9" r="2.3"/><circle cx="78" cy="81.6" r="2.3"/><circle cx="102" cy="85.7" r="2.3"/><circle cx="120.5" cy="71.9" r="2.3"/><circle cx="182.7" cy="69.7" r="2.3"/><circle cx="136.6" cy="70.6" r="2.3"/><circle cx="133.7" cy="66.9" r="2.3"/><circle cx="156.7" cy="76.8" r="2.3"/><circle cx="178.9" cy="74.6" r="2.3"/><circle cx="120" cy="83.2" r="2.3"/><circle cx="171" cy="75" r="2.3"/><circle cx="127.3" cy="80" r="2.3"/><circle cx="148.9" cy="64.9" r="2.3"/><circle cx="164.5" cy="70.5" r="2.3"/><circle cx="138.9" cy="62.3" r="2.3"/><circle cx="159.3" cy="70.7" r="2.3"/><circle cx="160" cy="70.5" r="2.3"/><circle cx="95.7" cy="75.9" r="2.3"/><circle cx="104.4" cy="60.3" r="2.3"/><circle cx="103" cy="71.9" r="2.3"/><circle cx="149.7" cy="62.2" r="2.3"/><circle cx="182.3" cy="72.2" r="2.3"/><circle cx="123.5" cy="75.8" r="2.3"/><circle cx="129.4" cy="78.1" r="2.3"/><circle cx="158.2" cy="78.1" r="2.3"/><circle cx="170.1" cy="72.4" r="2.3"/><circle cx="189.3" cy="75.1" r="2.3"/><circle cx="124.6" cy="70.9" r="2.3"/><circle cx="120.5" cy="68.4" r="2.3"/><circle cx="174.6" cy="68.6" r="2.3"/><circle cx="106.6" cy="72.3" r="2.3"/><circle cx="180.4" cy="74.2" r="2.3"/><circle cx="163.2" cy="73.2" r="2.3"/><circle cx="142.6" cy="62.1" r="2.3"/><circle cx="117.4" cy="82.6" r="2.3"/><circle cx="138.1" cy="66.7" r="2.3"/><circle cx="75.8" cy="78.5" r="2.3"/><circle cx="142.1" cy="62.9" r="2.3"/><circle cx="136.2" cy="66.9" r="2.3"/><circle cx="175.7" cy="73.7" r="2.3"/><circle cx="145" cy="87.3" r="2.3"/><circle cx="137.7" cy="75.9" r="2.3"/><circle cx="149.3" cy="81.7" r="2.3"/><circle cx="163.7" cy="78.7" r="2.3"/><circle cx="141.5" cy="79.7" r="2.3"/><circle cx="137.9" cy="85.9" r="2.3"/><circle cx="151.2" cy="74" r="2.3"/><circle cx="144.5" cy="78.4" r="2.3"/><circle cx="101.4" cy="70" r="2.3"/><circle cx="198.5" cy="72.6" r="2.3"/><circle cx="165.6" cy="72" r="2.3"/><circle cx="191.2" cy="73" r="2.3"/><circle cx="114.6" cy="74.3" r="2.3"/><circle cx="132.4" cy="67.8" r="2.3"/><circle cx="110.6" cy="63.4" r="2.3"/><circle cx="108.7" cy="85" r="2.3"/><circle cx="179.2" cy="69.8" r="2.3"/><circle cx="97.7" cy="68.5" r="2.3"/><circle cx="159.2" cy="74.7" r="2.3"/><circle cx="109" cy="85.9" r="2.3"/><circle cx="80.5" cy="84.2" r="2.3"/><circle cx="101.6" cy="77.5" r="2.3"/><circle cx="157.9" cy="77.7" r="2.3"/><circle cx="139" cy="74.9" r="2.3"/><circle cx="144.1" cy="75.2" r="2.3"/><circle cx="133.5" cy="81.7" r="2.3"/><circle cx="112.2" cy="71.5" r="2.3"/><circle cx="137.5" cy="69.8" r="2.3"/><circle cx="186.9" cy="73.1" r="2.3"/><circle cx="102.8" cy="66" r="2.3"/><circle cx="164" cy="68.9" r="2.3"/><circle cx="109.3" cy="75.6" r="2.3"/><circle cx="101.7" cy="65" r="2.3"/><circle cx="118.3" cy="66.8" r="2.3"/><circle cx="86.7" cy="64.7" r="2.3"/><circle cx="188.6" cy="66.6" r="2.3"/><circle cx="123.3" cy="65.5" r="2.3"/><circle cx="99.4" cy="88.8" r="2.3"/><circle cx="79" cy="73.9" r="2.3"/><circle cx="104.5" cy="84.5" r="2.3"/><circle cx="129.5" cy="82.9" r="2.3"/><circle cx="149.7" cy="79.4" r="2.3"/><circle cx="195.9" cy="75.1" r="2.3"/><circle cx="182.8" cy="73.7" r="2.3"/><circle cx="186.8" cy="75.4" r="2.3"/><circle cx="88.4" cy="77.4" r="2.3"/><circle cx="178.3" cy="71.2" r="2.3"/><circle cx="127" cy="63.7" r="2.3"/><circle cx="169.6" cy="68.3" r="2.3"/><circle cx="118.2" cy="84.6" r="2.3"/><circle cx="139.5" cy="67.2" r="2.3"/><circle cx="88.9" cy="87" r="2.3"/><circle cx="174.5" cy="72.8" r="2.3"/><circle cx="136.9" cy="83.3" r="2.3"/><circle cx="126" cy="74.3" r="2.3"/><circle cx="190.1" cy="75.9" r="2.3"/><circle cx="124.4" cy="82.1" r="2.3"/><circle cx="181.4" cy="72.2" r="2.3"/><circle cx="129.6" cy="74.9" r="2.3"/><circle cx="124.3" cy="77.5" r="2.3"/><circle cx="122.9" cy="65.7" r="2.3"/><circle cx="78.8" cy="75.8" r="2.3"/><circle cx="112.6" cy="74.9" r="2.3"/><circle cx="79.5" cy="71.5" r="2.3"/><circle cx="143.3" cy="79.6" r="2.3"/><circle cx="132.3" cy="85.9" r="2.3"/><circle cx="96.7" cy="80.9" r="2.3"/><circle cx="186.4" cy="71.2" r="2.3"/><circle cx="93.5" cy="76.9" r="2.3"/><circle cx="190.6" cy="73.8" r="2.3"/><circle cx="90.4" cy="65.1" r="2.3"/><circle cx="128.6" cy="87.2" r="2.3"/><circle cx="171.9" cy="71.4" r="2.3"/><circle cx="81.1" cy="59" r="2.3"/><circle cx="187.8" cy="68.9" r="2.3"/><circle cx="158.6" cy="73.4" r="2.3"/><circle cx="110.5" cy="79" r="2.3"/><circle cx="136.6" cy="74.5" r="2.3"/><circle cx="109" cy="68.3" r="2.3"/><circle cx="183.1" cy="70.4" r="2.3"/><circle cx="81.9" cy="63.4" r="2.3"/><circle cx="141.4" cy="63.1" r="2.3"/><circle cx="100.5" cy="66.8" r="2.3"/><circle cx="127.9" cy="69.1" r="2.3"/><circle cx="165" cy="70.2" r="2.3"/><circle cx="161.8" cy="72.8" r="2.3"/><circle cx="101.2" cy="68" r="2.3"/><circle cx="119.4" cy="85.9" r="2.3"/><circle cx="130.3" cy="77.6" r="2.3"/><circle cx="125.8" cy="79.9" r="2.3"/><circle cx="158.4" cy="66" r="2.3"/><circle cx="170.4" cy="72.4" r="2.3"/><circle cx="132.2" cy="77.3" r="2.3"/><circle cx="81" cy="68.1" r="2.3"/><circle cx="123.5" cy="73.7" r="2.3"/><circle cx="190.1" cy="74.3" r="2.3"/><circle cx="145" cy="65.5" r="2.3"/><circle cx="150.2" cy="79.3" r="2.3"/><circle cx="172.3" cy="72.9" r="2.3"/><circle cx="110.3" cy="59.7" r="2.3"/><circle cx="117.4" cy="78.1" r="2.3"/><circle cx="182.3" cy="76.2" r="2.3"/><circle cx="138.8" cy="75.8" r="2.3"/><circle cx="94.3" cy="67" r="2.3"/><circle cx="169.8" cy="66.6" r="2.3"/><circle cx="135.8" cy="64.9" r="2.3"/><circle cx="135.9" cy="61.1" r="2.3"/><circle cx="181.6" cy="76.4" r="2.3"/><circle cx="93.1" cy="83.5" r="2.3"/><circle cx="109.1" cy="77.8" r="2.3"/><circle cx="120.6" cy="82.7" r="2.3"/><circle cx="173.8" cy="68.2" r="2.3"/><circle cx="127.2" cy="75" r="2.3"/><circle cx="170" cy="73.1" r="2.3"/><circle cx="208.4" cy="70.5" r="2.3"/><circle cx="191.2" cy="67.5" r="2.3"/><circle cx="158" cy="79.3" r="2.3"/><circle cx="102.2" cy="66.2" r="2.3"/><circle cx="155.6" cy="82.4" r="2.3"/><circle cx="101.3" cy="62.5" r="2.3"/><circle cx="124.3" cy="68.5" r="2.3"/><circle cx="81.7" cy="83" r="2.3"/><circle cx="96.9" cy="75.2" r="2.3"/><circle cx="100.2" cy="88.2" r="2.3"/><circle cx="176.4" cy="72.6" r="2.3"/><circle cx="174.8" cy="71.7" r="2.3"/><circle cx="188.1" cy="72.1" r="2.3"/><circle cx="173.8" cy="68.5" r="2.3"/><circle cx="106.1" cy="79.4" r="2.3"/><circle cx="111" cy="87.8" r="2.3"/><circle cx="147.9" cy="85.9" r="2.3"/><circle cx="103.2" cy="79.2" r="2.3"/><circle cx="194.5" cy="75.4" r="2.3"/><circle cx="123.4" cy="76.2" r="2.3"/><circle cx="146.5" cy="82.6" r="2.3"/><circle cx="113.1" cy="90" r="2.3"/><circle cx="199.3" cy="74.5" r="2.3"/><circle cx="149.1" cy="66" r="2.3"/><circle cx="84.9" cy="57.7" r="2.3"/><circle cx="172.7" cy="76.7" r="2.3"/><circle cx="156.7" cy="68.2" r="2.3"/><circle cx="137.6" cy="63.9" r="2.3"/><circle cx="155.3" cy="67.7" r="2.3"/><circle cx="110.6" cy="86.5" r="2.3"/><circle cx="115.9" cy="80" r="2.3"/><circle cx="140.5" cy="82" r="2.3"/><circle cx="81.3" cy="74.1" r="2.3"/><circle cx="148.3" cy="69.7" r="2.3"/><circle cx="100.2" cy="73.3" r="2.3"/><circle cx="109.6" cy="71.4" r="2.3"/><circle cx="184" cy="72" r="2.3"/><circle cx="148.3" cy="74.6" r="2.3"/><circle cx="108.3" cy="78.9" r="2.3"/><circle cx="201.9" cy="70.6" r="2.3"/><circle cx="183.7" cy="76.2" r="2.3"/><circle cx="171.6" cy="75.8" r="2.3"/><circle cx="119.4" cy="69.2" r="2.3"/><circle cx="147.8" cy="86" r="2.3"/><circle cx="85.9" cy="71.4" r="2.3"/><circle cx="159.5" cy="76.1" r="2.3"/><circle cx="141.1" cy="60.4" r="2.3"/><circle cx="141.2" cy="86" r="2.3"/><circle cx="164.5" cy="68.4" r="2.3"/><circle cx="83.5" cy="85" r="2.3"/><circle cx="104.3" cy="64.1" r="2.3"/><circle cx="197.7" cy="69.6" r="2.3"/><circle cx="115.4" cy="80.8" r="2.3"/><circle cx="109.8" cy="71.7" r="2.3"/><circle cx="82.1" cy="73.1" r="2.3"/><circle cx="116.9" cy="83.6" r="2.3"/><circle cx="114" cy="84.7" r="2.3"/><circle cx="109.9" cy="64.5" r="2.3"/><circle cx="96.4" cy="78.7" r="2.3"/><circle cx="170.8" cy="76.8" r="2.3"/><circle cx="192.3" cy="75.3" r="2.3"/><circle cx="186" cy="73.9" r="2.3"/><circle cx="132.1" cy="80.4" r="2.3"/><circle cx="80.7" cy="72" r="2.3"/><circle cx="121.4" cy="65.2" r="2.3"/><circle cx="125.1" cy="79" r="2.3"/><circle cx="163.8" cy="71.6" r="2.3"/><circle cx="165.2" cy="73.1" r="2.3"/><circle cx="183.6" cy="69.2" r="2.3"/><circle cx="135.3" cy="88" r="2.3"/><circle cx="107.6" cy="73.4" r="2.3"/><circle cx="185.4" cy="72.4" r="2.3"/><circle cx="182" cy="66.8" r="2.3"/><circle cx="92.5" cy="68.9" r="2.3"/><circle cx="104.1" cy="78.2" r="2.3"/><circle cx="156" cy="75.7" r="2.3"/><circle cx="174.3" cy="76.5" r="2.3"/><circle cx="101.2" cy="83.9" r="2.3"/><circle cx="130.1" cy="61.9" r="2.3"/><circle cx="144.3" cy="77.2" r="2.3"/><circle cx="145" cy="70.8" r="2.3"/><circle cx="140.8" cy="88.7" r="2.3"/><circle cx="107.7" cy="72.6" r="2.3"/><circle cx="154.9" cy="66.3" r="2.3"/><circle cx="147.7" cy="78.8" r="2.3"/><circle cx="189.9" cy="75" r="2.3"/><circle cx="101.2" cy="87.1" r="2.3"/><circle cx="92.2" cy="85.8" r="2.3"/><circle cx="121.9" cy="85.9" r="2.3"/><circle cx="118.5" cy="64.8" r="2.3"/><circle cx="133.5" cy="67.8" r="2.3"/><circle cx="98.8" cy="86.5" r="2.3"/><circle cx="161.1" cy="80" r="2.3"/><circle cx="174.5" cy="69.7" r="2.3"/><circle cx="185.3" cy="76.3" r="2.3"/><circle cx="86.3" cy="87.3" r="2.3"/><circle cx="116.2" cy="69.8" r="2.3"/><circle cx="137.3" cy="76.9" r="2.3"/><circle cx="130.2" cy="89.2" r="2.3"/><circle cx="104.6" cy="82.3" r="2.3"/><circle cx="163.6" cy="78.6" r="2.3"/><circle cx="176.5" cy="74" r="2.3"/><circle cx="106.2" cy="72.8" r="2.3"/><circle cx="97.9" cy="76.8" r="2.3"/><circle cx="140.9" cy="67.6" r="2.3"/><circle cx="95.6" cy="72.8" r="2.3"/><circle cx="189.1" cy="76.2" r="2.3"/><circle cx="175.9" cy="71.3" r="2.3"/><circle cx="128.8" cy="82.2" r="2.3"/><circle cx="170.2" cy="77.3" r="2.3"/><circle cx="126.4" cy="75.5" r="2.3"/><circle cx="134.1" cy="62.4" r="2.3"/><circle cx="101.7" cy="63.8" r="2.3"/><circle cx="191.4" cy="73.2" r="2.3"/><circle cx="145.8" cy="84.3" r="2.3"/><circle cx="147.1" cy="83.4" r="2.3"/><circle cx="115.1" cy="63.2" r="2.3"/><circle cx="105.2" cy="77.4" r="2.3"/><circle cx="134.1" cy="62.3" r="2.3"/><circle cx="96.1" cy="73" r="2.3"/><circle cx="113" cy="65.3" r="2.3"/><circle cx="120.5" cy="74.9" r="2.3"/><circle cx="107" cy="66.9" r="2.3"/><circle cx="200.9" cy="73.8" r="2.3"/><circle cx="98.4" cy="78.4" r="2.3"/><circle cx="177" cy="74.4" r="2.3"/><circle cx="168.8" cy="76.4" r="2.3"/><circle cx="149.7" cy="62.9" r="2.3"/><circle cx="143.5" cy="76" r="2.3"/><circle cx="141" cy="76.6" r="2.3"/><circle cx="88.6" cy="74.7" r="2.3"/><circle cx="146.3" cy="80" r="2.3"/><circle cx="198.1" cy="75.3" r="2.3"/><circle cx="135" cy="73.3" r="2.3"/><circle cx="132.4" cy="75.4" r="2.3"/><circle cx="180.2" cy="69.3" r="2.3"/><circle cx="102.6" cy="78" r="2.3"/><circle cx="191.6" cy="72.1" r="2.3"/><circle cx="175.1" cy="71.6" r="2.3"/><circle cx="142.5" cy="68.9" r="2.3"/><circle cx="152.7" cy="78.3" r="2.3"/><circle cx="85.9" cy="78.6" r="2.3"/><circle cx="136.6" cy="71.4" r="2.3"/><circle cx="189.5" cy="70.2" r="2.3"/><circle cx="79.5" cy="58.3" r="2.3"/><circle cx="88.7" cy="68.5" r="2.3"/><circle cx="158.4" cy="67.6" r="2.3"/><circle cx="183.1" cy="69.6" r="2.3"/><circle cx="96.7" cy="80.9" r="2.3"/><circle cx="177.1" cy="68.8" r="2.3"/><circle cx="105.5" cy="61.2" r="2.3"/><circle cx="143" cy="73.3" r="2.3"/><circle cx="167.6" cy="69.1" r="2.3"/><circle cx="136.3" cy="82.8" r="2.3"/><circle cx="179.8" cy="66.1" r="2.3"/><circle cx="122.1" cy="82.5" r="2.3"/><circle cx="171.5" cy="72" r="2.3"/><circle cx="133.7" cy="76.5" r="2.3"/><circle cx="189.6" cy="71.1" r="2.3"/><circle cx="127.5" cy="61.6" r="2.3"/><circle cx="83.1" cy="68.9" r="2.3"/><circle cx="120.2" cy="88.9" r="2.3"/><circle cx="95.2" cy="82.4" r="2.3"/><circle cx="127.9" cy="78.7" r="2.3"/><circle cx="128" cy="66.9" r="2.3"/><circle cx="107.9" cy="71.3" r="2.3"/><circle cx="129.6" cy="79.8" r="2.3"/><circle cx="158.3" cy="70.8" r="2.3"/><circle cx="147.2" cy="86.7" r="2.3"/><circle cx="108.3" cy="88.7" r="2.3"/><circle cx="161.6" cy="70.7" r="2.3"/><circle cx="129.9" cy="76.9" r="2.3"/><circle cx="134.2" cy="76.6" r="2.3"/><circle cx="99" cy="75.7" r="2.3"/><circle cx="175.9" cy="73.6" r="2.3"/><circle cx="122.3" cy="75.2" r="2.3"/><circle cx="114.5" cy="80.6" r="2.3"/><circle cx="187.7" cy="75.9" r="2.3"/><circle cx="116.1" cy="85.7" r="2.3"/><circle cx="102.3" cy="60.7" r="2.3"/><circle cx="125.4" cy="89" r="2.3"/><circle cx="140.5" cy="71.3" r="2.3"/><circle cx="151.1" cy="84.7" r="2.3"/><circle cx="127.2" cy="75.6" r="2.3"/><circle cx="158.6" cy="78.4" r="2.3"/><circle cx="187.4" cy="75.3" r="2.3"/><circle cx="134.4" cy="70.3" r="2.3"/><circle cx="133" cy="88.9" r="2.3"/><circle cx="132.8" cy="63.9" r="2.3"/><circle cx="173.6" cy="68.4" r="2.3"/><circle cx="133.5" cy="83.4" r="2.3"/><circle cx="87.3" cy="67" r="2.3"/><circle cx="121.5" cy="64.2" r="2.3"/><circle cx="137.1" cy="75.1" r="2.3"/><circle cx="122.6" cy="81.6" r="2.3"/><circle cx="88.5" cy="82.6" r="2.3"/><circle cx="182.6" cy="68.7" r="2.3"/><circle cx="96" cy="71" r="2.3"/><circle cx="163.6" cy="73.7" r="2.3"/><circle cx="130.2" cy="83.7" r="2.3"/><circle cx="138.3" cy="61.3" r="2.3"/><circle cx="157.8" cy="76.6" r="2.3"/><circle cx="137.6" cy="75.9" r="2.3"/><circle cx="134.2" cy="61.5" r="2.3"/><circle cx="130.8" cy="88.1" r="2.3"/><circle cx="137.6" cy="75.7" r="2.3"/><circle cx="119.7" cy="68" r="2.3"/><circle cx="90.9" cy="88.4" r="2.3"/><circle cx="123.2" cy="87.6" r="2.3"/><circle cx="157.4" cy="68.7" r="2.3"/><circle cx="174.1" cy="71.4" r="2.3"/><circle cx="167.6" cy="69.1" r="2.3"/><circle cx="120.1" cy="79.8" r="2.3"/><circle cx="137.6" cy="72.4" r="2.3"/><circle cx="173.5" cy="72.4" r="2.3"/><circle cx="145.8" cy="73.8" r="2.3"/><circle cx="172" cy="74.6" r="2.3"/><circle cx="159.2" cy="68" r="2.3"/><circle cx="82.3" cy="62" r="2.3"/><circle cx="195.9" cy="69.7" r="2.3"/><circle cx="145" cy="73.5" r="2.3"/><circle cx="149.9" cy="64.2" r="2.3"/><circle cx="110.3" cy="62.6" r="2.3"/><circle cx="184.4" cy="69.2" r="2.3"/><circle cx="120.6" cy="81.9" r="2.3"/><circle cx="137.6" cy="77.4" r="2.3"/><circle cx="79.8" cy="77.4" r="2.3"/><circle cx="167.5" cy="73.2" r="2.3"/><circle cx="154.2" cy="65.2" r="2.3"/><circle cx="107" cy="64.5" r="2.3"/><circle cx="175.3" cy="69" r="2.3"/><circle cx="143.9" cy="66" r="2.3"/><circle cx="187.7" cy="68.5" r="2.3"/><circle cx="174.2" cy="72.5" r="2.3"/><circle cx="88.2" cy="71.5" r="2.3"/><circle cx="107.5" cy="62.6" r="2.3"/><circle cx="177.6" cy="73.2" r="2.3"/><circle cx="93.1" cy="67.3" r="2.3"/><circle cx="173" cy="70.8" r="2.3"/><circle cx="109.7" cy="64.4" r="2.3"/><circle cx="120.1" cy="76.2" r="2.3"/><circle cx="92.5" cy="76.5" r="2.3"/><circle cx="150.7" cy="70.9" r="2.3"/><circle cx="95" cy="80.6" r="2.3"/><circle cx="175.8" cy="69.9" r="2.3"/><circle cx="137.4" cy="85.6" r="2.3"/><circle cx="149.5" cy="71.2" r="2.3"/><circle cx="172.2" cy="72.7" r="2.3"/><circle cx="128.7" cy="89" r="2.3"/><circle cx="138.6" cy="87.6" r="2.3"/><circle cx="92.4" cy="82.9" r="2.3"/><circle cx="109.7" cy="76.7" r="2.3"/><circle cx="133.8" cy="70.5" r="2.3"/><circle cx="163.1" cy="68.3" r="2.3"/><circle cx="134" cy="88" r="2.3"/><circle cx="145.3" cy="64.8" r="2.3"/><circle cx="166.8" cy="70.7" r="2.3"/><circle cx="145.5" cy="81.8" r="2.3"/><circle cx="189.7" cy="71.7" r="2.3"/><circle cx="134.6" cy="63.8" r="2.3"/><circle cx="155.4" cy="83.3" r="2.3"/><circle cx="137.6" cy="65.9" r="2.3"/><circle cx="88.7" cy="83.9" r="2.3"/><circle cx="84" cy="80.6" r="2.3"/><circle cx="81.7" cy="78.1" r="2.3"/><circle cx="120.1" cy="85.6" r="2.3"/><circle cx="139.3" cy="77.5" r="2.3"/><circle cx="189.8" cy="71.2" r="2.3"/><circle cx="104.6" cy="67" r="2.3"/><circle cx="198" cy="72.8" r="2.3"/><circle cx="176" cy="68.5" r="2.3"/><circle cx="141.3" cy="71.7" r="2.3"/><circle cx="169.5" cy="68.9" r="2.3"/><circle cx="176.8" cy="75.2" r="2.3"/><circle cx="95.5" cy="87.2" r="2.3"/><circle cx="182.9" cy="68.5" r="2.3"/><circle cx="91.4" cy="82.2" r="2.3"/><circle cx="115.4" cy="68.5" r="2.3"/><circle cx="93.3" cy="59.7" r="2.3"/><circle cx="151.8" cy="74.2" r="2.3"/><circle cx="117.2" cy="67" r="2.3"/><circle cx="146" cy="66.8" r="2.3"/><circle cx="127.3" cy="87.9" r="2.3"/><circle cx="149.3" cy="65.5" r="2.3"/><circle cx="137.3" cy="86.5" r="2.3"/><circle cx="163.2" cy="68.9" r="2.3"/><circle cx="119.6" cy="86.7" r="2.3"/><circle cx="89.8" cy="61.7" r="2.3"/><circle cx="107.9" cy="83" r="2.3"/><circle cx="96.7" cy="62.9" r="2.3"/><circle cx="128" cy="86" r="2.3"/><circle cx="165.1" cy="75.3" r="2.3"/><circle cx="89.5" cy="58.1" r="2.3"/><circle cx="97.5" cy="70.1" r="2.3"/><circle cx="122.7" cy="68" r="2.3"/><circle cx="137" cy="76" r="2.3"/><circle cx="143.1" cy="79.9" r="2.3"/><circle cx="114.3" cy="71.2" r="2.3"/><circle cx="144.2" cy="80.5" r="2.3"/><circle cx="119.8" cy="88.2" r="2.3"/><circle cx="149.7" cy="66.4" r="2.3"/><circle cx="166.5" cy="72.9" r="2.3"/><circle cx="122" cy="88.4" r="2.3"/><circle cx="133.8" cy="81.9" r="2.3"/><circle cx="93.1" cy="60.7" r="2.3"/><circle cx="110.3" cy="68.1" r="2.3"/><circle cx="77.7" cy="73.3" r="2.3"/><circle cx="85" cy="81.2" r="2.3"/><circle cx="164" cy="75.3" r="2.3"/><circle cx="148" cy="78.2" r="2.3"/><circle cx="171.6" cy="74.7" r="2.3"/><circle cx="99.4" cy="89.4" r="2.3"/><circle cx="121.7" cy="68.2" r="2.3"/><circle cx="147.6" cy="80.3" r="2.3"/><circle cx="178.4" cy="69.1" r="2.3"/><circle cx="143.2" cy="74.9" r="2.3"/><circle cx="92.3" cy="61.5" r="2.3"/><circle cx="166.7" cy="73.4" r="2.3"/><circle cx="183.3" cy="71.5" r="2.3"/><circle cx="95.2" cy="59.6" r="2.3"/><circle cx="176" cy="68.1" r="2.3"/><circle cx="160.6" cy="75.4" r="2.3"/><circle cx="135.8" cy="79.8" r="2.3"/><circle cx="136.2" cy="78.7" r="2.3"/><circle cx="187.9" cy="74.3" r="2.3"/><circle cx="111" cy="74.2" r="2.3"/><circle cx="168.4" cy="75" r="2.3"/><circle cx="140.6" cy="87.3" r="2.3"/><circle cx="146.5" cy="69.6" r="2.3"/><circle cx="89.9" cy="77.8" r="2.3"/><circle cx="89.7" cy="68.5" r="2.3"/><circle cx="195.4" cy="69.1" r="2.3"/><circle cx="160.7" cy="67.5" r="2.3"/><circle cx="151.1" cy="80.3" r="2.3"/><circle cx="145.4" cy="74.8" r="2.3"/><circle cx="107.1" cy="89.4" r="2.3"/><circle cx="96.8" cy="63" r="2.3"/><circle cx="147.9" cy="72.3" r="2.3"/><circle cx="120.7" cy="74.2" r="2.3"/><circle cx="148.1" cy="76.5" r="2.3"/><circle cx="187.8" cy="73.6" r="2.3"/><circle cx="133.5" cy="72.3" r="2.3"/><circle cx="116.1" cy="65.7" r="2.3"/><circle cx="191.1" cy="69.3" r="2.3"/><circle cx="115.1" cy="76.3" r="2.3"/><circle cx="136.3" cy="88.2" r="2.3"/><circle cx="89.1" cy="76.9" r="2.3"/><circle cx="125" cy="64.2" r="2.3"/><circle cx="158.2" cy="74.5" r="2.3"/><circle cx="132.7" cy="87.8" r="2.3"/><circle cx="179.5" cy="74.4" r="2.3"/><circle cx="126.8" cy="88.4" r="2.3"/><circle cx="140.5" cy="67.3" r="2.3"/><circle cx="123.7" cy="64.9" r="2.3"/><circle cx="130.5" cy="85.1" r="2.3"/><circle cx="163.5" cy="78.8" r="2.3"/><circle cx="176.5" cy="73.9" r="2.3"/><circle cx="192.3" cy="75.6" r="2.3"/><circle cx="169.4" cy="76.7" r="2.3"/><circle cx="174.1" cy="73.1" r="2.3"/><circle cx="188.7" cy="74.9" r="2.3"/><circle cx="125.6" cy="63.9" r="2.3"/><circle cx="120.7" cy="86.7" r="2.3"/><circle cx="133.6" cy="76.6" r="2.3"/><circle cx="128.9" cy="69.6" r="2.3"/><circle cx="128.8" cy="75.4" r="2.3"/><circle cx="167.7" cy="70.1" r="2.3"/><circle cx="134.7" cy="79.7" r="2.3"/><circle cx="161.1" cy="71.5" r="2.3"/><circle cx="162.7" cy="69" r="2.3"/><circle cx="167.3" cy="72.3" r="2.3"/><circle cx="121.6" cy="73" r="2.3"/><circle cx="153.4" cy="83.6" r="2.3"/><circle cx="172.5" cy="76.9" r="2.3"/><circle cx="169.8" cy="70.5" r="2.3"/><circle cx="151.6" cy="82.3" r="2.3"/><circle cx="169.9" cy="71.9" r="2.3"/><circle cx="189" cy="73.1" r="2.3"/><circle cx="191.2" cy="74" r="2.3"/><circle cx="119.4" cy="80.4" r="2.3"/><circle cx="154.6" cy="70.9" r="2.3"/><circle cx="87" cy="65.2" r="2.3"/><circle cx="186" cy="70.5" r="2.3"/><circle cx="113.8" cy="63.9" r="2.3"/><circle cx="146.7" cy="84.2" r="2.3"/><circle cx="129.9" cy="73.4" r="2.3"/><circle cx="121.6" cy="82.7" r="2.3"/><circle cx="156.7" cy="73.3" r="2.3"/><circle cx="140.7" cy="67.8" r="2.3"/><circle cx="175.3" cy="74.4" r="2.3"/><circle cx="151.8" cy="78.8" r="2.3"/><circle cx="162.7" cy="73.5" r="2.3"/><circle cx="185.3" cy="75.8" r="2.3"/><circle cx="93.9" cy="69.6" r="2.3"/><circle cx="169.8" cy="76.3" r="2.3"/><circle cx="170" cy="74.5" r="2.3"/><circle cx="84.8" cy="77.7" r="2.3"/><circle cx="151.1" cy="69.7" r="2.3"/><circle cx="123.9" cy="67.2" r="2.3"/><circle cx="200.2" cy="72.8" r="2.3"/><circle cx="146.4" cy="75.3" r="2.3"/><circle cx="136.2" cy="87.2" r="2.3"/><circle cx="171.5" cy="74.7" r="2.3"/><circle cx="92.9" cy="58.6" r="2.3"/><circle cx="97.4" cy="89.1" r="2.3"/><circle cx="184.2" cy="76.3" r="2.3"/><circle cx="194.9" cy="74.8" r="2.3"/><circle cx="135.3" cy="76" r="2.3"/><circle cx="134.3" cy="65.1" r="2.3"/><circle cx="143.5" cy="68.3" r="2.3"/><circle cx="170.2" cy="74.2" r="2.3"/><circle cx="207.7" cy="73.8" r="2.3"/><circle cx="108.4" cy="68" r="2.3"/><circle cx="196" cy="71.5" r="2.3"/><circle cx="192.4" cy="75.3" r="2.3"/><circle cx="183.1" cy="76.8" r="2.3"/><circle cx="149.3" cy="70.1" r="2.3"/><circle cx="131.2" cy="81.6" r="2.3"/><circle cx="161.4" cy="78.4" r="2.3"/><circle cx="101.5" cy="63.1" r="2.3"/><circle cx="135.5" cy="65" r="2.3"/><circle cx="185.7" cy="69.4" r="2.3"/><circle cx="148.4" cy="78.8" r="2.3"/><circle cx="166" cy="69.7" r="2.3"/><circle cx="93.7" cy="63.4" r="2.3"/><circle cx="154.4" cy="81.4" r="2.3"/><circle cx="100.5" cy="89.5" r="2.3"/><circle cx="82" cy="70" r="2.3"/><circle cx="149.9" cy="63.4" r="2.3"/><circle cx="126.3" cy="69.9" r="2.3"/><circle cx="100" cy="74.3" r="2.3"/><circle cx="156.5" cy="73.6" r="2.3"/><circle cx="112.7" cy="75.8" r="2.3"/><circle cx="144.4" cy="73.5" r="2.3"/><circle cx="141.5" cy="66" r="2.3"/><circle cx="177.3" cy="73.8" r="2.3"/><circle cx="174.2" cy="72.8" r="2.3"/><circle cx="77.7" cy="78.9" r="2.3"/><circle cx="166.2" cy="74.6" r="2.3"/><circle cx="76.7" cy="63.7" r="2.3"/><circle cx="142.1" cy="80.4" r="2.3"/><circle cx="117.9" cy="71.2" r="2.3"/><circle cx="104.4" cy="89.2" r="2.3"/><circle cx="156.5" cy="77.8" r="2.3"/><circle cx="164.2" cy="76.1" r="2.3"/><circle cx="110.4" cy="69.3" r="2.3"/><circle cx="156.6" cy="82.3" r="2.3"/><circle cx="106" cy="86.8" r="2.3"/><circle cx="182.2" cy="68.6" r="2.3"/><circle cx="127.2" cy="79.3" r="2.3"/><circle cx="134.8" cy="78.1" r="2.3"/><circle cx="112.5" cy="76.7" r="2.3"/><circle cx="93.8" cy="85.7" r="2.3"/><circle cx="142.5" cy="64.8" r="2.3"/><circle cx="127.9" cy="87.9" r="2.3"/><circle cx="185.6" cy="70.9" r="2.3"/><circle cx="155.4" cy="80.1" r="2.3"/><circle cx="145.6" cy="79.4" r="2.3"/><circle cx="95.4" cy="72.4" r="2.3"/><circle cx="88.8" cy="70.4" r="2.3"/><circle cx="150.1" cy="78.5" r="2.3"/><circle cx="186.6" cy="68.8" r="2.3"/><circle cx="84.5" cy="81.3" r="2.3"/><circle cx="130" cy="69.5" r="2.3"/><circle cx="123.9" cy="87.5" r="2.3"/><circle cx="152.1" cy="73.5" r="2.3"/><circle cx="134.7" cy="70.4" r="2.3"/><circle cx="136.8" cy="78.1" r="2.3"/><circle cx="175.4" cy="70.4" r="2.3"/><circle cx="152" cy="80.4" r="2.3"/><circle cx="107.8" cy="79.4" r="2.3"/><circle cx="187.1" cy="68.8" r="2.3"/><circle cx="159.5" cy="65.9" r="2.3"/><circle cx="91.9" cy="80.1" r="2.3"/><circle cx="153.1" cy="65.1" r="2.3"/><circle cx="113.7" cy="69.8" r="2.3"/><circle cx="131.5" cy="63.9" r="2.3"/><circle cx="134.4" cy="64.2" r="2.3"/><circle cx="170.4" cy="70.2" r="2.3"/><circle cx="154.6" cy="80.2" r="2.3"/><circle cx="133.1" cy="69.9" r="2.3"/><circle cx="100.9" cy="64.8" r="2.3"/><circle cx="176.5" cy="71.1" r="2.3"/><circle cx="185.6" cy="72.3" r="2.3"/><circle cx="190.7" cy="69.5" r="2.3"/><circle cx="169.8" cy="74.6" r="2.3"/><circle cx="114.2" cy="73.1" r="2.3"/><circle cx="185.9" cy="69.8" r="2.3"/><circle cx="173.1" cy="76.3" r="2.3"/><circle cx="135.7" cy="75.3" r="2.3"/><circle cx="87.8" cy="75.3" r="2.3"/><circle cx="194.5" cy="70.2" r="2.3"/><circle cx="104.4" cy="73.9" r="2.3"/><circle cx="99" cy="82.5" r="2.3"/><circle cx="144.7" cy="81.4" r="2.3"/><circle cx="179" cy="72.9" r="2.3"/><circle cx="111.7" cy="66.5" r="2.3"/><circle cx="103.8" cy="84.6" r="2.3"/><circle cx="146" cy="86.6" r="2.3"/><circle cx="146.1" cy="82.2" r="2.3"/><circle cx="149" cy="81.8" r="2.3"/><circle cx="172.8" cy="70" r="2.3"/><circle cx="169.5" cy="66.3" r="2.3"/><circle cx="111" cy="70.3" r="2.3"/><circle cx="123" cy="81.8" r="2.3"/><circle cx="205.2" cy="70.9" r="2.3"/><circle cx="176.3" cy="76.1" r="2.3"/><circle cx="143.2" cy="76.7" r="2.3"/><circle cx="117.9" cy="89.8" r="2.3"/><circle cx="184" cy="75.9" r="2.3"/><circle cx="113.3" cy="67.1" r="2.3"/><circle cx="134.6" cy="78.5" r="2.3"/><circle cx="148.9" cy="81.2" r="2.3"/><circle cx="168" cy="76.1" r="2.3"/><circle cx="161.1" cy="73.4" r="2.3"/><circle cx="158.9" cy="79.3" r="2.3"/><circle cx="120.1" cy="80.1" r="2.3"/><circle cx="166" cy="75.9" r="2.3"/><circle cx="147.2" cy="71.9" r="2.3"/><circle cx="185.6" cy="71" r="2.3"/><circle cx="81.8" cy="73.4" r="2.3"/><circle cx="196.6" cy="70.4" r="2.3"/><circle cx="138.1" cy="85" r="2.3"/><circle cx="114.9" cy="78.9" r="2.3"/><circle cx="88.1" cy="75.8" r="2.3"/><circle cx="81.3" cy="82.6" r="2.3"/><circle cx="199" cy="74.3" r="2.3"/><circle cx="170.2" cy="70.6" r="2.3"/><circle cx="195.4" cy="74.5" r="2.3"/><circle cx="177.5" cy="69.8" r="2.3"/><circle cx="131" cy="89.1" r="2.3"/><circle cx="101.6" cy="83.7" r="2.3"/><circle cx="142.8" cy="61.6" r="2.3"/><circle cx="107.7" cy="63.2" r="2.3"/><circle cx="97.1" cy="66.3" r="2.3"/><circle cx="144.8" cy="75.7" r="2.3"/><circle cx="146.4" cy="71.6" r="2.3"/><circle cx="196.7" cy="68.1" r="2.3"/><circle cx="172.3" cy="68.9" r="2.3"/><circle cx="98.8" cy="80.9" r="2.3"/><circle cx="145.2" cy="64.7" r="2.3"/><circle cx="161.2" cy="73.1" r="2.3"/><circle cx="198.1" cy="72.6" r="2.3"/><circle cx="144.2" cy="68.7" r="2.3"/><circle cx="131.5" cy="84.8" r="2.3"/><circle cx="78.4" cy="75.4" r="2.3"/><circle cx="141.5" cy="69.8" r="2.3"/><circle cx="190.6" cy="72.3" r="2.3"/><circle cx="192.4" cy="75.7" r="2.3"/><circle cx="116.3" cy="89.9" r="2.3"/><circle cx="101.9" cy="79.3" r="2.3"/><circle cx="196" cy="69.5" r="2.3"/><circle cx="171.6" cy="73" r="2.3"/><circle cx="111.4" cy="63" r="2.3"/><circle cx="125.8" cy="85.1" r="2.3"/><circle cx="157.6" cy="74" r="2.3"/><circle cx="98.1" cy="77" r="2.3"/><circle cx="116.1" cy="89.9" r="2.3"/><circle cx="107.4" cy="68.7" r="2.3"/><circle cx="185.3" cy="70.6" r="2.3"/><circle cx="162.6" cy="71" r="2.3"/><circle cx="178.7" cy="69.8" r="2.3"/><circle cx="169.8" cy="70.7" r="2.3"/><circle cx="100.6" cy="64.3" r="2.3"/><circle cx="159.8" cy="68.7" r="2.3"/><circle cx="144" cy="73.6" r="2.3"/><circle cx="163.6" cy="74.2" r="2.3"/><circle cx="157.5" cy="63.1" r="2.3"/><circle cx="170.5" cy="71.3" r="2.3"/><circle cx="77.4" cy="72.5" r="2.3"/><circle cx="97.9" cy="67.1" r="2.3"/><circle cx="181.9" cy="75.5" r="2.3"/><circle cx="179.9" cy="68.4" r="2.3"/><circle cx="77.7" cy="70.8" r="2.3"/><circle cx="141.1" cy="69.7" r="2.3"/><circle cx="96.9" cy="71.2" r="2.3"/><circle cx="101.2" cy="65.7" r="2.3"/><circle cx="110" cy="78.4" r="2.3"/><circle cx="82.3" cy="86.8" r="2.3"/><circle cx="154.8" cy="63.6" r="2.3"/><circle cx="158.7" cy="74.2" r="2.3"/><circle cx="195" cy="74.2" r="2.3"/><circle cx="113.1" cy="81.9" r="2.3"/><circle cx="108.3" cy="84.5" r="2.3"/><circle cx="116" cy="61.5" r="2.3"/><circle cx="173.5" cy="68.1" r="2.3"/><circle cx="155.3" cy="62.1" r="2.3"/><circle cx="166" cy="68.4" r="2.3"/><circle cx="107.3" cy="69.1" r="2.3"/><circle cx="93.6" cy="83" r="2.3"/><circle cx="184.5" cy="71.9" r="2.3"/><circle cx="110.3" cy="88.9" r="2.3"/><circle cx="167.4" cy="75.7" r="2.3"/><circle cx="160.6" cy="76" r="2.3"/><circle cx="160.3" cy="73" r="2.3"/><circle cx="186.7" cy="70" r="2.3"/><circle cx="110.5" cy="71.1" r="2.3"/><circle cx="126.2" cy="74.4" r="2.3"/><circle cx="102.3" cy="90" r="2.3"/><circle cx="127.5" cy="68.8" r="2.3"/><circle cx="163.9" cy="76.3" r="2.3"/><circle cx="156.4" cy="72.6" r="2.3"/><circle cx="143.3" cy="71.4" r="2.3"/><circle cx="186.7" cy="72.8" r="2.3"/><circle cx="100.9" cy="87.9" r="2.3"/><circle cx="160" cy="70.6" r="2.3"/><circle cx="125" cy="85" r="2.3"/><circle cx="188.7" cy="75.7" r="2.3"/><circle cx="101.9" cy="64.1" r="2.3"/><circle cx="109.7" cy="65.1" r="2.3"/><circle cx="90.6" cy="74.5" r="2.3"/><circle cx="133.7" cy="83" r="2.3"/><circle cx="114.4" cy="77.2" r="2.3"/><circle cx="183.6" cy="72.3" r="2.3"/><circle cx="171.8" cy="74.1" r="2.3"/><circle cx="111.8" cy="89.2" r="2.3"/><circle cx="149.9" cy="69.5" r="2.3"/><circle cx="154.7" cy="81.7" r="2.3"/><circle cx="152.3" cy="81.8" r="2.3"/><circle cx="180.4" cy="69.2" r="2.3"/><circle cx="115.1" cy="73.7" r="2.3"/><circle cx="94.1" cy="89.3" r="2.3"/><circle cx="143.6" cy="87.2" r="2.3"/><circle cx="91.5" cy="64.5" r="2.3"/><circle cx="103.5" cy="71.9" r="2.3"/><circle cx="197.5" cy="70.9" r="2.3"/><circle cx="167.2" cy="74.5" r="2.3"/><circle cx="86.7" cy="81" r="2.3"/><circle cx="177.5" cy="70.3" r="2.3"/><circle cx="131.7" cy="79.8" r="2.3"/><circle cx="79.2" cy="79.7" r="2.3"/><circle cx="98.4" cy="70.6" r="2.3"/><circle cx="79.9" cy="75.8" r="2.3"/><circle cx="87.9" cy="58.8" r="2.3"/><circle cx="130.3" cy="84.5" r="2.3"/><circle cx="174.9" cy="76.6" r="2.3"/><circle cx="169.9" cy="76.4" r="2.3"/><circle cx="142" cy="72" r="2.3"/><circle cx="79.5" cy="79.6" r="2.3"/><circle cx="190.2" cy="72.9" r="2.3"/><circle cx="80.6" cy="58.9" r="2.3"/><circle cx="165.8" cy="71.2" r="2.3"/><circle cx="166.9" cy="73.6" r="2.3"/><circle cx="112.3" cy="72.2" r="2.3"/><circle cx="183.1" cy="71.1" r="2.3"/><circle cx="180.5" cy="69.6" r="2.3"/><circle cx="191.4" cy="76" r="2.3"/><circle cx="168.2" cy="76.9" r="2.3"/><circle cx="178.2" cy="71.3" r="2.3"/><circle cx="136.4" cy="76.6" r="2.3"/><circle cx="185.5" cy="69" r="2.3"/><circle cx="183.6" cy="68.6" r="2.3"/><circle cx="112.5" cy="61.3" r="2.3"/><circle cx="98.7" cy="82.8" r="2.3"/><circle cx="132.6" cy="78" r="2.3"/><circle cx="133.3" cy="86.3" r="2.3"/><circle cx="97.1" cy="78.3" r="2.3"/><circle cx="124.5" cy="84.8" r="2.3"/><circle cx="160.2" cy="71" r="2.3"/><circle cx="98.3" cy="65.1" r="2.3"/><circle cx="125.8" cy="67.3" r="2.3"/><circle cx="189.2" cy="73.8" r="2.3"/><circle cx="140.6" cy="77.5" r="2.3"/><circle cx="111.6" cy="63.7" r="2.3"/><circle cx="104.1" cy="87.7" r="2.3"/><circle cx="108.8" cy="81.3" r="2.3"/><circle cx="89.2" cy="68.5" r="2.3"/><circle cx="174.5" cy="70.9" r="2.3"/><circle cx="109.8" cy="89.7" r="2.3"/><circle cx="129.7" cy="73.2" r="2.3"/><circle cx="110.6" cy="61.5" r="2.3"/><circle cx="131.2" cy="77.7" r="2.3"/><circle cx="87.7" cy="64.8" r="2.3"/><circle cx="126.2" cy="77.4" r="2.3"/><circle cx="85.1" cy="83.8" r="2.3"/><circle cx="168.3" cy="70.7" r="2.3"/><circle cx="204.9" cy="73.3" r="2.3"/><circle cx="83" cy="76.7" r="2.3"/><circle cx="190.8" cy="75.6" r="2.3"/><circle cx="91.6" cy="76.6" r="2.3"/><circle cx="173" cy="71.8" r="2.3"/><circle cx="89.9" cy="74.7" r="2.3"/><circle cx="134.5" cy="80.6" r="2.3"/><circle cx="169.8" cy="66.5" r="2.3"/><circle cx="170.5" cy="71.2" r="2.3"/><circle cx="172.2" cy="68.4" r="2.3"/><circle cx="143.1" cy="87" r="2.3"/><circle cx="92.9" cy="83" r="2.3"/><circle cx="199.9" cy="71.4" r="2.3"/><circle cx="164.1" cy="68.5" r="2.3"/><circle cx="126.6" cy="65" r="2.3"/><circle cx="138.1" cy="85.5" r="2.3"/><circle cx="147.8" cy="75.5" r="2.3"/><circle cx="122.5" cy="76.6" r="2.3"/><circle cx="185" cy="75.9" r="2.3"/><circle cx="190.5" cy="72.4" r="2.3"/><circle cx="144.1" cy="69.4" r="2.3"/><circle cx="134.4" cy="72.8" r="2.3"/><circle cx="135.5" cy="72.7" r="2.3"/><circle cx="134.4" cy="76.4" r="2.3"/><circle cx="151.5" cy="82.7" r="2.3"/><circle cx="190.9" cy="69.7" r="2.3"/><circle cx="152.3" cy="82.1" r="2.3"/><circle cx="162.4" cy="79" r="2.3"/><circle cx="139.7" cy="83.4" r="2.3"/><circle cx="103.5" cy="81.8" r="2.3"/><circle cx="186.6" cy="72.7" r="2.3"/><circle cx="102.4" cy="73" r="2.3"/><circle cx="130.9" cy="81.3" r="2.3"/><circle cx="95" cy="72.7" r="2.3"/><circle cx="169.4" cy="72.7" r="2.3"/><circle cx="104.9" cy="68.3" r="2.3"/><circle cx="185.1" cy="73.3" r="2.3"/><circle cx="164.4" cy="68.7" r="2.3"/><circle cx="191.5" cy="71.7" r="2.3"/><circle cx="110.2" cy="68.4" r="2.3"/><circle cx="184.7" cy="66.6" r="2.3"/><circle cx="186.8" cy="71.7" r="2.3"/><circle cx="120.5" cy="81.4" r="2.3"/><circle cx="175.7" cy="70.5" r="2.3"/><circle cx="110.8" cy="74.4" r="2.3"/><circle cx="128.3" cy="70.3" r="2.3"/><circle cx="174.9" cy="77.1" r="2.3"/><circle cx="126.3" cy="73.5" r="2.3"/><circle cx="155.5" cy="84.7" r="2.3"/><circle cx="96.1" cy="58.8" r="2.3"/><circle cx="103.9" cy="64.2" r="2.3"/><circle cx="195.7" cy="73.5" r="2.3"/><circle cx="97.8" cy="61" r="2.3"/><circle cx="83.4" cy="75.9" r="2.3"/><circle cx="127.4" cy="85.8" r="2.3"/><circle cx="151.2" cy="63.9" r="2.3"/><circle cx="181.7" cy="69.6" r="2.3"/><circle cx="197.6" cy="71.1" r="2.3"/><circle cx="138.4" cy="76" r="2.3"/><circle cx="127.7" cy="70.7" r="2.3"/><circle cx="178.4" cy="71.2" r="2.3"/><circle cx="165.2" cy="69.7" r="2.3"/><circle cx="86.4" cy="69.3" r="2.3"/><circle cx="157.4" cy="74" r="2.3"/><circle cx="153.2" cy="70.6" r="2.3"/><circle cx="112.4" cy="70.4" r="2.3"/><circle cx="160.7" cy="76.3" r="2.3"/><circle cx="105.7" cy="78.2" r="2.3"/><circle cx="172.3" cy="69.5" r="2.3"/><circle cx="189.4" cy="71.2" r="2.3"/><circle cx="118.5" cy="80.9" r="2.3"/><circle cx="150" cy="64.5" r="2.3"/><circle cx="133.7" cy="78.5" r="2.3"/><circle cx="119.4" cy="76.3" r="2.3"/><circle cx="182.9" cy="72.3" r="2.3"/><circle cx="117.3" cy="64" r="2.3"/><circle cx="170.9" cy="73.5" r="2.3"/><circle cx="166.3" cy="72" r="2.3"/><circle cx="175.2" cy="73.5" r="2.3"/><circle cx="124.5" cy="80.3" r="2.3"/><circle cx="123.7" cy="79.6" r="2.3"/><circle cx="132.6" cy="84.9" r="2.3"/><circle cx="127.4" cy="73.3" r="2.3"/><circle cx="129.9" cy="82.8" r="2.3"/><circle cx="166.5" cy="77.9" r="2.3"/><circle cx="116.8" cy="65" r="2.3"/><circle cx="97" cy="64" r="2.3"/><circle cx="166.7" cy="72.4" r="2.3"/><circle cx="130.8" cy="83.7" r="2.3"/><circle cx="98.9" cy="86" r="2.3"/><circle cx="157.6" cy="82.4" r="2.3"/><circle cx="151" cy="70.5" r="2.3"/><circle cx="153.4" cy="64.4" r="2.3"/><circle cx="188" cy="75.2" r="2.3"/><circle cx="82.8" cy="59.7" r="2.3"/><circle cx="140.9" cy="71.7" r="2.3"/><circle cx="123.6" cy="89.4" r="2.3"/><circle cx="154.1" cy="76" r="2.3"/><circle cx="173.4" cy="74.7" r="2.3"/><circle cx="112.5" cy="81.8" r="2.3"/><circle cx="183.5" cy="74.1" r="2.3"/><circle cx="186.7" cy="75.1" r="2.3"/><circle cx="186.7" cy="72.6" r="2.3"/><circle cx="131.8" cy="88.9" r="2.3"/><circle cx="152.2" cy="66.2" r="2.3"/><circle cx="136.1" cy="79.2" r="2.3"/><circle cx="81.2" cy="71.2" r="2.3"/><circle cx="112.1" cy="75" r="2.3"/><circle cx="176.3" cy="74.6" r="2.3"/><circle cx="100.1" cy="75.1" r="2.3"/><circle cx="132.6" cy="74.7" r="2.3"/><circle cx="157.5" cy="67.7" r="2.3"/><circle cx="128.9" cy="70.3" r="2.3"/><circle cx="147.8" cy="82.5" r="2.3"/><circle cx="145.9" cy="68.8" r="2.3"/><circle cx="92.8" cy="75.9" r="2.3"/><circle cx="141.3" cy="67.4" r="2.3"/><circle cx="153.2" cy="82.3" r="2.3"/><circle cx="145" cy="66.6" r="2.3"/><circle cx="194.6" cy="73.8" r="2.3"/><circle cx="96.2" cy="70" r="2.3"/><circle cx="176" cy="73.1" r="2.3"/><circle cx="183" cy="68.7" r="2.3"/><circle cx="193.5" cy="70.3" r="2.3"/><circle cx="183.1" cy="72.1" r="2.3"/><circle cx="127.1" cy="78.2" r="2.3"/><circle cx="153.5" cy="77.5" r="2.3"/><circle cx="146.5" cy="86.3" r="2.3"/><circle cx="129.7" cy="67.4" r="2.3"/><circle cx="175" cy="70.5" r="2.3"/><circle cx="168.4" cy="72.3" r="2.3"/><circle cx="185.9" cy="73.3" r="2.3"/><circle cx="129.9" cy="77.3" r="2.3"/><circle cx="163.8" cy="78" r="2.3"/><circle cx="193.6" cy="73.1" r="2.3"/><circle cx="154.9" cy="69" r="2.3"/><circle cx="110.9" cy="61.7" r="2.3"/><circle cx="150.2" cy="77.5" r="2.3"/><circle cx="131" cy="73.1" r="2.3"/><circle cx="100.2" cy="60.7" r="2.3"/><circle cx="96.2" cy="83.2" r="2.3"/><circle cx="167.9" cy="72.9" r="2.3"/><circle cx="130.9" cy="60.7" r="2.3"/><circle cx="131.9" cy="78.7" r="2.3"/><circle cx="122.4" cy="81.4" r="2.3"/><circle cx="150.6" cy="76.8" r="2.3"/><circle cx="152.4" cy="83.6" r="2.3"/><circle cx="171" cy="69.8" r="2.3"/><circle cx="115.8" cy="77.1" r="2.3"/><circle cx="149.8" cy="75.9" r="2.3"/><circle cx="139.6" cy="69.3" r="2.3"/><circle cx="87.2" cy="69.2" r="2.3"/><circle cx="179.2" cy="71.2" r="2.3"/><circle cx="136.9" cy="83.6" r="2.3"/><circle cx="140.8" cy="71.4" r="2.3"/><circle cx="141.4" cy="87.9" r="2.3"/><circle cx="128.6" cy="71.8" r="2.3"/><circle cx="174.8" cy="71.1" r="2.3"/><circle cx="124.7" cy="71.5" r="2.3"/><circle cx="167" cy="75.4" r="2.3"/><circle cx="117.7" cy="66.6" r="2.3"/><circle cx="155.4" cy="70.3" r="2.3"/><circle cx="87.4" cy="70" r="2.3"/><circle cx="132.2" cy="85.7" r="2.3"/><circle cx="173.5" cy="69.9" r="2.3"/><circle cx="89.7" cy="72.9" r="2.3"/><circle cx="96.2" cy="83.9" r="2.3"/><circle cx="115.6" cy="61.9" r="2.3"/><circle cx="128.1" cy="87.5" r="2.3"/><circle cx="161" cy="67.5" r="2.3"/><circle cx="126.7" cy="84.8" r="2.3"/><circle cx="162.4" cy="71.3" r="2.3"/><circle cx="106.4" cy="74" r="2.3"/><circle cx="122.9" cy="88.8" r="2.3"/><circle cx="168.7" cy="72.8" r="2.3"/><circle cx="131.3" cy="74.2" r="2.3"/><circle cx="139.7" cy="73.8" r="2.3"/><circle cx="130.3" cy="74.5" r="2.3"/><circle cx="87" cy="77.9" r="2.3"/><circle cx="139.6" cy="76.5" r="2.3"/><circle cx="164.2" cy="69.2" r="2.3"/><circle cx="165.2" cy="70.6" r="2.3"/><circle cx="165.9" cy="77" r="2.3"/><circle cx="127.2" cy="80.5" r="2.3"/><circle cx="103.3" cy="70" r="2.3"/><circle cx="103.7" cy="67.9" r="2.3"/><circle cx="109.7" cy="71.5" r="2.3"/><circle cx="185.7" cy="72.5" r="2.3"/><circle cx="130.8" cy="81.9" r="2.3"/><circle cx="141.7" cy="73.9" r="2.3"/><circle cx="90.8" cy="63.3" r="2.3"/><circle cx="150.1" cy="83.2" r="2.3"/><circle cx="153.5" cy="79.7" r="2.3"/><circle cx="106.7" cy="87.6" r="2.3"/><circle cx="191.9" cy="72.1" r="2.3"/><circle cx="152.8" cy="85.3" r="2.3"/><circle cx="138.3" cy="61.4" r="2.3"/><circle cx="91.2" cy="58.1" r="2.3"/><circle cx="112.2" cy="66.8" r="2.3"/><circle cx="112.8" cy="79" r="2.3"/><circle cx="188.1" cy="76.2" r="2.3"/><circle cx="140.6" cy="79.3" r="2.3"/><circle cx="140" cy="72" r="2.3"/><circle cx="135.8" cy="72.7" r="2.3"/><circle cx="121.9" cy="87.3" r="2.3"/><circle cx="156.9" cy="73.6" r="2.3"/><circle cx="135.1" cy="76.9" r="2.3"/><circle cx="145.5" cy="81.7" r="2.3"/><circle cx="154.4" cy="78.8" r="2.3"/><circle cx="185.2" cy="74.2" r="2.3"/><circle cx="98.7" cy="79.2" r="2.3"/><circle cx="145.7" cy="65.1" r="2.3"/><circle cx="196.5" cy="70.1" r="2.3"/><circle cx="144.7" cy="85.3" r="2.3"/><circle cx="154.7" cy="77.1" r="2.3"/><circle cx="107.1" cy="84.3" r="2.3"/><circle cx="149.9" cy="78.1" r="2.3"/><circle cx="245.2" cy="72.5" r="2.3"/><circle cx="257.5" cy="76.3" r="2.3"/><circle cx="233" cy="74" r="2.3"/><circle cx="215" cy="71.9" r="2.3"/><circle cx="210" cy="76.9" r="2.3"/><circle cx="205" cy="71.9" r="2.3"/><circle cx="203.8" cy="81.3" r="2.3"/><circle cx="200" cy="74" r="2.3"/><circle cx="198" cy="70" r="2.3"/><circle cx="223" cy="75" r="2.3"/></g><path d="M57.5 43V57M66.9 45V59M80 60V70M85.6 58.4V68.4M92.9 51V61M99.5 47.3V57.3M101 57V65M97.8 62V70M92.7 51.8V59.8M110.1 51.5V59.5M123.9 51.1V59.1M95.5 58.5V64.5M101 58V64M107 59V65M112 58V64M115 60V66M119 57V63M122 61V67M126 59V65M129 60V66M98 63V69M104 62V68M117 63V69M128 63V69M109 62V68M124 56V62M133 58V64M137 60V66M141 57V63M144 61V67M148 56V62M150 59V65M153 62V68M156 59V65M136 63V69M147 63V69M131 62V68M139 56V62M152 57V63M134 55V61M142 63V69M146 59V65M155 63V69M130 58V64M138 59V65M158 61V67M127 55V61M113 55V61M105 55V61M161 63V69M164 65V71M166 61V67M168 64V70M163 62V68M179 66V70M152 76V80M157 79V83M161 78V82M166 79V83M169 79V83M173 79V83M174 76V80M180 76V80M183 79V83M157 83V87M193 78V82M98 106V124M122 105V123M154 107V125M223 78.5V81.5M165.8 59.9V65.9M173 62V68M108 62.8V68.8M164.7 62.2V68.2M110.9 59.2V65.2M131.5 62.5V68.5M154.7 62V68M137.7 57.6V63.6M147.1 56.4V62.4M170.3 61.4V67.4M164.4 59.2V65.2M182.5 63.9V69.9M166.2 58.2V64.2M139.7 56.3V62.3M113.1 60.8V66.8M163.3 63.4V69.4M127.7 58.6V64.6M139.9 57.3V63.3" stroke="#c87a5a" stroke-width="1.0" stroke-opacity="0.4" fill="none"/><g fill="#c87a5a" fill-opacity="0.8"><circle cx="57.5" cy="50" r="2.4"/><circle cx="66.9" cy="52" r="2.4"/><circle cx="80" cy="65" r="2.4"/><circle cx="85.6" cy="63.4" r="2.4"/><circle cx="92.9" cy="56" r="2.4"/><circle cx="99.5" cy="52.3" r="2.4"/><circle cx="101" cy="61" r="2.4"/><circle cx="97.8" cy="66" r="2.4"/><circle cx="92.7" cy="55.8" r="2.4"/><circle cx="110.1" cy="55.5" r="2.4"/><circle cx="123.9" cy="55.1" r="2.4"/><circle cx="95.5" cy="61.5" r="2.4"/><circle cx="101" cy="61" r="2.4"/><circle cx="107" cy="62" r="2.4"/><circle cx="112" cy="61" r="2.4"/><circle cx="115" cy="63" r="2.4"/><circle cx="119" cy="60" r="2.4"/><circle cx="122" cy="64" r="2.4"/><circle cx="126" cy="62" r="2.4"/><circle cx="129" cy="63" r="2.4"/><circle cx="98" cy="66" r="2.4"/><circle cx="104" cy="65" r="2.4"/><circle cx="117" cy="66" r="2.4"/><circle cx="128" cy="66" r="2.4"/><circle cx="109" cy="65" r="2.4"/><circle cx="124" cy="59" r="2.4"/><circle cx="133" cy="61" r="2.4"/><circle cx="137" cy="63" r="2.4"/><circle cx="141" cy="60" r="2.4"/><circle cx="144" cy="64" r="2.4"/><circle cx="148" cy="59" r="2.4"/><circle cx="150" cy="62" r="2.4"/><circle cx="153" cy="65" r="2.4"/><circle cx="156" cy="62" r="2.4"/><circle cx="136" cy="66" r="2.4"/><circle cx="147" cy="66" r="2.4"/><circle cx="131" cy="65" r="2.4"/><circle cx="139" cy="59" r="2.4"/><circle cx="152" cy="60" r="2.4"/><circle cx="134" cy="58" r="2.4"/><circle cx="142" cy="66" r="2.4"/><circle cx="146" cy="62" r="2.4"/><circle cx="155" cy="66" r="2.4"/><circle cx="130" cy="61" r="2.4"/><circle cx="138" cy="62" r="2.4"/><circle cx="158" cy="64" r="2.4"/><circle cx="127" cy="58" r="2.4"/><circle cx="113" cy="58" r="2.4"/><circle cx="105" cy="58" r="2.4"/><circle cx="161" cy="66" r="2.4"/><circle cx="164" cy="68" r="2.4"/><circle cx="166" cy="64" r="2.4"/><circle cx="168" cy="67" r="2.4"/><circle cx="163" cy="65" r="2.4"/><circle cx="179" cy="68" r="2.4"/><circle cx="152" cy="78" r="2.4"/><circle cx="157" cy="81" r="2.4"/><circle cx="161" cy="80" r="2.4"/><circle cx="166" cy="81" r="2.4"/><circle cx="169" cy="81" r="2.4"/><circle cx="173" cy="81" r="2.4"/><circle cx="174" cy="78" r="2.4"/><circle cx="180" cy="78" r="2.4"/><circle cx="183" cy="81" r="2.4"/><circle cx="157" cy="85" r="2.4"/><circle cx="193" cy="80" r="2.4"/><circle cx="98" cy="115" r="2.4"/><circle cx="122" cy="114" r="2.4"/><circle cx="154" cy="116" r="2.4"/><circle cx="223" cy="80" r="2.4"/><circle cx="165.8" cy="62.9" r="2.4"/><circle cx="173" cy="65" r="2.4"/><circle cx="108" cy="65.8" r="2.4"/><circle cx="164.7" cy="65.2" r="2.4"/><circle cx="110.9" cy="62.2" r="2.4"/><circle cx="131.5" cy="65.5" r="2.4"/><circle cx="154.7" cy="65" r="2.4"/><circle cx="137.7" cy="60.6" r="2.4"/><circle cx="147.1" cy="59.4" r="2.4"/><circle cx="170.3" cy="64.4" r="2.4"/><circle cx="164.4" cy="62.2" r="2.4"/><circle cx="182.5" cy="66.9" r="2.4"/><circle cx="166.2" cy="61.2" r="2.4"/><circle cx="139.7" cy="59.3" r="2.4"/><circle cx="113.1" cy="63.8" r="2.4"/><circle cx="163.3" cy="66.4" r="2.4"/><circle cx="127.7" cy="61.6" r="2.4"/><circle cx="139.9" cy="60.3" r="2.4"/></g>
<path d="M201.3 204.6V207.2M57.7 202.9V215.8M108.6 202V208.4M102.6 198.5V204.7M201.7 202.9V204.8M164.4 204.1V206.9M123 195.3V198.4M139.6 205.8V208M208.4 202V204.9M195.1 203V206.1M103.1 198.2V202.8M191.7 202.3V205.7M163.6 206.4V208.5M183.4 203V206.6M133 197.7V200.9M119.5 207.6V216.2M153.4 199.1V201.4M96.9 204.1V208M173.1 207V209.9M154.9 202.7V207M154 199.8V201.7M79.8 200.7V208.7M176.7 201.9V205.2M161.4 204.7V207M136.4 194.3V197.7M202.9 200.4V203.9M177.2 205.9V207.4M132.9 209.4V212.6M103.8 191.5V195.9M156.9 205.4V208.1M77.4 204.7V212.2M117.5 194.2V197.7M163.6 198.3V200.3M96.7 205.2V216.9M130.4 207.2V215.4M152.9 198V202.1M187.3 203.2V205.9M173.8 203.5V206.5M167.5 200V203.4M135.1 202.6V205M154 202.1V206M99.1 201.5V209.3M98.6 206.7V216.2M137.9 208.1V214.8M115.5 194.5V200.2M160.5 200.5V204.2M164.2 198.7V202M154.5 205.3V207.9M191.5 201V204.1M146.9 205V209.6M64.1 207.1V214.6M103.4 204.6V210.9M191.3 202V205.1M164.5 193.8V197.3M170.9 203.8V207.5M103.3 203.4V209.6M137.7 206.5V210.2M173.8 206.7V210.2M193.6 203.4V205.1M200.9 202.4V205.2M158.5 207.8V210.8M116.9 207.3V213.1M113.5 195.3V200M179.5 203.5V204.9M161.1 207V211.5M172.9 207.8V210.1M59.1 199V203.6M106.2 208.8V211.8M145.8 201.2V203.1M192.9 204.9V207.1M200.9 204.4V206.7M192.7 202.6V205.4M135.7 208.3V211.6M74.3 205.9V212.4M189.1 200.7V203.4M180.2 201.7V204.8M209.1 204V205.9M120 207.8V210.9M177.6 199.3V202.9M117.2 200.9V206.7M110.1 209V218.4M121.7 195V200.5M156.5 197.8V200.5M143.2 201.7V205.4M130.9 206.6V211.8M150.9 191.9V195.7M74.9 187.9V198.1M148.7 197V201.2M106.4 195.3V202.8M168.4 207.2V208.5M145.4 208.3V212.7M190 204.8V207.4M192.3 201.7V203.8M93.6 196.7V202.7M180.3 203.7V205.4M190.8 204.9V206.1M101.3 196.7V200.6M92.2 202.5V206.7M139.6 208V210.9M160.3 198.3V200.2M185 201.3V204.1M168.4 200.1V203.8M118.4 193.8V199M209.1 204.4V206.1M116.6 191.7V195.6M96.5 189.4V194.7M158 204.6V208.4M140.8 199.3V201.1M143.4 199.5V203M150.8 202V205.6M171.3 201.6V204.1M106.3 196.4V200M140 193.4V197.4M175.7 207.1V209.9M177.5 205.1V207.4M118 199.9V205M126.7 197.2V201.3M144 195.2V197.4M187 201.3V204.1M131.9 199.9V202.5M149.9 208.1V213.6M85.6 202.6V208.9M90.6 191.5V199.9M194.5 203.4V205.2M91.4 197.4V203M161.1 208V211.7M86.1 207.8V218.1M204.9 201V203.5M158.5 205V208.8M167.7 204.5V208M112.3 199.2V204.9M172 203.4V205.1M181.5 202.3V203.6M162.4 204.1V205.7M117.4 195.7V200.2M103.3 193.6V196.6M124.7 197.2V201.3M158.7 204.5V207.7M125 208.1V213.2M164.5 199V200.5M169.2 206.4V209.1M134.1 193.4V197.4M129.1 206.2V208.3M100.4 198.4V205.4M152.2 207.9V210.2M140.9 195V197.4M94.6 209.3V216.4M118.5 205.1V207.9M112.5 197.2V203.4M100.3 202.1V205.5M187.7 203.5V207.1M75.4 194.4V199.2M95.6 203.2V210.1M69.2 200.3V209.1M59.6 202.3V211M86.8 203.2V212.5M92.1 198.9V207.3M202.2 203.9V205.7M142.7 192.9V194.9M199.3 204.1V206.1M91.6 195.2V201.3M115.9 196.5V199.9M170 203.7V205.6M127.1 206.8V210.3M144.6 204.9V207.7M184.9 205.6V209.4M145.4 199.2V203.1M151 202.8V205.1M151 195.9V197.9M84.8 204.7V211.8M72.2 200.2V208.3M94.2 194.9V200.5M179.8 202.9V204.3M116.3 201.4V205.9M90.8 205V211.8M179 200.3V203.5M180.1 206.1V207.5M77.3 199.1V202.8M181.8 205V209.9M163.3 199.9V203.1M161.7 204.8V208M80.2 201.1V205.9M142.9 195.7V198.9M210.1 202.8V205.2M155.9 206.5V211.8M128.7 205.6V210.8M165.2 202.5V204.4M160.4 208.3V212.6M150.1 207.1V211.6M184 199.9V201.8M217.3 202.9V204.7M162 201.5V204.3M117.8 200.7V206.6M119.4 209.5V213.8M84.5 193.5V198.3M132.6 207.4V210.6M207.8 202.8V205M116.2 197.1V203.2M185.9 201.1V204.3M198.4 203.5V208.8M185.4 200.3V203.6M185.3 198.2V201.7M56.1 193.7V198.4M130.3 192.7V197.4M169.6 205.7V208.8M179.5 201.9V203.8M137.5 203.4V205.7M174.4 197.8V201.1M86.8 204.1V208.2M139.4 207.4V210.1M124.6 204.1V207.8M126.8 195.1V199.4M149.9 197.1V199.5M114.7 208.2V217.7M181.1 199.8V203.4M118.5 204.2V208.6M141.1 197.2V202.2M202.5 202.3V204.3M121.1 198.5V203.8M79.7 201.9V211.4M126.9 204.1V208.6M94.4 194V200.6M124.2 208.4V213.3M141.4 196.3V198.8M138.3 209.2V215.7M199 204.5V206.8M191 204.8V206.1M106.6 192.5V197.5M91.8 209.5V217.2M111.1 189.3V196M72.8 200.5V209M131.7 205.7V209.8M86.1 205.1V209M103.1 200.7V206.1M56.5 193V197.9M114 194.5V198.7M143.5 206.9V211.7M148.3 198.6V203.4M134.3 196.3V200.1M59.2 207.2V218.8M163.7 208.5V210.6M173.5 206V207.6M61.3 197.7V204.4M146.9 208.6V214.5M111.3 200.6V207.7M163.4 199.3V203.4M165.4 198.7V202.3M146.4 198.2V203M54.5 186.1V199.2M104 206.6V211.7M117.9 197.1V203M143.7 194.2V198.8M91.1 195.1V202.8M101.6 208.2V211.4M79.7 193.1V196.9M154.8 208.6V211.5M80.3 206.9V212.4M91.4 191.7V199M113.3 205.4V212.2M183.8 198.4V201.3M156.5 207.2V211.9M149.9 206.9V213.5M200.1 202.6V204.6M174.7 205.7V208.1M130.4 206.4V209.6M163 205.8V208.7M109.7 195.7V199.9M143.7 204.1V207.8M131.7 196.2V199.6M151.3 208.3V213.3M195 201.8V204.1M165.5 202.4V206.3M140.7 194.3V198.3M129.6 198.2V203.7M84.4 197.5V202.3M156.2 195.3V198.6M126.8 206.2V210.4M113.3 206.9V214.8M157 202V204.5M122 206.3V214.9M206.1 202.9V205.6M52.4 196.3V206.4M198.6 204.6V206.6M106.3 199.5V206.1M69.2 206.6V211.8M130.9 196.3V199.8M123.3 194.8V197.8M128.9 210.6V213.9M182.4 203V206.2M117.9 207V210M188.9 205.2V209.1M148.8 209.3V214M160.8 206.8V211.4M202.9 203.3V205.1M138 197.1V202.5M174.8 199.2V200.8M181.1 199.4V202.5M169.9 204.9V207.2M168.7 199V201.1M102.8 205.9V217.7M105.8 190.5V197.7M142.8 207.2V209.5M130.3 198.6V201.6M111.8 203.8V210.9M140.7 206.7V209.7M135.3 201.2V204.9M177.7 205.3V206.9M149.7 203.3V205.9M113.9 206.1V216M97.1 200.5V207.3M110.2 208.9V217.3M62.9 189.5V200.2M183.3 201.9V204.8M139.1 208.1V213.5M170.7 197.2V199.4M182.8 205.5V207.4M148.8 207.5V209.6M139.5 198.3V203.4M99.3 204.7V208.5M180.6 200.9V204.4M162.7 206.1V208.7M124.8 189.5V193.2M194.1 201.7V204.3M128.4 198.7V202.3M204.1 202.1V205.1M83.3 195.2V199.5M95.7 196.8V202.3M128.1 198.8V203.8M159.4 207.5V209.2M208.2 202V205M145.4 209.3V214.4M151.9 207.7V209.8M142 195.3V199.7M186 205.5V209M131.5 202.2V206.3M189.6 205.8V207M158.6 200.5V204M176.5 206.4V208.6M115.3 207V212.1M111.8 202V206.2M150 201.3V204.5M130.3 197.8V200.4M156.9 199.7V203.4M97.4 190.3V198.5M126 195.2V201.2M95 192.6V198.3M114.2 201.8V208.2M137.8 198.6V202.5M155.3 201.5V205M167.4 207.1V212.2M117.6 193.8V199.1M91.6 194.9V200.3M139.5 195.9V200.5M88.8 205.7V213.4M120 195.1V200.9M176.1 203.2V205M111.6 197.7V202.8M187 205.1V207M136.9 204.3V207M125.8 203.1V207.9M166.6 199.5V200.9M74 200.8V204.7M134.5 199.2V201.2M200.4 204.8V207.3M168.4 200.1V202.3M171.9 205.6V207.1M148.6 199.7V201.4M96.3 198.7V202.9M109.4 196.2V200M190.6 201.6V204.4M152.4 201.3V204M173.5 206.6V209.4M152.1 196.4V201M94.5 196.1V201.8M200.8 203.8V207.9M161.7 206.2V210M106.2 191.9V199M159 204.2V206.8M133.8 195V199.1M101.1 207.5V214.9M146.7 208.2V210.7M159.9 203V206M77.8 196V200.1M61.8 199V208.1M139.6 206.1V210M115.8 205.5V209.7M177.7 205.1V208.6M107.5 207.4V212.4M118 199.8V206.2M61.7 204.9V211M162.5 206.8V211.4M184.7 202.5V205.9M191.7 201.8V203.3M138.6 196.3V198.4M86.5 197.8V207.3M164.8 203.7V206.6M131.4 207.3V211.6M101.3 191.3V198.6M136.6 209.2V211.5M80.1 191.4V198.7M193.8 200.7V204.1M179.5 202.2V203.4M178.3 205.6V210.5M98.6 206.5V215.8M114.6 198.1V203.6M145.8 194.4V198.2M187.5 203.1V204.9M108 207.9V212.8M158.5 206V208.8M159.6 198.1V199.9M217.1 203.8V205.1M155.9 202.1V205.9M92.5 195.1V202.6M180.9 200.7V202.2M184.9 205.9V207.4M139.5 207.3V213.9M141.9 201.7V205M88.5 191.6V195M155.4 202.3V205.4M145 195.1V197.2M83.4 205.2V210.5M51.1 196.3V202.8M135.5 204.9V207.2M95.1 191.6V198.9M211.7 202.5V205.7M153.9 202.2V203.8M58.8 205.2V209.8M110.7 201.6V206.3M73.2 200.3V207.6M212 201.9V205.3M165.4 208V210.5M159.6 196.7V200.4M208.5 203.2V207.7M108.7 204.1V208.4M95.3 197.7V202.3M116.3 196.6V199M189.9 204.2V206.8M87.2 192.7V197.2M161.3 205.6V207.5M207.4 202.4V204.1M87.5 202.1V206.7M82.7 205.9V209.3M92.8 201.2V206.7M139.8 194.2V198.5M105.8 194.7V199M82.3 191.1V199.6M156.2 207V212.2M149.6 205.9V210.5M113.5 192.5V199.4M82.6 195.1V200.1M85.7 205.6V214.2M120.8 201.3V206.7M123.7 205.6V207.9M196.2 201.9V203.7M173.7 202.1V205.4M119.8 200.9V207.3M133.7 208.1V214.4M144.8 203.2V206M90.9 194V202.5M141 191.8V195.8M78.3 203.2V217M191.8 203.3V205.6M91.2 194.4V199.6M138.2 197.5V200.6M94.2 194.9V202.1M184.6 203.8V207.3M108.9 198.3V201.4M110.9 201.2V204.6M116.8 205.3V210.9M181.1 199V200.5M130 210V214.2M131.1 191.7V195.8M94.7 197.7V204.7M114.7 208V218.3M164.7 200.4V203.8M147.8 194.8V198.1M101.1 205.5V216.2M187.6 203V204.6M123 209.7V216.7M175.1 207.6V209.8M177.6 203.6V205.5M183.1 201.6V202.9M146.3 205.3V209.9M199.5 204.6V206.7M161.3 206.9V212.3M133.3 194.6V198.6M162.8 202.5V204.8M187.1 203.7V205.2M212.9 203.2V204.8M87.2 194.7V200.3M73.8 193.8V202.2M148.5 206.2V208.4M157.8 201.7V204M77.3 205V211M200.2 203.9V208.2M140.6 199.3V203.3M128.6 204.3V209M135.5 206.8V209.4M116.7 202.2V204.9M206 202.7V206.1M181 206.1V207.4M133.5 204V208.5M114.2 201.8V206.1M116.7 193.7V197.9M162 198.2V199.7M147.8 204.3V208.7M123 207.6V211.5M183.9 203.2V205.2M100.5 206.6V212.9M156.5 197.2V201.1M172 197.3V200.7M137 198.7V200.6M154.8 195.5V199.3M97.3 202.4V209.4M122.8 207.9V212.1M172.3 203.4V206.5M193.4 203.7V205.5M78.7 202.4V210.4M152.6 204.8V208.7M129.2 203V206.6M155.7 207.1V211.1M96.6 207.6V212.5M153.6 206.5V210.2M156.8 204.8V208.6M95.2 203.7V210.3M168.8 201.4V203.6M112.7 189.3V194.7M151.4 200V204.3M159.5 200.3V202.9M156.6 204V207.5M109.6 210.8V215.9M144.2 198.6V201.7M194.2 201.7V204.5M182.2 204V206.8M164.2 206V209M159.4 203.9V206.7M116.8 196.9V200.6M106.6 207.9V210.7M171.5 201.5V204.5M138.6 198.8V202.4M118.5 200.2V203.4M187.6 202.1V203.8M152.5 196.4V200M185.8 202V204.2M81.1 195.9V201.7M102.2 190.2V196.7M72.3 195.2V199M152.1 205.7V207.5M168.7 204.8V206.1M118.1 210.1V216.7M103.2 194.5V202M148.3 207V209.8M180 201.2V204.7M178.1 206.4V208M210 202.7V205.3M131.5 208.3V211M122.9 207.2V211.1M143.4 201.3V204.1M90.2 201.3V205.3M179.1 203.5V207M122.2 197.2V202.4M98.1 192.9V196.7M112.1 200.8V207.8M161.8 201.8V204.7M111.2 210.1V213.9M159.1 195.4V199.3M98.3 209.8V215.5M140 200.2V203.6M64.3 203.2V218.5M54.3 188.2V200.3M175.4 202.6V205.5M119.5 192.6V199M173.2 197.3V200.9M103.2 207.4V216.6M129.8 207.1V211.8M202 204.7V206.5M54.8 189.1V199.8M188.3 201.9V203.3M174.4 198.9V201.4M190.6 201.9V203.6M82.2 199.3V203M182.1 200.8V204M97.8 200.6V204.7M139.1 210.3V215M90.3 202.4V209.3M206.5 203.7V207.8M113.4 193.4V200.3M193.6 204.4V206.6M160.5 198.3V202M143.8 207.2V210.5M120.4 196.2V200.6M162.3 196.8V199M156.6 202.3V204M198.7 201.8V205.2M195.4 205.3V207.4M158.8 198.9V202.1M178.8 206V207.4M158.3 207.8V210.7M100.5 202.2V209.2M155.4 204V206M82.6 195.1V204.3M84.9 192.6V200.3M156.1 206.3V209.8M143.3 206.9V209.6M80.5 195.3V198.9M94.2 199.4V206.5M108.8 202.8V209.6M145.5 204.5V206.5M190.6 204.3V206.4M172.5 204.8V207.4M183.4 199.6V202.2M119.9 209.7V213.7M123.3 193.4V197.2M84.2 209.6V214.9M182.2 204.7V206.5M130.4 205.7V211.3M182.9 204.8V207.3M198.4 203.2V204.8M90.8 204.8V213.3M148 202.2V204.8M101.9 197.1V203.9M174.7 202.5V205.1M158.2 204.7V208.3M165.5 208.3V210.4M176.1 205.9V211.1M96.3 196.5V203.8M170.1 198V200.3M146.4 201.5V204.7M108.3 202.1V208.3M136.1 202.9V207.6M196.6 203.1V205.4M144.5 198.5V201M108.6 206.1V212.9M94.4 207.8V216.8M134.8 203V207.4M177.9 205.2V207.3M119.6 193.3V199.1M186.1 203.2V206.1M145.9 207.9V212.6M150.9 206.1V208.9M196.8 202.9V204.4M162.6 207.1V211.7M161.4 199.9V201.3M138.2 207.6V213M170 199.2V202.3M186.2 205V207.5M111.1 199.7V205.5M158.1 202.6V206M91.7 191.1V195.6M103.1 207.1V211.7M97.8 204.3V207.8M190.1 198V199.8M90.2 194.3V200M175.9 204.1V206.2M55.3 197.4V210.8M142.4 204.8V207.3M83.2 192.7V200M121 198.5V200.8M161 204.3V206.6M108.4 201.8V205M115.5 200.8V205.3M89 206.1V212.9M91.7 192.6V197M164.2 204.6V206.6M194.4 205.1V207.9M140.4 197.7V200.8M170.7 198.1V199.8M108 195.2V198.8M167.3 204.7V206.9M173.7 207.3V209.9M104.7 209.3V217.7M199.4 203V204.9M148.9 199V202.8M113.2 202.6V209.7M72.9 197V201.8M106.1 206.1V212.4M160.5 196V200.1M148.1 200.8V205.4M92.5 199.6V206.4M201.4 205.1V206.9M200.5 204.3V207.8M193 202.4V204.9M202 204.8V207.2M199.9 203.8V208.1M125.2 208.6V216.5M118.6 201V204.3M149.3 195.4V199.7M125.6 197.1V202.5M164.1 194.9V196.8M198.8 203.6V206.6M175.2 196.1V199.1M65.3 204.5V221.8M133.5 207.3V209.3M180.8 200.9V203.9M74.6 191.4V200.6M107.5 194.2V201.6M113 205.2V211.3M88.8 206.3V210.9M146 209.4V214.1M194.9 204.1V206.1M178.7 199.8V202.1M140.1 203.8V207.5M125.2 207.8V216.7M183.1 200.5V203.7M164.9 206.6V210.5M98.5 198.5V204M145.8 200.9V205.4M111.2 197.9V203.7M213.8 203.2V204.6M119.4 208.4V217M142.1 197.4V202.1M188.9 201.5V204.7M159.3 205.9V207.9M174.6 204.2V207.7M114 193.8V199M163.7 196V199.7M139.5 209.8V215.4M123.1 207V211.1M171.6 205.4V208.7M124.7 195.8V200.1M154.3 204.8V208M126.6 201.5V206.4M118.4 204.4V210.2M112.9 208.5V211.8M102 202.5V209.2M177.8 203.8V205.9M133.4 195.1V197.5M153.8 202.7V204.3M166.3 206.7V208.4M101 203.7V209.7M142.2 199.2V204.2M175.2 200.3V202.5M105.4 200.8V205.9M144.4 197.9V202.3M123.4 206V208.1M184.3 204.9V206.3M149.2 200.3V203.5M87.9 204.1V217.8M132.6 200.2V205.7M60.6 194.7V203.3M177.4 201.8V203.2M131.8 204.7V209.4M144.4 207.1V211M187.7 202.1V205.4M117.1 209.9V217.2M60.4 199.4V204.5M201.4 202.6V204.2M215.2 203.5V206.7M163.7 199.1V201.5M158.5 205V208.1M64.1 195.4V204.2M104.3 206.9V210.9M89.5 193.5V196.7M134.2 207V212.4M131.2 201.3V204.5M88.8 201.4V208.3M128.3 199.9V205.3M198.9 203.3V208.6M143.6 209.3V214.5M83.7 193.8V203.5M146.5 209.1V212.6M166.3 201V203.5M161.3 196V199.6M120 199.5V202.1M174.6 200.5V202.6M190 201.6V203.8M127.2 208.1V211.3M164.6 208V210.9M119 193.3V199M134.9 202.8V206.5M195.6 201.6V205M128.3 193.8V196.4M80.3 202.6V206.4M185.1 204.9V209.3M188.3 205V207.6M182.4 202.1V203.8M125.5 194.7V199.3M166.6 198.2V199.5M82.6 204.9V209.6M170.6 207.8V210.8M126.2 196.2V201.6M89.5 207.6V218M153.9 207.6V212M105.7 204.4V212.1M159.4 199V202M79.9 199.4V209.6M105.9 204V207.7M145.2 198.9V203.5M86.3 204.3V212.2M204.2 201.9V204.9M192.1 204.9V207.9M154.2 207.6V210.6M184.7 205.7V208.9M167.5 204.8V206.9M145.8 192.5V197.3M84.4 195.1V201.2M145.4 201.8V206.4M169.7 204.3V207.9M137 195.3V197.9M63.8 196.8V207.3M89.4 206.8V210.9M160 206.6V210.9M184.6 204V205.2M170.8 206.9V210.6M91.5 199.8V203.1M124 203.1V207.3M63.1 200.5V210.4M203.9 203.2V205.6M130 198.6V202.5M128.8 198V201M165.9 203.2V205.3M190.7 206V207.8M63.2 193.5V199.5M193.8 203.3V205M150.3 200.1V203.7M104.7 202.8V207.7M151.3 205.9V209.2M116.3 203V209.6M112.1 198.1V202.3M117.6 207V210.8M160.1 198.2V201.7M174.7 198.3V201.6M178.7 203.6V206.6M98 203.5V207.3M164.4 205.2V208.7M157.9 201.3V203.2M153 202.5V205.4M186.5 204.8V208.3M93.8 209.4V218.3M205.8 203.6V206.7M158.8 200.4V202.4M172.8 203.3V205.4M135.6 204.9V206.9M174.7 202.7V206M117.9 205V208.1M156.7 197.8V201.5M151.8 200.3V204.7M193.3 203.1V205.7M90.4 193.6V201.7M163.3 199.4V201.9M183.8 201.1V202.5M67.4 206.2V210.4M192.6 200.9V203.9M179.5 196.8V198.3M193.7 202V204M158.8 202.5V206.8M182.3 201.6V205.2M165.4 202.5V206.3M109 193.3V200.2M139.6 207.4V212.7M85.4 195V202.2M84.8 205.5V211.3M201.6 202.3V205M137.5 194.1V197.3M185.1 202.2V205.1M154.2 196.1V197.8M143.5 199.5V202M100.4 202.6V206.7M157.4 202.3V204.1M208.5 204.3V206.3M168.3 200.7V203.4M104.4 201.2V208.8M204.3 204V208M146.7 200.7V203.8M101.4 205.7V215.5M116.8 202.2V206.6M99.4 210.2V216.3M132.9 199.8V204.1M134.5 200.9V203.1M124.9 191.7V196.2M91.1 208.5V217.4M192.2 199.3V201.7M112.2 203.5V210.4M95.8 206.7V214.5M84.9 195.3V204.2M194.8 202.4V203.8M129.2 199.2V201.2M87 202.8V206.9M202.8 204.1V206.3M118.9 201.8V207.6M124.2 209.7V214.5M193.9 202.3V204.8M94 205.5V213.7M164.9 203.2V205.8M176.8 199.6V202.5M215.5 202.2V204.9M136.9 204.9V209.6M61.3 193V204.7M118.5 202.1V204.7M169.2 206.2V211M144.1 208.2V214.6M110.1 193.8V197.1M129.3 206.3V208.8M173.5 207.4V210.4M141.8 199.3V204.2M122.9 193.4V195.6M117.5 207.6V213.4M203.2 204.4V206.6M138.3 196.5V200.1M145 205V207.7M177.6 202.4V205M163 197.8V199.8M155 204.4V206.3M136.9 198.4V201.1M178.7 206V210.4M170.1 206.4V208.2M124.2 194.3V197.7M203.4 199.7V201.1M103.1 205.6V208.5M80.5 193.6V200.3M85.6 202.9V212M209 202.3V204.7M172.1 207.1V209.9M105.7 204.6V210.9M110.6 204.7V208.2M125.1 196.9V199.8M120.1 208.1V215.1M193.1 205.6V207.8M183.5 206.1V208.2M94.5 210V217.1M105 197.5V200.4M159.3 208.4V212.4M104.6 207.4V219.2M183.5 201.4V204.3M153.4 199.5V203.3M93.3 200.4V204.2M158.4 206.7V211.8M154.7 204.3V206.6M183.6 201.3V203.1M155.2 198.3V200.2M188.8 205.2V207.3M121.3 208.5V212.1M87.1 196.5V203.1M153.7 197V198.9M78.8 201V211.2M174.6 205V207.2M210.1 203.2V206.3M136.4 206V210.7M198.8 203.9V206.5M193.6 205.7V207.6M178.9 204.4V206.1M153.8 206.7V210.5M150.5 198.6V202.7M74.8 203.4V211.1M176.8 200.1V202.7M155.4 208.1V210.9M160.5 203.1V206.5M164.9 203.7V207.4M137.9 204.5V207.8M80 195.5V199.6M160 201.7V204.6M198.5 202.4V205.3M50.6 191.7V199.6M117.9 201.9V206M157.6 207V210.5M80.4 198.6V203.1M157 206.9V208.9M178.9 199.7V201.5M87.8 198V203.9M124.9 193.9V197.4M154.7 203.8V207.6M153.2 207.4V213.5M151.6 200.4V202.8M177.1 203.7V206.7M101.9 192.1V198.2M177.7 199.7V202.5M125.4 197.7V202.2M176.2 201.4V204.6M178.8 205.2V208.7M90.3 190.8V199.2M163.1 207V210.3M102.7 195.6V202.8M144.5 194.8V197.2M62 203.7V216.1M186.4 204.9V207.1M104 202.4V208.1M170.5 203.4V206.7M154.8 199.3V202.4M175.5 205.8V207.9M143.2 195.2V198.4M88.4 196.7V201.2M116.3 203.3V207M108.3 203.5V208.9M200.5 202.2V204.5M203.4 202.5V205.3M153.6 196.2V200.1M154.6 197.5V201.5M124.7 205.3V209.2M118.4 201.3V205.3M179 196.8V198.6M150.1 206V210.4M189.5 203.6V205.6M189.3 203.7V205.8M199.1 201.5V204.1M104.3 203.1V206.3M145.9 200V202.3M156.2 206.9V211.5M145.3 197.8V200.3M186.1 200.9V204.5M126 202.9V207M158.6 194.7V197.2M193.5 202.9V204.4M209.2 204.9V206.8M138.2 206.5V208.4M156.6 204.4V208.2M170.9 207V211.4M126.7 201.6V205.7M75.3 193.8V202.7M143.3 203.2V207.3M78 205V213.4M94.1 206.4V211M169.3 199.9V201.4M58.9 193.2V203.4M83.7 203.4V211.7M181.2 200.4V201.6M144.8 204V207.2M146.5 196.4V199.3M110.7 200.2V204M166.6 207.6V210.5M81.2 198.9V202.6M171 203.5V204.8M123.9 207.4V213.1M106.7 207.6V211M192.9 203.2V205.9M115.2 201.8V204.5M135.7 211.2V214.7M79.8 208.1V216.8M118.6 195.4V200.7M185.3 200.2V202.1M90.2 202.4V209.4M208.4 202.5V206M116.6 201.1V204.8M183.1 206V209.5M121.6 209.8V214.2M182.4 196.1V199.6M155.2 198.1V201M108.6 203.2V206.2M165.2 195.1V196.5M146.1 201.7V205.6M88.3 189.8V195.2M89.9 190.3V195.9M150 206.4V209.8M193.2 204.5V207.4M182 200.8V202.7M133.3 199.5V204M162.6 203.1V206.4M84.8 192.6V198.3M93.1 193.7V201.8M123.1 208.7V214.3M172.1 202.9V206.4M133.3 211V214M57.9 198.6V205.3M147.9 204.1V206.2M100.4 204.5V208.1M80 195.1V203.2M168.5 197.7V200.2M80.7 191.4V201.3M119.7 206.6V212.7M154.4 195.9V199.2M180.8 199.6V202.5M185.6 202.2V205.3M121.5 192.3V196.5M149.5 207.2V212.2M136.2 208.7V213M136.2 209.2V216.7M139.6 202.5V206.6M180.1 204.1V207.6M128.6 200.5V205.7M179.3 199.7V202.7M126.9 201.8V207.4M93.1 208.5V215.7M95.5 197.1V203.7M125.3 206.7V210.8M189.6 202.7V204.5M113.2 207V212.1M138.4 206.8V214.2M207.6 203.3V205.5M125.1 195.7V201.4M186.9 201.3V204.4M117.1 204.7V210.1M167.1 204.7V206.2M168.4 200.6V204.2M186 200.9V202.3M195.3 201.9V204M139.8 194.2V197.2M115.9 209.6V215.8M159.1 207V211.5M60.4 203V212.4M203.2 201.8V204.8M165.2 199.8V202.1M187.2 203.3V205.9M177.2 206.1V208.7M169.2 202V203.6M96.3 189.7V197.9M56.2 195.7V205.9M198.2 201.9V204.5M76.8 196.7V201.4M71.3 196.9V204.2M174.2 204.8V207.3M184.2 204.5V206M98.2 202.1V210.4M159.9 199.8V203.1M102.2 198.5V202.7M108.7 200.5V203.9M116.8 201.9V208M102 191.8V197.6M202.8 203.2V206M98.1 194V198.5M106.6 208.4V218.9M154.5 198.7V200.8M95.4 202.8V208.9M178.9 200.8V202.3M149.9 194.1V198.1M162.4 203.8V207.7M84.1 200.3V207.9M140.5 206.8V211.4M152.7 197.7V200.7M166.1 200V201.8M174.1 201.2V203.3M50.3 193.1V198.1M125.5 203.6V208.2M84 197.7V206.1M157.3 206.4V210.1M87.2 196.8V202M161.4 207.5V212.5M97.9 199.7V206.3M214.4 202.8V208.1M156.4 204V207.5M137.3 195.4V198.6M106.2 207V212M167.9 198.2V200.1M64.1 194.7V205.4M159.2 203.6V206.1M188.6 204.3V205.9M182.6 205.5V207.2M121.9 204.5V206.9M115.2 194V200.8M196.4 201.5V204M207.9 202V204.2M156.2 199V200.9M155.9 202.3V204.4M209.9 201.8V205M143.3 194.3V199.1M78.9 208.7V216.2M192.4 201.8V204.6M110.8 200.5V204.4M154.1 195.9V199.5M133.1 197.3V201.6M203.5 203.6V206.3M123.4 205.3V209M151.6 199.7V203.5M90.5 201.9V206M119.1 208.6V216.7M188.8 204.3V207.6M166.2 204.8V206.5M99.7 204.6V210.4M205.3 203.4V205.6M50.5 193.2V200M75.5 192.7V199.6M169.3 200.2V203M178.7 205.3V207.5M88.2 202.6V211.8M71.2 204.6V208.5M148.3 193.9V198.4M197.6 203.3V204.6M175.5 203.3V205.9M134.3 203.7V208.9M145.5 208.7V210.6M87.8 191.4V195.1M163.4 204.1V207.5M116.5 193V196.8M203.9 201.2V204.7M180.3 200.9V202.4M72.5 202.3V211.5M121.7 203V207.5M119.4 201.5V206.8M155.4 206.3V210.5M101.5 208.5V217.6M204.3 204.5V206.2M122.5 194.4V197.3M171.1 206.6V210.4M197.7 202.9V205.1M157.3 198.2V200.4M171.8 204.5V207.3M172.8 198.6V201M176.4 200.5V202.2M149.7 199.3V203.2M189.2 200.6V204M197.6 202.5V204.5M140.9 207.8V215.3M105.7 205.6V217.1M192.2 204.6V206.7M117.8 203.5V208.2M184.8 202.7V205.3M107.8 199.4V202.4M91.4 196.9V203.6M67.9 206.7V214.9M165.4 203.7V205.4M141.9 203.4V206.6M92.8 207.1V220.4M175.2 202.3V204M178.4 201.9V203.7M106.6 196.6V203.2M171.3 199.7V201M125.6 208.6V213.8M128.2 192V197.4M129.6 208.9V212M127.9 207.2V212.4M128.5 192.4V198.3M120.5 207.7V213M155.6 206.4V209.6M176.4 202.8V205.5M111.3 205.2V211M146.9 199.5V203.5M76.7 202.1V206M158.4 197V200.2M132.7 204.3V209M208.1 203.5V204.7M184.5 203.6V206.7M191.5 203.9V207.1M189.4 201.5V203.2M138.9 204.8V209.6M153.2 205.8V208.5M174.9 205.2V206.7M123.9 194.2V197.1M133.9 208.5V215.9M128.1 201.1V203.7M89.4 196.3V202.7M159.5 199.8V201.2M95.8 206.4V212.7M142.4 193.7V197.6M140.5 208.5V215.1M188 205.5V208.3M177.1 200V203.5M169.3 207.6V211.5M155.5 203.2V205.4M105.4 194.1V201.7M100.7 193.9V202M81.7 189.5V195.1M119.7 202.6V205.8M111.2 200.2V206.4M137.6 197.6V200.2M129.2 192.8V198M97.7 204.3V209M161.5 205.7V208.3M99.4 202.1V209.4M67.6 191.5V203.2M101.2 200.5V204.2M180.7 202.6V204.1M177.4 200.2V203.1M135.9 209.3V214.2M184.6 203.9V207.3M189.1 204V207M97.3 209.1V217.6M165.4 203.4V207.3M68.6 202.9V219.4M142.7 210.7V213.8M170.6 204.8V207.4M196.8 204.7V206.4M187.2 205.7V208.7M79.8 209.2V216.7M150.1 197.3V201.6M175.9 200.5V203.4M135.2 197.4V201.7M145.2 197.8V201.4M139.9 207.9V214M68.7 200.9V206.4M59.9 196.1V203.9M198 204.6V206.5M171.6 198.4V200.2M138 207.8V210.5M185.2 201.5V203.3M96.5 208V213.5M135.6 202.7V208.1M137.4 201.1V203.6M180.9 197.7V200.1M128.2 201.9V206.4M128.6 209.4V215.1M143.8 206.2V208.5M142 200.1V203.1M161.8 204.2V206.5M83.6 197.2V202.1M197.3 199.3V201.1M153.4 203.2V207.7M128.9 204V207M101.3 208.3V216.6M102.1 195.4V199M159.2 206.3V212.3M120.4 203.3V209.6M96.5 189.9V195M100.4 198.4V202.3M166.8 202.3V206.1M122.6 206.9V213M191.9 205.2V206.6M149.9 205.8V210.3M51.4 202.3V211.1M82.4 202.3V210.4M138.4 196.7V199.3M127.9 199.2V204.9M50.1 200.5V207.9M200.1 202.9V204.5M65.4 197.3V207.7M180.1 200.7V204.2M90.5 205.6V214M163.4 197.9V201M100.7 208.2V212.3M161.9 195.6V199.6M143.7 205.5V210.3M94.6 190.7V198.6M133.8 201.2V205.2M155.5 206.9V211.4M162.9 201V203.6M175.9 204.5V207.2M160.1 197.8V201.2M142.1 192.2V196.2M99.5 198.6V202.9M115.7 195.4V201.6M100.4 199.7V202.8M95.1 203.8V207.9M91.2 195.8V201.6M164.7 204.7V206.3M86.7 191.4V200.8M78.3 206.3V217.9M62.2 195.7V206.4M207.3 203.2V206.4M140.1 208.3V215.9M99.6 200.8V207.7M66.4 196.7V204.4M180.1 203.4V206.7M154.4 200.6V203.2M132.2 196.4V200.5M91.3 191.5V199.4M85.3 191.9V201.5M218.3 203.1V204.6M152.3 207V212.4M152.4 207.1V209.3M81.5 199.2V209.1M163.8 198V201M99.3 196.8V200.7M87.5 203.7V210.4M94.3 205.7V213.6M129.3 207.6V213M145.8 202.8V205.6M195 201.1V203.9M202.5 204.5V207.7M159.4 206.7V208.2M141.9 206.4V209.8M147.4 207.4V210.1M186.1 204.8V206.6M111 199.4V205.8M203 200.5V203.5M209 202.5V205.5M214 203V205M222.8 204.2V206.2M232 203.5V205.5M244.5 202.6V204.6M256.7 202.6V204.6" stroke="#4c72b0" stroke-width="1.0" stroke-opacity="0.4" fill="none"/><g fill="#4c72b0" fill-opacity="0.55"><circle cx="201.3" cy="205.9" r="2.3"/><circle cx="57.7" cy="209.4" r="2.3"/><circle cx="119.5" cy="211.9" r="2.3"/><circle cx="173.1" cy="208.5" r="2.3"/><circle cx="132.9" cy="211" r="2.3"/><circle cx="96.7" cy="211.1" r="2.3"/><circle cx="130.4" cy="211.3" r="2.3"/><circle cx="98.6" cy="211.4" r="2.3"/><circle cx="137.9" cy="211.5" r="2.3"/><circle cx="64.1" cy="210.9" r="2.3"/><circle cx="173.8" cy="208.4" r="2.3"/><circle cx="158.5" cy="209.3" r="2.3"/><circle cx="161.1" cy="209.2" r="2.3"/><circle cx="172.9" cy="208.9" r="2.3"/><circle cx="59.1" cy="201.3" r="2.3"/><circle cx="74.3" cy="209.2" r="2.3"/><circle cx="110.1" cy="213.7" r="2.3"/><circle cx="74.9" cy="193" r="2.3"/><circle cx="145.4" cy="210.5" r="2.3"/><circle cx="175.7" cy="208.5" r="2.3"/><circle cx="149.9" cy="210.9" r="2.3"/><circle cx="161.1" cy="209.8" r="2.3"/><circle cx="86.1" cy="212.9" r="2.3"/><circle cx="125" cy="210.6" r="2.3"/><circle cx="94.6" cy="212.9" r="2.3"/><circle cx="69.2" cy="204.7" r="2.3"/><circle cx="59.6" cy="206.6" r="2.3"/><circle cx="184.9" cy="207.5" r="2.3"/><circle cx="72.2" cy="204.2" r="2.3"/><circle cx="181.8" cy="207.4" r="2.3"/><circle cx="155.9" cy="209.1" r="2.3"/><circle cx="160.4" cy="210.5" r="2.3"/><circle cx="119.4" cy="211.7" r="2.3"/><circle cx="198.4" cy="206.2" r="2.3"/><circle cx="56.1" cy="196" r="2.3"/><circle cx="114.7" cy="213" r="2.3"/><circle cx="124.2" cy="210.9" r="2.3"/><circle cx="138.3" cy="212.5" r="2.3"/><circle cx="91.8" cy="213.4" r="2.3"/><circle cx="72.8" cy="204.8" r="2.3"/><circle cx="56.5" cy="195.5" r="2.3"/><circle cx="59.2" cy="213" r="2.3"/><circle cx="163.7" cy="209.6" r="2.3"/><circle cx="61.3" cy="201" r="2.3"/><circle cx="146.9" cy="211.6" r="2.3"/><circle cx="54.5" cy="192.7" r="2.3"/><circle cx="154.8" cy="210" r="2.3"/><circle cx="156.5" cy="209.5" r="2.3"/><circle cx="149.9" cy="210.2" r="2.3"/><circle cx="151.3" cy="210.8" r="2.3"/><circle cx="113.3" cy="210.8" r="2.3"/><circle cx="122" cy="210.6" r="2.3"/><circle cx="52.4" cy="201.3" r="2.3"/><circle cx="69.2" cy="209.2" r="2.3"/><circle cx="128.9" cy="212.2" r="2.3"/><circle cx="188.9" cy="207.2" r="2.3"/><circle cx="148.8" cy="211.7" r="2.3"/><circle cx="160.8" cy="209.1" r="2.3"/><circle cx="102.8" cy="211.8" r="2.3"/><circle cx="113.9" cy="211" r="2.3"/><circle cx="110.2" cy="213.1" r="2.3"/><circle cx="62.9" cy="194.8" r="2.3"/><circle cx="139.1" cy="210.8" r="2.3"/><circle cx="145.4" cy="211.9" r="2.3"/><circle cx="186" cy="207.2" r="2.3"/><circle cx="167.4" cy="209.6" r="2.3"/><circle cx="74" cy="202.8" r="2.3"/><circle cx="200.4" cy="206" r="2.3"/><circle cx="173.5" cy="208" r="2.3"/><circle cx="200.8" cy="205.8" r="2.3"/><circle cx="101.1" cy="211.2" r="2.3"/><circle cx="61.8" cy="203.6" r="2.3"/><circle cx="61.7" cy="207.9" r="2.3"/><circle cx="162.5" cy="209.1" r="2.3"/><circle cx="178.3" cy="208.1" r="2.3"/><circle cx="98.6" cy="211.2" r="2.3"/><circle cx="139.5" cy="210.6" r="2.3"/><circle cx="51.1" cy="199.5" r="2.3"/><circle cx="58.8" cy="207.5" r="2.3"/><circle cx="73.2" cy="203.9" r="2.3"/><circle cx="165.4" cy="209.2" r="2.3"/><circle cx="208.5" cy="205.4" r="2.3"/><circle cx="156.2" cy="209.6" r="2.3"/><circle cx="133.7" cy="211.2" r="2.3"/><circle cx="78.3" cy="210.1" r="2.3"/><circle cx="130" cy="212.1" r="2.3"/><circle cx="114.7" cy="213.2" r="2.3"/><circle cx="101.1" cy="210.8" r="2.3"/><circle cx="123" cy="213.2" r="2.3"/><circle cx="175.1" cy="208.7" r="2.3"/><circle cx="161.3" cy="209.6" r="2.3"/><circle cx="73.8" cy="198" r="2.3"/><circle cx="200.2" cy="206" r="2.3"/><circle cx="155.7" cy="209.1" r="2.3"/><circle cx="109.6" cy="213.3" r="2.3"/><circle cx="72.3" cy="197.1" r="2.3"/><circle cx="118.1" cy="213.4" r="2.3"/><circle cx="111.2" cy="212" r="2.3"/><circle cx="98.3" cy="212.7" r="2.3"/><circle cx="64.3" cy="210.8" r="2.3"/><circle cx="54.3" cy="194.2" r="2.3"/><circle cx="103.2" cy="212" r="2.3"/><circle cx="54.8" cy="194.5" r="2.3"/><circle cx="139.1" cy="212.6" r="2.3"/><circle cx="206.5" cy="205.7" r="2.3"/><circle cx="195.4" cy="206.4" r="2.3"/><circle cx="158.3" cy="209.3" r="2.3"/><circle cx="119.9" cy="211.7" r="2.3"/><circle cx="84.2" cy="212.2" r="2.3"/><circle cx="165.5" cy="209.4" r="2.3"/><circle cx="176.1" cy="208.5" r="2.3"/><circle cx="94.4" cy="212.3" r="2.3"/><circle cx="145.9" cy="210.3" r="2.3"/><circle cx="162.6" cy="209.4" r="2.3"/><circle cx="55.3" cy="204.1" r="2.3"/><circle cx="194.4" cy="206.5" r="2.3"/><circle cx="173.7" cy="208.6" r="2.3"/><circle cx="104.7" cy="213.5" r="2.3"/><circle cx="72.9" cy="199.4" r="2.3"/><circle cx="201.4" cy="206" r="2.3"/><circle cx="200.5" cy="206.1" r="2.3"/><circle cx="202" cy="206" r="2.3"/><circle cx="199.9" cy="205.9" r="2.3"/><circle cx="125.2" cy="212.5" r="2.3"/><circle cx="65.3" cy="213.2" r="2.3"/><circle cx="74.6" cy="196" r="2.3"/><circle cx="146" cy="211.8" r="2.3"/><circle cx="125.2" cy="212.2" r="2.3"/><circle cx="164.9" cy="208.6" r="2.3"/><circle cx="119.4" cy="212.7" r="2.3"/><circle cx="139.5" cy="212.6" r="2.3"/><circle cx="87.9" cy="211" r="2.3"/><circle cx="60.6" cy="199" r="2.3"/><circle cx="117.1" cy="213.5" r="2.3"/><circle cx="60.4" cy="201.9" r="2.3"/><circle cx="64.1" cy="199.8" r="2.3"/><circle cx="198.9" cy="206" r="2.3"/><circle cx="143.6" cy="211.9" r="2.3"/><circle cx="146.5" cy="210.9" r="2.3"/><circle cx="164.6" cy="209.4" r="2.3"/><circle cx="185.1" cy="207.1" r="2.3"/><circle cx="170.6" cy="209.3" r="2.3"/><circle cx="89.5" cy="212.8" r="2.3"/><circle cx="153.9" cy="209.8" r="2.3"/><circle cx="192.1" cy="206.4" r="2.3"/><circle cx="184.7" cy="207.3" r="2.3"/><circle cx="63.8" cy="202" r="2.3"/><circle cx="160" cy="208.8" r="2.3"/><circle cx="170.8" cy="208.8" r="2.3"/><circle cx="63.1" cy="205.5" r="2.3"/><circle cx="190.7" cy="206.9" r="2.3"/><circle cx="63.2" cy="196.5" r="2.3"/><circle cx="93.8" cy="213.8" r="2.3"/><circle cx="67.4" cy="208.3" r="2.3"/><circle cx="204.3" cy="206" r="2.3"/><circle cx="101.4" cy="210.6" r="2.3"/><circle cx="99.4" cy="213.3" r="2.3"/><circle cx="91.1" cy="212.9" r="2.3"/><circle cx="95.8" cy="210.6" r="2.3"/><circle cx="124.2" cy="212.1" r="2.3"/><circle cx="61.3" cy="198.9" r="2.3"/><circle cx="169.2" cy="208.6" r="2.3"/><circle cx="144.1" cy="211.4" r="2.3"/><circle cx="173.5" cy="208.9" r="2.3"/><circle cx="178.7" cy="208.2" r="2.3"/><circle cx="172.1" cy="208.5" r="2.3"/><circle cx="120.1" cy="211.6" r="2.3"/><circle cx="193.1" cy="206.7" r="2.3"/><circle cx="183.5" cy="207.2" r="2.3"/><circle cx="94.5" cy="213.5" r="2.3"/><circle cx="159.3" cy="210.4" r="2.3"/><circle cx="104.6" cy="213.3" r="2.3"/><circle cx="158.4" cy="209.3" r="2.3"/><circle cx="193.6" cy="206.7" r="2.3"/><circle cx="74.8" cy="207.2" r="2.3"/><circle cx="155.4" cy="209.5" r="2.3"/><circle cx="50.6" cy="195.6" r="2.3"/><circle cx="153.2" cy="210.4" r="2.3"/><circle cx="163.1" cy="208.6" r="2.3"/><circle cx="62" cy="209.9" r="2.3"/><circle cx="156.2" cy="209.2" r="2.3"/><circle cx="209.2" cy="205.9" r="2.3"/><circle cx="170.9" cy="209.2" r="2.3"/><circle cx="58.9" cy="198.3" r="2.3"/><circle cx="166.6" cy="209.1" r="2.3"/><circle cx="135.7" cy="213" r="2.3"/><circle cx="79.8" cy="212.4" r="2.3"/><circle cx="183.1" cy="207.7" r="2.3"/><circle cx="121.6" cy="212" r="2.3"/><circle cx="123.1" cy="211.5" r="2.3"/><circle cx="133.3" cy="212.5" r="2.3"/><circle cx="57.9" cy="202" r="2.3"/><circle cx="149.5" cy="209.7" r="2.3"/><circle cx="136.2" cy="210.9" r="2.3"/><circle cx="136.2" cy="213" r="2.3"/><circle cx="93.1" cy="212.1" r="2.3"/><circle cx="138.4" cy="210.5" r="2.3"/><circle cx="115.9" cy="212.7" r="2.3"/><circle cx="159.1" cy="209.2" r="2.3"/><circle cx="60.4" cy="207.7" r="2.3"/><circle cx="56.2" cy="200.8" r="2.3"/><circle cx="71.3" cy="200.5" r="2.3"/><circle cx="106.6" cy="213.6" r="2.3"/><circle cx="50.3" cy="195.6" r="2.3"/><circle cx="161.4" cy="210" r="2.3"/><circle cx="214.4" cy="205.4" r="2.3"/><circle cx="64.1" cy="200.1" r="2.3"/><circle cx="78.9" cy="212.5" r="2.3"/><circle cx="119.1" cy="212.7" r="2.3"/><circle cx="50.5" cy="196.6" r="2.3"/><circle cx="71.2" cy="206.6" r="2.3"/><circle cx="72.5" cy="206.9" r="2.3"/><circle cx="101.5" cy="213" r="2.3"/><circle cx="171.1" cy="208.5" r="2.3"/><circle cx="140.9" cy="211.6" r="2.3"/><circle cx="105.7" cy="211.3" r="2.3"/><circle cx="67.9" cy="210.8" r="2.3"/><circle cx="92.8" cy="213.8" r="2.3"/><circle cx="125.6" cy="211.2" r="2.3"/><circle cx="133.9" cy="212.2" r="2.3"/><circle cx="140.5" cy="211.8" r="2.3"/><circle cx="188" cy="206.9" r="2.3"/><circle cx="169.3" cy="209.6" r="2.3"/><circle cx="67.6" cy="197.3" r="2.3"/><circle cx="135.9" cy="211.7" r="2.3"/><circle cx="97.3" cy="213.4" r="2.3"/><circle cx="68.6" cy="211.1" r="2.3"/><circle cx="142.7" cy="212.3" r="2.3"/><circle cx="187.2" cy="207.2" r="2.3"/><circle cx="79.8" cy="212.9" r="2.3"/><circle cx="139.9" cy="210.9" r="2.3"/><circle cx="68.7" cy="203.7" r="2.3"/><circle cx="59.9" cy="200" r="2.3"/><circle cx="96.5" cy="210.7" r="2.3"/><circle cx="128.6" cy="212.3" r="2.3"/><circle cx="101.3" cy="212.4" r="2.3"/><circle cx="159.2" cy="209.3" r="2.3"/><circle cx="51.4" cy="206.7" r="2.3"/><circle cx="50.1" cy="204.2" r="2.3"/><circle cx="65.4" cy="202.5" r="2.3"/><circle cx="155.5" cy="209.2" r="2.3"/><circle cx="78.3" cy="212.1" r="2.3"/><circle cx="62.2" cy="201" r="2.3"/><circle cx="140.1" cy="212.1" r="2.3"/><circle cx="66.4" cy="200.6" r="2.3"/><circle cx="152.3" cy="209.7" r="2.3"/><circle cx="202.5" cy="206.1" r="2.3"/></g><g fill="#4c72b0" fill-opacity="0.7"><circle cx="108.6" cy="205.2" r="2.3"/><circle cx="102.6" cy="201.6" r="2.3"/><circle cx="201.7" cy="203.9" r="2.3"/><circle cx="164.4" cy="205.5" r="2.3"/><circle cx="123" cy="196.8" r="2.3"/><circle cx="139.6" cy="206.9" r="2.3"/><circle cx="208.4" cy="203.5" r="2.3"/><circle cx="195.1" cy="204.6" r="2.3"/><circle cx="103.1" cy="200.5" r="2.3"/><circle cx="191.7" cy="204" r="2.3"/><circle cx="163.6" cy="207.4" r="2.3"/><circle cx="183.4" cy="204.8" r="2.3"/><circle cx="133" cy="199.3" r="2.3"/><circle cx="153.4" cy="200.3" r="2.3"/><circle cx="96.9" cy="206.1" r="2.3"/><circle cx="154.9" cy="204.8" r="2.3"/><circle cx="154" cy="200.7" r="2.3"/><circle cx="79.8" cy="204.7" r="2.3"/><circle cx="176.7" cy="203.6" r="2.3"/><circle cx="161.4" cy="205.9" r="2.3"/><circle cx="136.4" cy="196" r="2.3"/><circle cx="202.9" cy="202.2" r="2.3"/><circle cx="177.2" cy="206.6" r="2.3"/><circle cx="103.8" cy="193.7" r="2.3"/><circle cx="156.9" cy="206.7" r="2.3"/><circle cx="77.4" cy="208.4" r="2.3"/><circle cx="117.5" cy="195.9" r="2.3"/><circle cx="163.6" cy="199.3" r="2.3"/><circle cx="152.9" cy="200" r="2.3"/><circle cx="187.3" cy="204.5" r="2.3"/><circle cx="173.8" cy="205" r="2.3"/><circle cx="167.5" cy="201.7" r="2.3"/><circle cx="135.1" cy="203.8" r="2.3"/><circle cx="154" cy="204" r="2.3"/><circle cx="99.1" cy="205.4" r="2.3"/><circle cx="115.5" cy="197.4" r="2.3"/><circle cx="160.5" cy="202.3" r="2.3"/><circle cx="164.2" cy="200.3" r="2.3"/><circle cx="154.5" cy="206.6" r="2.3"/><circle cx="191.5" cy="202.6" r="2.3"/><circle cx="146.9" cy="207.3" r="2.3"/><circle cx="103.4" cy="207.7" r="2.3"/><circle cx="191.3" cy="203.6" r="2.3"/><circle cx="164.5" cy="195.5" r="2.3"/><circle cx="170.9" cy="205.6" r="2.3"/><circle cx="103.3" cy="206.5" r="2.3"/><circle cx="137.7" cy="208.3" r="2.3"/><circle cx="193.6" cy="204.3" r="2.3"/><circle cx="200.9" cy="203.8" r="2.3"/><circle cx="116.9" cy="210.2" r="2.3"/><circle cx="113.5" cy="197.7" r="2.3"/><circle cx="179.5" cy="204.2" r="2.3"/><circle cx="106.2" cy="210.3" r="2.3"/><circle cx="145.8" cy="202.1" r="2.3"/><circle cx="192.9" cy="206" r="2.3"/><circle cx="200.9" cy="205.6" r="2.3"/><circle cx="192.7" cy="204" r="2.3"/><circle cx="135.7" cy="210" r="2.3"/><circle cx="189.1" cy="202.1" r="2.3"/><circle cx="180.2" cy="203.2" r="2.3"/><circle cx="209.1" cy="204.9" r="2.3"/><circle cx="120" cy="209.4" r="2.3"/><circle cx="177.6" cy="201.1" r="2.3"/><circle cx="117.2" cy="203.8" r="2.3"/><circle cx="121.7" cy="197.8" r="2.3"/><circle cx="156.5" cy="199.1" r="2.3"/><circle cx="143.2" cy="203.6" r="2.3"/><circle cx="130.9" cy="209.2" r="2.3"/><circle cx="150.9" cy="193.8" r="2.3"/><circle cx="148.7" cy="199.1" r="2.3"/><circle cx="106.4" cy="199.1" r="2.3"/><circle cx="168.4" cy="207.8" r="2.3"/><circle cx="190" cy="206.1" r="2.3"/><circle cx="192.3" cy="202.7" r="2.3"/><circle cx="93.6" cy="199.7" r="2.3"/><circle cx="180.3" cy="204.6" r="2.3"/><circle cx="190.8" cy="205.5" r="2.3"/><circle cx="101.3" cy="198.6" r="2.3"/><circle cx="92.2" cy="204.6" r="2.3"/><circle cx="139.6" cy="209.4" r="2.3"/><circle cx="160.3" cy="199.3" r="2.3"/><circle cx="185" cy="202.7" r="2.3"/><circle cx="168.4" cy="202" r="2.3"/><circle cx="118.4" cy="196.4" r="2.3"/><circle cx="209.1" cy="205.2" r="2.3"/><circle cx="116.6" cy="193.6" r="2.3"/><circle cx="96.5" cy="192.1" r="2.3"/><circle cx="158" cy="206.5" r="2.3"/><circle cx="140.8" cy="200.2" r="2.3"/><circle cx="143.4" cy="201.2" r="2.3"/><circle cx="150.8" cy="203.8" r="2.3"/><circle cx="171.3" cy="202.8" r="2.3"/><circle cx="106.3" cy="198.2" r="2.3"/><circle cx="140" cy="195.4" r="2.3"/><circle cx="177.5" cy="206.2" r="2.3"/><circle cx="118" cy="202.5" r="2.3"/><circle cx="126.7" cy="199.2" r="2.3"/><circle cx="144" cy="196.3" r="2.3"/><circle cx="187" cy="202.7" r="2.3"/><circle cx="131.9" cy="201.2" r="2.3"/><circle cx="85.6" cy="205.7" r="2.3"/><circle cx="90.6" cy="195.7" r="2.3"/><circle cx="194.5" cy="204.3" r="2.3"/><circle cx="91.4" cy="200.2" r="2.3"/><circle cx="204.9" cy="202.2" r="2.3"/><circle cx="158.5" cy="206.9" r="2.3"/><circle cx="167.7" cy="206.3" r="2.3"/><circle cx="112.3" cy="202.1" r="2.3"/><circle cx="172" cy="204.2" r="2.3"/><circle cx="181.5" cy="202.9" r="2.3"/><circle cx="162.4" cy="204.9" r="2.3"/><circle cx="117.4" cy="197.9" r="2.3"/><circle cx="103.3" cy="195.1" r="2.3"/><circle cx="124.7" cy="199.3" r="2.3"/><circle cx="158.7" cy="206.1" r="2.3"/><circle cx="164.5" cy="199.8" r="2.3"/><circle cx="169.2" cy="207.7" r="2.3"/><circle cx="134.1" cy="195.4" r="2.3"/><circle cx="129.1" cy="207.3" r="2.3"/><circle cx="100.4" cy="201.9" r="2.3"/><circle cx="152.2" cy="209.1" r="2.3"/><circle cx="140.9" cy="196.2" r="2.3"/><circle cx="118.5" cy="206.5" r="2.3"/><circle cx="112.5" cy="200.3" r="2.3"/><circle cx="100.3" cy="203.8" r="2.3"/><circle cx="187.7" cy="205.3" r="2.3"/><circle cx="75.4" cy="196.8" r="2.3"/><circle cx="95.6" cy="206.7" r="2.3"/><circle cx="86.8" cy="207.9" r="2.3"/><circle cx="92.1" cy="203.1" r="2.3"/><circle cx="202.2" cy="204.8" r="2.3"/><circle cx="142.7" cy="193.9" r="2.3"/><circle cx="199.3" cy="205.1" r="2.3"/><circle cx="91.6" cy="198.3" r="2.3"/><circle cx="115.9" cy="198.2" r="2.3"/><circle cx="170" cy="204.6" r="2.3"/><circle cx="127.1" cy="208.6" r="2.3"/><circle cx="144.6" cy="206.3" r="2.3"/><circle cx="145.4" cy="201.1" r="2.3"/><circle cx="151" cy="204" r="2.3"/><circle cx="151" cy="196.9" r="2.3"/><circle cx="84.8" cy="208.2" r="2.3"/><circle cx="94.2" cy="197.7" r="2.3"/><circle cx="179.8" cy="203.6" r="2.3"/><circle cx="116.3" cy="203.7" r="2.3"/><circle cx="90.8" cy="208.4" r="2.3"/><circle cx="179" cy="201.9" r="2.3"/><circle cx="180.1" cy="206.8" r="2.3"/><circle cx="77.3" cy="201" r="2.3"/><circle cx="163.3" cy="201.5" r="2.3"/><circle cx="161.7" cy="206.4" r="2.3"/><circle cx="80.2" cy="203.5" r="2.3"/><circle cx="142.9" cy="197.3" r="2.3"/><circle cx="210.1" cy="204" r="2.3"/><circle cx="128.7" cy="208.2" r="2.3"/><circle cx="165.2" cy="203.5" r="2.3"/><circle cx="150.1" cy="209.3" r="2.3"/><circle cx="184" cy="200.9" r="2.3"/><circle cx="217.3" cy="203.8" r="2.3"/><circle cx="162" cy="202.9" r="2.3"/><circle cx="117.8" cy="203.6" r="2.3"/><circle cx="84.5" cy="195.9" r="2.3"/><circle cx="132.6" cy="209" r="2.3"/><circle cx="207.8" cy="203.9" r="2.3"/><circle cx="116.2" cy="200.2" r="2.3"/><circle cx="185.9" cy="202.7" r="2.3"/><circle cx="185.4" cy="201.9" r="2.3"/><circle cx="185.3" cy="199.9" r="2.3"/><circle cx="130.3" cy="195" r="2.3"/><circle cx="169.6" cy="207.3" r="2.3"/><circle cx="179.5" cy="202.9" r="2.3"/><circle cx="137.5" cy="204.5" r="2.3"/><circle cx="174.4" cy="199.4" r="2.3"/><circle cx="86.8" cy="206.1" r="2.3"/><circle cx="139.4" cy="208.8" r="2.3"/><circle cx="124.6" cy="205.9" r="2.3"/><circle cx="126.8" cy="197.3" r="2.3"/><circle cx="149.9" cy="198.3" r="2.3"/><circle cx="181.1" cy="201.6" r="2.3"/><circle cx="118.5" cy="206.4" r="2.3"/><circle cx="141.1" cy="199.7" r="2.3"/><circle cx="202.5" cy="203.3" r="2.3"/><circle cx="121.1" cy="201.2" r="2.3"/><circle cx="79.7" cy="206.7" r="2.3"/><circle cx="126.9" cy="206.3" r="2.3"/><circle cx="94.4" cy="197.3" r="2.3"/><circle cx="141.4" cy="197.5" r="2.3"/><circle cx="199" cy="205.7" r="2.3"/><circle cx="191" cy="205.5" r="2.3"/><circle cx="106.6" cy="195" r="2.3"/><circle cx="111.1" cy="192.7" r="2.3"/><circle cx="131.7" cy="207.7" r="2.3"/><circle cx="86.1" cy="207" r="2.3"/><circle cx="103.1" cy="203.4" r="2.3"/><circle cx="114" cy="196.6" r="2.3"/><circle cx="143.5" cy="209.3" r="2.3"/><circle cx="148.3" cy="201" r="2.3"/><circle cx="134.3" cy="198.2" r="2.3"/><circle cx="173.5" cy="206.8" r="2.3"/><circle cx="111.3" cy="204.1" r="2.3"/><circle cx="163.4" cy="201.4" r="2.3"/><circle cx="165.4" cy="200.5" r="2.3"/><circle cx="146.4" cy="200.6" r="2.3"/><circle cx="104" cy="209.2" r="2.3"/><circle cx="117.9" cy="200" r="2.3"/><circle cx="143.7" cy="196.5" r="2.3"/><circle cx="91.1" cy="199" r="2.3"/><circle cx="101.6" cy="209.8" r="2.3"/><circle cx="79.7" cy="195" r="2.3"/><circle cx="80.3" cy="209.7" r="2.3"/><circle cx="91.4" cy="195.3" r="2.3"/><circle cx="113.3" cy="208.8" r="2.3"/><circle cx="183.8" cy="199.8" r="2.3"/><circle cx="200.1" cy="203.6" r="2.3"/><circle cx="174.7" cy="206.9" r="2.3"/><circle cx="130.4" cy="208" r="2.3"/><circle cx="163" cy="207.3" r="2.3"/><circle cx="109.7" cy="197.8" r="2.3"/><circle cx="143.7" cy="205.9" r="2.3"/><circle cx="131.7" cy="197.9" r="2.3"/><circle cx="195" cy="203" r="2.3"/><circle cx="165.5" cy="204.3" r="2.3"/><circle cx="140.7" cy="196.3" r="2.3"/><circle cx="129.6" cy="200.9" r="2.3"/><circle cx="84.4" cy="199.9" r="2.3"/><circle cx="156.2" cy="197" r="2.3"/><circle cx="126.8" cy="208.3" r="2.3"/><circle cx="157" cy="203.3" r="2.3"/><circle cx="206.1" cy="204.2" r="2.3"/><circle cx="198.6" cy="205.6" r="2.3"/><circle cx="106.3" cy="202.8" r="2.3"/><circle cx="130.9" cy="198" r="2.3"/><circle cx="123.3" cy="196.3" r="2.3"/><circle cx="182.4" cy="204.6" r="2.3"/><circle cx="117.9" cy="208.5" r="2.3"/><circle cx="202.9" cy="204.2" r="2.3"/><circle cx="138" cy="199.8" r="2.3"/><circle cx="174.8" cy="200" r="2.3"/><circle cx="181.1" cy="201" r="2.3"/><circle cx="169.9" cy="206.1" r="2.3"/><circle cx="168.7" cy="200" r="2.3"/><circle cx="105.8" cy="194.1" r="2.3"/><circle cx="142.8" cy="208.4" r="2.3"/><circle cx="130.3" cy="200.1" r="2.3"/><circle cx="111.8" cy="207.3" r="2.3"/><circle cx="140.7" cy="208.2" r="2.3"/><circle cx="135.3" cy="203.1" r="2.3"/><circle cx="177.7" cy="206.1" r="2.3"/><circle cx="149.7" cy="204.6" r="2.3"/><circle cx="97.1" cy="203.9" r="2.3"/><circle cx="183.3" cy="203.3" r="2.3"/><circle cx="170.7" cy="198.3" r="2.3"/><circle cx="182.8" cy="206.4" r="2.3"/><circle cx="148.8" cy="208.5" r="2.3"/><circle cx="139.5" cy="200.9" r="2.3"/><circle cx="99.3" cy="206.6" r="2.3"/><circle cx="180.6" cy="202.6" r="2.3"/><circle cx="162.7" cy="207.4" r="2.3"/><circle cx="124.8" cy="191.3" r="2.3"/><circle cx="194.1" cy="203" r="2.3"/><circle cx="128.4" cy="200.5" r="2.3"/><circle cx="204.1" cy="203.6" r="2.3"/><circle cx="83.3" cy="197.3" r="2.3"/><circle cx="95.7" cy="199.6" r="2.3"/><circle cx="128.1" cy="201.3" r="2.3"/><circle cx="159.4" cy="208.4" r="2.3"/><circle cx="208.2" cy="203.5" r="2.3"/><circle cx="151.9" cy="208.8" r="2.3"/><circle cx="142" cy="197.5" r="2.3"/><circle cx="131.5" cy="204.2" r="2.3"/><circle cx="189.6" cy="206.4" r="2.3"/><circle cx="158.6" cy="202.3" r="2.3"/><circle cx="176.5" cy="207.5" r="2.3"/><circle cx="115.3" cy="209.5" r="2.3"/><circle cx="111.8" cy="204.1" r="2.3"/><circle cx="150" cy="202.9" r="2.3"/><circle cx="130.3" cy="199.1" r="2.3"/><circle cx="156.9" cy="201.5" r="2.3"/><circle cx="97.4" cy="194.4" r="2.3"/><circle cx="126" cy="198.2" r="2.3"/><circle cx="95" cy="195.5" r="2.3"/><circle cx="114.2" cy="205" r="2.3"/><circle cx="137.8" cy="200.6" r="2.3"/><circle cx="155.3" cy="203.3" r="2.3"/><circle cx="117.6" cy="196.5" r="2.3"/><circle cx="91.6" cy="197.6" r="2.3"/><circle cx="139.5" cy="198.2" r="2.3"/><circle cx="88.8" cy="209.6" r="2.3"/><circle cx="120" cy="198" r="2.3"/><circle cx="176.1" cy="204.1" r="2.3"/><circle cx="111.6" cy="200.3" r="2.3"/><circle cx="187" cy="206" r="2.3"/><circle cx="136.9" cy="205.6" r="2.3"/><circle cx="125.8" cy="205.5" r="2.3"/><circle cx="166.6" cy="200.2" r="2.3"/><circle cx="134.5" cy="200.2" r="2.3"/><circle cx="168.4" cy="201.2" r="2.3"/><circle cx="171.9" cy="206.3" r="2.3"/><circle cx="148.6" cy="200.6" r="2.3"/><circle cx="96.3" cy="200.8" r="2.3"/><circle cx="109.4" cy="198.1" r="2.3"/><circle cx="190.6" cy="203" r="2.3"/><circle cx="152.4" cy="202.7" r="2.3"/><circle cx="152.1" cy="198.7" r="2.3"/><circle cx="94.5" cy="198.9" r="2.3"/><circle cx="161.7" cy="208.1" r="2.3"/><circle cx="106.2" cy="195.4" r="2.3"/><circle cx="159" cy="205.5" r="2.3"/><circle cx="133.8" cy="197.1" r="2.3"/><circle cx="146.7" cy="209.4" r="2.3"/><circle cx="159.9" cy="204.5" r="2.3"/><circle cx="77.8" cy="198.1" r="2.3"/><circle cx="139.6" cy="208" r="2.3"/><circle cx="115.8" cy="207.6" r="2.3"/><circle cx="177.7" cy="206.8" r="2.3"/><circle cx="107.5" cy="209.9" r="2.3"/><circle cx="118" cy="203" r="2.3"/><circle cx="184.7" cy="204.2" r="2.3"/><circle cx="191.7" cy="202.6" r="2.3"/><circle cx="138.6" cy="197.3" r="2.3"/><circle cx="86.5" cy="202.6" r="2.3"/><circle cx="164.8" cy="205.2" r="2.3"/><circle cx="131.4" cy="209.4" r="2.3"/><circle cx="101.3" cy="195" r="2.3"/><circle cx="136.6" cy="210.3" r="2.3"/><circle cx="80.1" cy="195" r="2.3"/><circle cx="193.8" cy="202.4" r="2.3"/><circle cx="179.5" cy="202.8" r="2.3"/><circle cx="114.6" cy="200.9" r="2.3"/><circle cx="145.8" cy="196.3" r="2.3"/><circle cx="187.5" cy="204" r="2.3"/><circle cx="108" cy="210.3" r="2.3"/><circle cx="158.5" cy="207.4" r="2.3"/><circle cx="159.6" cy="199" r="2.3"/><circle cx="217.1" cy="204.4" r="2.3"/><circle cx="155.9" cy="204" r="2.3"/><circle cx="92.5" cy="198.8" r="2.3"/><circle cx="180.9" cy="201.4" r="2.3"/><circle cx="184.9" cy="206.6" r="2.3"/><circle cx="141.9" cy="203.4" r="2.3"/><circle cx="88.5" cy="193.3" r="2.3"/><circle cx="155.4" cy="203.8" r="2.3"/><circle cx="145" cy="196.2" r="2.3"/><circle cx="83.4" cy="207.9" r="2.3"/><circle cx="135.5" cy="206" r="2.3"/><circle cx="95.1" cy="195.3" r="2.3"/><circle cx="211.7" cy="204.1" r="2.3"/><circle cx="153.9" cy="203" r="2.3"/><circle cx="110.7" cy="204" r="2.3"/><circle cx="212" cy="203.6" r="2.3"/><circle cx="159.6" cy="198.6" r="2.3"/><circle cx="108.7" cy="206.3" r="2.3"/><circle cx="95.3" cy="200" r="2.3"/><circle cx="116.3" cy="197.8" r="2.3"/><circle cx="189.9" cy="205.5" r="2.3"/><circle cx="87.2" cy="194.9" r="2.3"/><circle cx="161.3" cy="206.5" r="2.3"/><circle cx="207.4" cy="203.2" r="2.3"/><circle cx="87.5" cy="204.4" r="2.3"/><circle cx="82.7" cy="207.6" r="2.3"/><circle cx="92.8" cy="203.9" r="2.3"/><circle cx="139.8" cy="196.3" r="2.3"/><circle cx="105.8" cy="196.9" r="2.3"/><circle cx="82.3" cy="195.3" r="2.3"/><circle cx="149.6" cy="208.2" r="2.3"/><circle cx="113.5" cy="195.9" r="2.3"/><circle cx="82.6" cy="197.6" r="2.3"/><circle cx="85.7" cy="209.9" r="2.3"/><circle cx="120.8" cy="204" r="2.3"/><circle cx="123.7" cy="206.7" r="2.3"/><circle cx="196.2" cy="202.8" r="2.3"/><circle cx="173.7" cy="203.8" r="2.3"/><circle cx="119.8" cy="204.1" r="2.3"/><circle cx="144.8" cy="204.6" r="2.3"/><circle cx="90.9" cy="198.2" r="2.3"/><circle cx="141" cy="193.8" r="2.3"/><circle cx="191.8" cy="204.4" r="2.3"/><circle cx="91.2" cy="197" r="2.3"/><circle cx="138.2" cy="199.1" r="2.3"/><circle cx="94.2" cy="198.5" r="2.3"/><circle cx="184.6" cy="205.5" r="2.3"/><circle cx="108.9" cy="199.9" r="2.3"/><circle cx="110.9" cy="202.9" r="2.3"/><circle cx="116.8" cy="208.1" r="2.3"/><circle cx="181.1" cy="199.7" r="2.3"/><circle cx="131.1" cy="193.7" r="2.3"/><circle cx="94.7" cy="201.2" r="2.3"/><circle cx="164.7" cy="202.1" r="2.3"/><circle cx="147.8" cy="196.5" r="2.3"/><circle cx="187.6" cy="203.8" r="2.3"/><circle cx="177.6" cy="204.5" r="2.3"/><circle cx="183.1" cy="202.2" r="2.3"/><circle cx="146.3" cy="207.6" r="2.3"/><circle cx="199.5" cy="205.6" r="2.3"/><circle cx="133.3" cy="196.6" r="2.3"/><circle cx="162.8" cy="203.7" r="2.3"/><circle cx="187.1" cy="204.4" r="2.3"/><circle cx="212.9" cy="204" r="2.3"/><circle cx="87.2" cy="197.5" r="2.3"/><circle cx="148.5" cy="207.3" r="2.3"/><circle cx="157.8" cy="202.8" r="2.3"/><circle cx="77.3" cy="208" r="2.3"/><circle cx="140.6" cy="201.3" r="2.3"/><circle cx="128.6" cy="206.6" r="2.3"/><circle cx="135.5" cy="208.1" r="2.3"/><circle cx="116.7" cy="203.5" r="2.3"/><circle cx="206" cy="204.4" r="2.3"/><circle cx="181" cy="206.8" r="2.3"/><circle cx="133.5" cy="206.3" r="2.3"/><circle cx="114.2" cy="204" r="2.3"/><circle cx="116.7" cy="195.8" r="2.3"/><circle cx="162" cy="199" r="2.3"/><circle cx="147.8" cy="206.5" r="2.3"/><circle cx="123" cy="209.5" r="2.3"/><circle cx="183.9" cy="204.2" r="2.3"/><circle cx="100.5" cy="209.7" r="2.3"/><circle cx="156.5" cy="199.1" r="2.3"/><circle cx="172" cy="199" r="2.3"/><circle cx="137" cy="199.7" r="2.3"/><circle cx="154.8" cy="197.4" r="2.3"/><circle cx="97.3" cy="205.9" r="2.3"/><circle cx="122.8" cy="210" r="2.3"/><circle cx="172.3" cy="205" r="2.3"/><circle cx="193.4" cy="204.6" r="2.3"/><circle cx="78.7" cy="206.4" r="2.3"/><circle cx="152.6" cy="206.7" r="2.3"/><circle cx="129.2" cy="204.8" r="2.3"/><circle cx="96.6" cy="210" r="2.3"/><circle cx="153.6" cy="208.3" r="2.3"/><circle cx="156.8" cy="206.7" r="2.3"/><circle cx="95.2" cy="207" r="2.3"/><circle cx="168.8" cy="202.5" r="2.3"/><circle cx="112.7" cy="192" r="2.3"/><circle cx="151.4" cy="202.2" r="2.3"/><circle cx="159.5" cy="201.6" r="2.3"/><circle cx="156.6" cy="205.8" r="2.3"/><circle cx="144.2" cy="200.1" r="2.3"/><circle cx="194.2" cy="203.1" r="2.3"/><circle cx="182.2" cy="205.4" r="2.3"/><circle cx="164.2" cy="207.5" r="2.3"/><circle cx="159.4" cy="205.3" r="2.3"/><circle cx="116.8" cy="198.8" r="2.3"/><circle cx="106.6" cy="209.3" r="2.3"/><circle cx="171.5" cy="203" r="2.3"/><circle cx="138.6" cy="200.6" r="2.3"/><circle cx="118.5" cy="201.8" r="2.3"/><circle cx="187.6" cy="203" r="2.3"/><circle cx="152.5" cy="198.2" r="2.3"/><circle cx="185.8" cy="203.1" r="2.3"/><circle cx="81.1" cy="198.8" r="2.3"/><circle cx="102.2" cy="193.5" r="2.3"/><circle cx="152.1" cy="206.6" r="2.3"/><circle cx="168.7" cy="205.4" r="2.3"/><circle cx="103.2" cy="198.2" r="2.3"/><circle cx="148.3" cy="208.4" r="2.3"/><circle cx="180" cy="203" r="2.3"/><circle cx="178.1" cy="207.2" r="2.3"/><circle cx="210" cy="204" r="2.3"/><circle cx="131.5" cy="209.7" r="2.3"/><circle cx="122.9" cy="209.2" r="2.3"/><circle cx="143.4" cy="202.7" r="2.3"/><circle cx="90.2" cy="203.3" r="2.3"/><circle cx="179.1" cy="205.2" r="2.3"/><circle cx="122.2" cy="199.8" r="2.3"/><circle cx="98.1" cy="194.8" r="2.3"/><circle cx="112.1" cy="204.3" r="2.3"/><circle cx="161.8" cy="203.2" r="2.3"/><circle cx="159.1" cy="197.4" r="2.3"/><circle cx="140" cy="201.9" r="2.3"/><circle cx="175.4" cy="204" r="2.3"/><circle cx="119.5" cy="195.8" r="2.3"/><circle cx="173.2" cy="199.1" r="2.3"/><circle cx="129.8" cy="209.4" r="2.3"/><circle cx="202" cy="205.6" r="2.3"/><circle cx="188.3" cy="202.6" r="2.3"/><circle cx="174.4" cy="200.2" r="2.3"/><circle cx="190.6" cy="202.7" r="2.3"/><circle cx="82.2" cy="201.2" r="2.3"/><circle cx="182.1" cy="202.4" r="2.3"/><circle cx="97.8" cy="202.6" r="2.3"/><circle cx="90.3" cy="205.8" r="2.3"/><circle cx="113.4" cy="196.8" r="2.3"/><circle cx="193.6" cy="205.5" r="2.3"/><circle cx="160.5" cy="200.2" r="2.3"/><circle cx="143.8" cy="208.8" r="2.3"/><circle cx="120.4" cy="198.4" r="2.3"/><circle cx="162.3" cy="197.9" r="2.3"/><circle cx="156.6" cy="203.1" r="2.3"/><circle cx="198.7" cy="203.5" r="2.3"/><circle cx="158.8" cy="200.5" r="2.3"/><circle cx="178.8" cy="206.7" r="2.3"/><circle cx="100.5" cy="205.7" r="2.3"/><circle cx="155.4" cy="205" r="2.3"/><circle cx="82.6" cy="199.7" r="2.3"/><circle cx="84.9" cy="196.4" r="2.3"/><circle cx="156.1" cy="208.1" r="2.3"/><circle cx="143.3" cy="208.2" r="2.3"/><circle cx="80.5" cy="197.1" r="2.3"/><circle cx="94.2" cy="202.9" r="2.3"/><circle cx="108.8" cy="206.2" r="2.3"/><circle cx="145.5" cy="205.5" r="2.3"/><circle cx="190.6" cy="205.4" r="2.3"/><circle cx="172.5" cy="206.1" r="2.3"/><circle cx="183.4" cy="200.9" r="2.3"/><circle cx="123.3" cy="195.3" r="2.3"/><circle cx="182.2" cy="205.6" r="2.3"/><circle cx="130.4" cy="208.5" r="2.3"/><circle cx="182.9" cy="206.1" r="2.3"/><circle cx="198.4" cy="204" r="2.3"/><circle cx="90.8" cy="209" r="2.3"/><circle cx="148" cy="203.5" r="2.3"/><circle cx="101.9" cy="200.5" r="2.3"/><circle cx="174.7" cy="203.8" r="2.3"/><circle cx="158.2" cy="206.5" r="2.3"/><circle cx="96.3" cy="200.2" r="2.3"/><circle cx="170.1" cy="199.2" r="2.3"/><circle cx="146.4" cy="203.1" r="2.3"/><circle cx="108.3" cy="205.2" r="2.3"/><circle cx="136.1" cy="205.2" r="2.3"/><circle cx="196.6" cy="204.3" r="2.3"/><circle cx="144.5" cy="199.7" r="2.3"/><circle cx="108.6" cy="209.5" r="2.3"/><circle cx="134.8" cy="205.2" r="2.3"/><circle cx="177.9" cy="206.2" r="2.3"/><circle cx="119.6" cy="196.2" r="2.3"/><circle cx="186.1" cy="204.6" r="2.3"/><circle cx="150.9" cy="207.5" r="2.3"/><circle cx="196.8" cy="203.7" r="2.3"/><circle cx="161.4" cy="200.6" r="2.3"/><circle cx="138.2" cy="210.3" r="2.3"/><circle cx="170" cy="200.8" r="2.3"/><circle cx="186.2" cy="206.3" r="2.3"/><circle cx="111.1" cy="202.6" r="2.3"/><circle cx="158.1" cy="204.3" r="2.3"/><circle cx="91.7" cy="193.3" r="2.3"/><circle cx="103.1" cy="209.4" r="2.3"/><circle cx="97.8" cy="206" r="2.3"/><circle cx="190.1" cy="198.9" r="2.3"/><circle cx="90.2" cy="197.1" r="2.3"/><circle cx="175.9" cy="205.2" r="2.3"/><circle cx="142.4" cy="206.1" r="2.3"/><circle cx="83.2" cy="196.3" r="2.3"/><circle cx="121" cy="199.7" r="2.3"/><circle cx="161" cy="205.5" r="2.3"/><circle cx="108.4" cy="203.4" r="2.3"/><circle cx="115.5" cy="203" r="2.3"/><circle cx="89" cy="209.5" r="2.3"/><circle cx="91.7" cy="194.8" r="2.3"/><circle cx="164.2" cy="205.6" r="2.3"/><circle cx="140.4" cy="199.2" r="2.3"/><circle cx="170.7" cy="198.9" r="2.3"/><circle cx="108" cy="197" r="2.3"/><circle cx="167.3" cy="205.8" r="2.3"/><circle cx="199.4" cy="204" r="2.3"/><circle cx="148.9" cy="200.9" r="2.3"/><circle cx="113.2" cy="206.1" r="2.3"/><circle cx="106.1" cy="209.3" r="2.3"/><circle cx="160.5" cy="198.1" r="2.3"/><circle cx="148.1" cy="203.1" r="2.3"/><circle cx="92.5" cy="203" r="2.3"/><circle cx="193" cy="203.7" r="2.3"/><circle cx="118.6" cy="202.7" r="2.3"/><circle cx="149.3" cy="197.5" r="2.3"/><circle cx="125.6" cy="199.8" r="2.3"/><circle cx="164.1" cy="195.9" r="2.3"/><circle cx="198.8" cy="205.1" r="2.3"/><circle cx="175.2" cy="197.6" r="2.3"/><circle cx="133.5" cy="208.3" r="2.3"/><circle cx="180.8" cy="202.4" r="2.3"/><circle cx="107.5" cy="197.9" r="2.3"/><circle cx="113" cy="208.2" r="2.3"/><circle cx="88.8" cy="208.6" r="2.3"/><circle cx="194.9" cy="205.1" r="2.3"/><circle cx="178.7" cy="200.9" r="2.3"/><circle cx="140.1" cy="205.6" r="2.3"/><circle cx="183.1" cy="202.1" r="2.3"/><circle cx="98.5" cy="201.2" r="2.3"/><circle cx="145.8" cy="203.1" r="2.3"/><circle cx="111.2" cy="200.8" r="2.3"/><circle cx="213.8" cy="203.9" r="2.3"/><circle cx="142.1" cy="199.7" r="2.3"/><circle cx="188.9" cy="203.1" r="2.3"/><circle cx="159.3" cy="206.9" r="2.3"/><circle cx="174.6" cy="206" r="2.3"/><circle cx="114" cy="196.4" r="2.3"/><circle cx="163.7" cy="197.8" r="2.3"/><circle cx="123.1" cy="209.1" r="2.3"/><circle cx="171.6" cy="207" r="2.3"/><circle cx="124.7" cy="198" r="2.3"/><circle cx="154.3" cy="206.4" r="2.3"/><circle cx="126.6" cy="204" r="2.3"/><circle cx="118.4" cy="207.3" r="2.3"/><circle cx="112.9" cy="210.1" r="2.3"/><circle cx="102" cy="205.9" r="2.3"/><circle cx="177.8" cy="204.9" r="2.3"/><circle cx="133.4" cy="196.3" r="2.3"/><circle cx="153.8" cy="203.5" r="2.3"/><circle cx="166.3" cy="207.6" r="2.3"/><circle cx="101" cy="206.7" r="2.3"/><circle cx="142.2" cy="201.7" r="2.3"/><circle cx="175.2" cy="201.4" r="2.3"/><circle cx="105.4" cy="203.3" r="2.3"/><circle cx="144.4" cy="200.1" r="2.3"/><circle cx="123.4" cy="207" r="2.3"/><circle cx="184.3" cy="205.6" r="2.3"/><circle cx="149.2" cy="201.9" r="2.3"/><circle cx="132.6" cy="203" r="2.3"/><circle cx="177.4" cy="202.5" r="2.3"/><circle cx="131.8" cy="207.1" r="2.3"/><circle cx="144.4" cy="209" r="2.3"/><circle cx="187.7" cy="203.7" r="2.3"/><circle cx="201.4" cy="203.4" r="2.3"/><circle cx="215.2" cy="205.1" r="2.3"/><circle cx="163.7" cy="200.3" r="2.3"/><circle cx="158.5" cy="206.5" r="2.3"/><circle cx="104.3" cy="208.9" r="2.3"/><circle cx="89.5" cy="195.1" r="2.3"/><circle cx="134.2" cy="209.7" r="2.3"/><circle cx="131.2" cy="202.9" r="2.3"/><circle cx="88.8" cy="204.9" r="2.3"/><circle cx="128.3" cy="202.6" r="2.3"/><circle cx="83.7" cy="198.6" r="2.3"/><circle cx="166.3" cy="202.3" r="2.3"/><circle cx="161.3" cy="197.8" r="2.3"/><circle cx="120" cy="200.8" r="2.3"/><circle cx="174.6" cy="201.5" r="2.3"/><circle cx="190" cy="202.7" r="2.3"/><circle cx="127.2" cy="209.7" r="2.3"/><circle cx="119" cy="196.1" r="2.3"/><circle cx="134.9" cy="204.7" r="2.3"/><circle cx="195.6" cy="203.3" r="2.3"/><circle cx="128.3" cy="195.1" r="2.3"/><circle cx="80.3" cy="204.5" r="2.3"/><circle cx="188.3" cy="206.3" r="2.3"/><circle cx="182.4" cy="203" r="2.3"/><circle cx="125.5" cy="197" r="2.3"/><circle cx="166.6" cy="198.8" r="2.3"/><circle cx="82.6" cy="207.2" r="2.3"/><circle cx="126.2" cy="198.9" r="2.3"/><circle cx="105.7" cy="208.2" r="2.3"/><circle cx="159.4" cy="200.5" r="2.3"/><circle cx="79.9" cy="204.5" r="2.3"/><circle cx="105.9" cy="205.8" r="2.3"/><circle cx="145.2" cy="201.2" r="2.3"/><circle cx="86.3" cy="208.3" r="2.3"/><circle cx="204.2" cy="203.4" r="2.3"/><circle cx="154.2" cy="209.1" r="2.3"/><circle cx="167.5" cy="205.9" r="2.3"/><circle cx="145.8" cy="194.9" r="2.3"/><circle cx="84.4" cy="198.1" r="2.3"/><circle cx="145.4" cy="204.1" r="2.3"/><circle cx="169.7" cy="206.1" r="2.3"/><circle cx="137" cy="196.6" r="2.3"/><circle cx="89.4" cy="208.8" r="2.3"/><circle cx="184.6" cy="204.6" r="2.3"/><circle cx="91.5" cy="201.5" r="2.3"/><circle cx="124" cy="205.2" r="2.3"/><circle cx="203.9" cy="204.4" r="2.3"/><circle cx="130" cy="200.5" r="2.3"/><circle cx="128.8" cy="199.5" r="2.3"/><circle cx="165.9" cy="204.3" r="2.3"/><circle cx="193.8" cy="204.2" r="2.3"/><circle cx="150.3" cy="201.9" r="2.3"/><circle cx="104.7" cy="205.2" r="2.3"/><circle cx="151.3" cy="207.5" r="2.3"/><circle cx="116.3" cy="206.3" r="2.3"/><circle cx="112.1" cy="200.2" r="2.3"/><circle cx="117.6" cy="208.9" r="2.3"/><circle cx="160.1" cy="200" r="2.3"/><circle cx="174.7" cy="200" r="2.3"/><circle cx="178.7" cy="205.1" r="2.3"/><circle cx="98" cy="205.4" r="2.3"/><circle cx="164.4" cy="207" r="2.3"/><circle cx="157.9" cy="202.2" r="2.3"/><circle cx="153" cy="204" r="2.3"/><circle cx="186.5" cy="206.5" r="2.3"/><circle cx="205.8" cy="205.2" r="2.3"/><circle cx="158.8" cy="201.4" r="2.3"/><circle cx="172.8" cy="204.4" r="2.3"/><circle cx="135.6" cy="205.9" r="2.3"/><circle cx="174.7" cy="204.3" r="2.3"/><circle cx="117.9" cy="206.6" r="2.3"/><circle cx="156.7" cy="199.6" r="2.3"/><circle cx="151.8" cy="202.5" r="2.3"/><circle cx="193.3" cy="204.4" r="2.3"/><circle cx="90.4" cy="197.7" r="2.3"/><circle cx="163.3" cy="200.7" r="2.3"/><circle cx="183.8" cy="201.8" r="2.3"/><circle cx="192.6" cy="202.4" r="2.3"/><circle cx="179.5" cy="197.6" r="2.3"/><circle cx="193.7" cy="203" r="2.3"/><circle cx="158.8" cy="204.7" r="2.3"/><circle cx="182.3" cy="203.4" r="2.3"/><circle cx="165.4" cy="204.4" r="2.3"/><circle cx="109" cy="196.7" r="2.3"/><circle cx="139.6" cy="210.1" r="2.3"/><circle cx="85.4" cy="198.6" r="2.3"/><circle cx="84.8" cy="208.4" r="2.3"/><circle cx="201.6" cy="203.7" r="2.3"/><circle cx="137.5" cy="195.7" r="2.3"/><circle cx="185.1" cy="203.7" r="2.3"/><circle cx="154.2" cy="197" r="2.3"/><circle cx="143.5" cy="200.7" r="2.3"/><circle cx="100.4" cy="204.6" r="2.3"/><circle cx="157.4" cy="203.2" r="2.3"/><circle cx="208.5" cy="205.3" r="2.3"/><circle cx="168.3" cy="202" r="2.3"/><circle cx="104.4" cy="205" r="2.3"/><circle cx="146.7" cy="202.2" r="2.3"/><circle cx="116.8" cy="204.4" r="2.3"/><circle cx="132.9" cy="202" r="2.3"/><circle cx="134.5" cy="202" r="2.3"/><circle cx="124.9" cy="194" r="2.3"/><circle cx="192.2" cy="200.5" r="2.3"/><circle cx="112.2" cy="206.9" r="2.3"/><circle cx="84.9" cy="199.8" r="2.3"/><circle cx="194.8" cy="203.1" r="2.3"/><circle cx="129.2" cy="200.2" r="2.3"/><circle cx="87" cy="204.9" r="2.3"/><circle cx="202.8" cy="205.2" r="2.3"/><circle cx="118.9" cy="204.7" r="2.3"/><circle cx="193.9" cy="203.5" r="2.3"/><circle cx="94" cy="209.6" r="2.3"/><circle cx="164.9" cy="204.5" r="2.3"/><circle cx="176.8" cy="201.1" r="2.3"/><circle cx="215.5" cy="203.6" r="2.3"/><circle cx="136.9" cy="207.3" r="2.3"/><circle cx="118.5" cy="203.4" r="2.3"/><circle cx="110.1" cy="195.4" r="2.3"/><circle cx="129.3" cy="207.5" r="2.3"/><circle cx="141.8" cy="201.7" r="2.3"/><circle cx="122.9" cy="194.5" r="2.3"/><circle cx="117.5" cy="210.5" r="2.3"/><circle cx="203.2" cy="205.5" r="2.3"/><circle cx="138.3" cy="198.3" r="2.3"/><circle cx="145" cy="206.4" r="2.3"/><circle cx="177.6" cy="203.7" r="2.3"/><circle cx="163" cy="198.8" r="2.3"/><circle cx="155" cy="205.3" r="2.3"/><circle cx="136.9" cy="199.7" r="2.3"/><circle cx="170.1" cy="207.3" r="2.3"/><circle cx="124.2" cy="196" r="2.3"/><circle cx="203.4" cy="200.4" r="2.3"/><circle cx="103.1" cy="207.1" r="2.3"/><circle cx="80.5" cy="196.9" r="2.3"/><circle cx="85.6" cy="207.5" r="2.3"/><circle cx="209" cy="203.5" r="2.3"/><circle cx="105.7" cy="207.7" r="2.3"/><circle cx="110.6" cy="206.4" r="2.3"/><circle cx="125.1" cy="198.4" r="2.3"/><circle cx="105" cy="198.9" r="2.3"/><circle cx="183.5" cy="202.9" r="2.3"/><circle cx="153.4" cy="201.4" r="2.3"/><circle cx="93.3" cy="202.3" r="2.3"/><circle cx="154.7" cy="205.4" r="2.3"/><circle cx="183.6" cy="202.2" r="2.3"/><circle cx="155.2" cy="199.3" r="2.3"/><circle cx="188.8" cy="206.3" r="2.3"/><circle cx="121.3" cy="210.3" r="2.3"/><circle cx="87.1" cy="199.8" r="2.3"/><circle cx="153.7" cy="198" r="2.3"/><circle cx="78.8" cy="206.1" r="2.3"/><circle cx="174.6" cy="206.1" r="2.3"/><circle cx="210.1" cy="204.8" r="2.3"/><circle cx="136.4" cy="208.3" r="2.3"/><circle cx="198.8" cy="205.2" r="2.3"/><circle cx="178.9" cy="205.3" r="2.3"/><circle cx="153.8" cy="208.6" r="2.3"/><circle cx="150.5" cy="200.7" r="2.3"/><circle cx="176.8" cy="201.4" r="2.3"/><circle cx="160.5" cy="204.8" r="2.3"/><circle cx="164.9" cy="205.5" r="2.3"/><circle cx="137.9" cy="206.1" r="2.3"/><circle cx="80" cy="197.5" r="2.3"/><circle cx="160" cy="203.2" r="2.3"/><circle cx="198.5" cy="203.9" r="2.3"/><circle cx="117.9" cy="204" r="2.3"/><circle cx="157.6" cy="208.7" r="2.3"/><circle cx="80.4" cy="200.8" r="2.3"/><circle cx="157" cy="207.9" r="2.3"/><circle cx="178.9" cy="200.6" r="2.3"/><circle cx="87.8" cy="200.9" r="2.3"/><circle cx="124.9" cy="195.6" r="2.3"/><circle cx="154.7" cy="205.7" r="2.3"/><circle cx="151.6" cy="201.6" r="2.3"/><circle cx="177.1" cy="205.2" r="2.3"/><circle cx="101.9" cy="195.2" r="2.3"/><circle cx="177.7" cy="201.1" r="2.3"/><circle cx="125.4" cy="199.9" r="2.3"/><circle cx="176.2" cy="203" r="2.3"/><circle cx="178.8" cy="206.9" r="2.3"/><circle cx="90.3" cy="195" r="2.3"/><circle cx="102.7" cy="199.2" r="2.3"/><circle cx="144.5" cy="196" r="2.3"/><circle cx="186.4" cy="206" r="2.3"/><circle cx="104" cy="205.2" r="2.3"/><circle cx="170.5" cy="205" r="2.3"/><circle cx="154.8" cy="200.8" r="2.3"/><circle cx="175.5" cy="206.8" r="2.3"/><circle cx="143.2" cy="196.8" r="2.3"/><circle cx="88.4" cy="199" r="2.3"/><circle cx="116.3" cy="205.2" r="2.3"/><circle cx="108.3" cy="206.2" r="2.3"/><circle cx="200.5" cy="203.3" r="2.3"/><circle cx="203.4" cy="203.9" r="2.3"/><circle cx="153.6" cy="198.2" r="2.3"/><circle cx="154.6" cy="199.5" r="2.3"/><circle cx="124.7" cy="207.3" r="2.3"/><circle cx="118.4" cy="203.3" r="2.3"/><circle cx="179" cy="197.7" r="2.3"/><circle cx="150.1" cy="208.2" r="2.3"/><circle cx="189.5" cy="204.6" r="2.3"/><circle cx="189.3" cy="204.8" r="2.3"/><circle cx="199.1" cy="202.8" r="2.3"/><circle cx="104.3" cy="204.7" r="2.3"/><circle cx="145.9" cy="201.2" r="2.3"/><circle cx="145.3" cy="199.1" r="2.3"/><circle cx="186.1" cy="202.7" r="2.3"/><circle cx="126" cy="204.9" r="2.3"/><circle cx="158.6" cy="196" r="2.3"/><circle cx="193.5" cy="203.7" r="2.3"/><circle cx="138.2" cy="207.5" r="2.3"/><circle cx="156.6" cy="206.3" r="2.3"/><circle cx="126.7" cy="203.7" r="2.3"/><circle cx="75.3" cy="198.3" r="2.3"/><circle cx="143.3" cy="205.3" r="2.3"/><circle cx="78" cy="209.2" r="2.3"/><circle cx="94.1" cy="208.7" r="2.3"/><circle cx="169.3" cy="200.6" r="2.3"/><circle cx="83.7" cy="207.6" r="2.3"/><circle cx="181.2" cy="201" r="2.3"/><circle cx="144.8" cy="205.6" r="2.3"/><circle cx="146.5" cy="197.9" r="2.3"/><circle cx="110.7" cy="202.1" r="2.3"/><circle cx="81.2" cy="200.7" r="2.3"/><circle cx="171" cy="204.2" r="2.3"/><circle cx="123.9" cy="210.2" r="2.3"/><circle cx="106.7" cy="209.3" r="2.3"/><circle cx="192.9" cy="204.5" r="2.3"/><circle cx="115.2" cy="203.1" r="2.3"/><circle cx="118.6" cy="198.1" r="2.3"/><circle cx="185.3" cy="201.2" r="2.3"/><circle cx="90.2" cy="205.9" r="2.3"/><circle cx="208.4" cy="204.3" r="2.3"/><circle cx="116.6" cy="203" r="2.3"/><circle cx="182.4" cy="197.9" r="2.3"/><circle cx="155.2" cy="199.5" r="2.3"/><circle cx="108.6" cy="204.7" r="2.3"/><circle cx="165.2" cy="195.8" r="2.3"/><circle cx="146.1" cy="203.6" r="2.3"/><circle cx="88.3" cy="192.5" r="2.3"/><circle cx="89.9" cy="193.1" r="2.3"/><circle cx="150" cy="208.1" r="2.3"/><circle cx="193.2" cy="206" r="2.3"/><circle cx="182" cy="201.7" r="2.3"/><circle cx="133.3" cy="201.8" r="2.3"/><circle cx="162.6" cy="204.7" r="2.3"/><circle cx="84.8" cy="195.4" r="2.3"/><circle cx="93.1" cy="197.7" r="2.3"/><circle cx="172.1" cy="204.6" r="2.3"/><circle cx="147.9" cy="205.2" r="2.3"/><circle cx="100.4" cy="206.3" r="2.3"/><circle cx="80" cy="199.2" r="2.3"/><circle cx="168.5" cy="198.9" r="2.3"/><circle cx="80.7" cy="196.3" r="2.3"/><circle cx="119.7" cy="209.7" r="2.3"/><circle cx="154.4" cy="197.6" r="2.3"/><circle cx="180.8" cy="201" r="2.3"/><circle cx="185.6" cy="203.7" r="2.3"/><circle cx="121.5" cy="194.4" r="2.3"/><circle cx="139.6" cy="204.5" r="2.3"/><circle cx="180.1" cy="205.8" r="2.3"/><circle cx="128.6" cy="203.1" r="2.3"/><circle cx="179.3" cy="201.2" r="2.3"/><circle cx="126.9" cy="204.6" r="2.3"/><circle cx="95.5" cy="200.4" r="2.3"/><circle cx="125.3" cy="208.8" r="2.3"/><circle cx="189.6" cy="203.6" r="2.3"/><circle cx="113.2" cy="209.6" r="2.3"/><circle cx="207.6" cy="204.4" r="2.3"/><circle cx="125.1" cy="198.6" r="2.3"/><circle cx="186.9" cy="202.8" r="2.3"/><circle cx="117.1" cy="207.4" r="2.3"/><circle cx="167.1" cy="205.4" r="2.3"/><circle cx="168.4" cy="202.4" r="2.3"/><circle cx="186" cy="201.6" r="2.3"/><circle cx="195.3" cy="202.9" r="2.3"/><circle cx="139.8" cy="195.7" r="2.3"/><circle cx="203.2" cy="203.3" r="2.3"/><circle cx="165.2" cy="201" r="2.3"/><circle cx="187.2" cy="204.6" r="2.3"/><circle cx="177.2" cy="207.4" r="2.3"/><circle cx="169.2" cy="202.8" r="2.3"/><circle cx="96.3" cy="193.8" r="2.3"/><circle cx="198.2" cy="203.2" r="2.3"/><circle cx="76.8" cy="199" r="2.3"/><circle cx="174.2" cy="206.1" r="2.3"/><circle cx="184.2" cy="205.2" r="2.3"/><circle cx="98.2" cy="206.2" r="2.3"/><circle cx="159.9" cy="201.5" r="2.3"/><circle cx="102.2" cy="200.6" r="2.3"/><circle cx="108.7" cy="202.2" r="2.3"/><circle cx="116.8" cy="204.9" r="2.3"/><circle cx="102" cy="194.7" r="2.3"/><circle cx="202.8" cy="204.6" r="2.3"/><circle cx="98.1" cy="196.3" r="2.3"/><circle cx="154.5" cy="199.8" r="2.3"/><circle cx="95.4" cy="205.8" r="2.3"/><circle cx="178.9" cy="201.5" r="2.3"/><circle cx="149.9" cy="196.1" r="2.3"/><circle cx="162.4" cy="205.7" r="2.3"/><circle cx="84.1" cy="204.1" r="2.3"/><circle cx="140.5" cy="209.1" r="2.3"/><circle cx="152.7" cy="199.2" r="2.3"/><circle cx="166.1" cy="200.9" r="2.3"/><circle cx="174.1" cy="202.3" r="2.3"/><circle cx="125.5" cy="205.9" r="2.3"/><circle cx="84" cy="201.9" r="2.3"/><circle cx="157.3" cy="208.3" r="2.3"/><circle cx="87.2" cy="199.4" r="2.3"/><circle cx="97.9" cy="203" r="2.3"/><circle cx="156.4" cy="205.8" r="2.3"/><circle cx="137.3" cy="197" r="2.3"/><circle cx="106.2" cy="209.5" r="2.3"/><circle cx="167.9" cy="199.1" r="2.3"/><circle cx="159.2" cy="204.9" r="2.3"/><circle cx="188.6" cy="205.1" r="2.3"/><circle cx="182.6" cy="206.4" r="2.3"/><circle cx="121.9" cy="205.7" r="2.3"/><circle cx="115.2" cy="197.4" r="2.3"/><circle cx="196.4" cy="202.8" r="2.3"/><circle cx="207.9" cy="203.1" r="2.3"/><circle cx="156.2" cy="199.9" r="2.3"/><circle cx="155.9" cy="203.4" r="2.3"/><circle cx="209.9" cy="203.4" r="2.3"/><circle cx="143.3" cy="196.7" r="2.3"/><circle cx="192.4" cy="203.2" r="2.3"/><circle cx="110.8" cy="202.4" r="2.3"/><circle cx="154.1" cy="197.7" r="2.3"/><circle cx="133.1" cy="199.5" r="2.3"/><circle cx="203.5" cy="204.9" r="2.3"/><circle cx="123.4" cy="207.1" r="2.3"/><circle cx="151.6" cy="201.6" r="2.3"/><circle cx="90.5" cy="204" r="2.3"/><circle cx="188.8" cy="205.9" r="2.3"/><circle cx="166.2" cy="205.7" r="2.3"/><circle cx="99.7" cy="207.5" r="2.3"/><circle cx="205.3" cy="204.5" r="2.3"/><circle cx="75.5" cy="196.2" r="2.3"/><circle cx="169.3" cy="201.6" r="2.3"/><circle cx="178.7" cy="206.4" r="2.3"/><circle cx="88.2" cy="207.2" r="2.3"/><circle cx="148.3" cy="196.2" r="2.3"/><circle cx="197.6" cy="203.9" r="2.3"/><circle cx="175.5" cy="204.6" r="2.3"/><circle cx="134.3" cy="206.3" r="2.3"/><circle cx="145.5" cy="209.7" r="2.3"/><circle cx="87.8" cy="193.3" r="2.3"/><circle cx="163.4" cy="205.8" r="2.3"/><circle cx="116.5" cy="194.9" r="2.3"/><circle cx="203.9" cy="202.9" r="2.3"/><circle cx="180.3" cy="201.7" r="2.3"/><circle cx="121.7" cy="205.3" r="2.3"/><circle cx="119.4" cy="204.2" r="2.3"/><circle cx="155.4" cy="208.4" r="2.3"/><circle cx="204.3" cy="205.3" r="2.3"/><circle cx="122.5" cy="195.9" r="2.3"/><circle cx="197.7" cy="204" r="2.3"/><circle cx="157.3" cy="199.3" r="2.3"/><circle cx="171.8" cy="205.9" r="2.3"/><circle cx="172.8" cy="199.8" r="2.3"/><circle cx="176.4" cy="201.3" r="2.3"/><circle cx="149.7" cy="201.3" r="2.3"/><circle cx="189.2" cy="202.3" r="2.3"/><circle cx="197.6" cy="203.5" r="2.3"/><circle cx="192.2" cy="205.7" r="2.3"/><circle cx="117.8" cy="205.8" r="2.3"/><circle cx="184.8" cy="204" r="2.3"/><circle cx="107.8" cy="200.9" r="2.3"/><circle cx="91.4" cy="200.2" r="2.3"/><circle cx="165.4" cy="204.5" r="2.3"/><circle cx="141.9" cy="205" r="2.3"/><circle cx="175.2" cy="203.1" r="2.3"/><circle cx="178.4" cy="202.8" r="2.3"/><circle cx="106.6" cy="199.9" r="2.3"/><circle cx="171.3" cy="200.4" r="2.3"/><circle cx="128.2" cy="194.7" r="2.3"/><circle cx="129.6" cy="210.5" r="2.3"/><circle cx="127.9" cy="209.8" r="2.3"/><circle cx="128.5" cy="195.4" r="2.3"/><circle cx="120.5" cy="210.3" r="2.3"/><circle cx="155.6" cy="208" r="2.3"/><circle cx="176.4" cy="204.1" r="2.3"/><circle cx="111.3" cy="208.1" r="2.3"/><circle cx="146.9" cy="201.5" r="2.3"/><circle cx="76.7" cy="204.1" r="2.3"/><circle cx="158.4" cy="198.6" r="2.3"/><circle cx="132.7" cy="206.7" r="2.3"/><circle cx="208.1" cy="204.1" r="2.3"/><circle cx="184.5" cy="205.2" r="2.3"/><circle cx="191.5" cy="205.5" r="2.3"/><circle cx="189.4" cy="202.3" r="2.3"/><circle cx="138.9" cy="207.2" r="2.3"/><circle cx="153.2" cy="207.1" r="2.3"/><circle cx="174.9" cy="205.9" r="2.3"/><circle cx="123.9" cy="195.7" r="2.3"/><circle cx="128.1" cy="202.4" r="2.3"/><circle cx="89.4" cy="199.5" r="2.3"/><circle cx="159.5" cy="200.5" r="2.3"/><circle cx="95.8" cy="209.6" r="2.3"/><circle cx="142.4" cy="195.7" r="2.3"/><circle cx="177.1" cy="201.7" r="2.3"/><circle cx="155.5" cy="204.3" r="2.3"/><circle cx="105.4" cy="197.9" r="2.3"/><circle cx="100.7" cy="198" r="2.3"/><circle cx="81.7" cy="192.3" r="2.3"/><circle cx="119.7" cy="204.2" r="2.3"/><circle cx="111.2" cy="203.3" r="2.3"/><circle cx="137.6" cy="198.9" r="2.3"/><circle cx="129.2" cy="195.4" r="2.3"/><circle cx="97.7" cy="206.6" r="2.3"/><circle cx="161.5" cy="207" r="2.3"/><circle cx="99.4" cy="205.8" r="2.3"/><circle cx="101.2" cy="202.3" r="2.3"/><circle cx="180.7" cy="203.4" r="2.3"/><circle cx="177.4" cy="201.6" r="2.3"/><circle cx="184.6" cy="205.6" r="2.3"/><circle cx="189.1" cy="205.5" r="2.3"/><circle cx="165.4" cy="205.3" r="2.3"/><circle cx="170.6" cy="206.1" r="2.3"/><circle cx="196.8" cy="205.6" r="2.3"/><circle cx="150.1" cy="199.5" r="2.3"/><circle cx="175.9" cy="201.9" r="2.3"/><circle cx="135.2" cy="199.5" r="2.3"/><circle cx="145.2" cy="199.6" r="2.3"/><circle cx="198" cy="205.6" r="2.3"/><circle cx="171.6" cy="199.3" r="2.3"/><circle cx="138" cy="209.1" r="2.3"/><circle cx="185.2" cy="202.4" r="2.3"/><circle cx="135.6" cy="205.4" r="2.3"/><circle cx="137.4" cy="202.3" r="2.3"/><circle cx="180.9" cy="198.9" r="2.3"/><circle cx="128.2" cy="204.1" r="2.3"/><circle cx="143.8" cy="207.4" r="2.3"/><circle cx="142" cy="201.6" r="2.3"/><circle cx="161.8" cy="205.4" r="2.3"/><circle cx="83.6" cy="199.7" r="2.3"/><circle cx="197.3" cy="200.2" r="2.3"/><circle cx="153.4" cy="205.4" r="2.3"/><circle cx="128.9" cy="205.5" r="2.3"/><circle cx="102.1" cy="197.2" r="2.3"/><circle cx="120.4" cy="206.4" r="2.3"/><circle cx="96.5" cy="192.4" r="2.3"/><circle cx="100.4" cy="200.4" r="2.3"/><circle cx="166.8" cy="204.2" r="2.3"/><circle cx="122.6" cy="210" r="2.3"/><circle cx="191.9" cy="205.9" r="2.3"/><circle cx="149.9" cy="208.1" r="2.3"/><circle cx="82.4" cy="206.4" r="2.3"/><circle cx="138.4" cy="198" r="2.3"/><circle cx="127.9" cy="202.1" r="2.3"/><circle cx="200.1" cy="203.7" r="2.3"/><circle cx="180.1" cy="202.5" r="2.3"/><circle cx="90.5" cy="209.8" r="2.3"/><circle cx="163.4" cy="199.5" r="2.3"/><circle cx="100.7" cy="210.2" r="2.3"/><circle cx="161.9" cy="197.6" r="2.3"/><circle cx="143.7" cy="207.9" r="2.3"/><circle cx="94.6" cy="194.6" r="2.3"/><circle cx="133.8" cy="203.2" r="2.3"/><circle cx="162.9" cy="202.3" r="2.3"/><circle cx="175.9" cy="205.8" r="2.3"/><circle cx="160.1" cy="199.5" r="2.3"/><circle cx="142.1" cy="194.2" r="2.3"/><circle cx="99.5" cy="200.7" r="2.3"/><circle cx="115.7" cy="198.5" r="2.3"/><circle cx="100.4" cy="201.3" r="2.3"/><circle cx="95.1" cy="205.8" r="2.3"/><circle cx="91.2" cy="198.7" r="2.3"/><circle cx="164.7" cy="205.5" r="2.3"/><circle cx="86.7" cy="196.1" r="2.3"/><circle cx="207.3" cy="204.8" r="2.3"/><circle cx="99.6" cy="204.2" r="2.3"/><circle cx="180.1" cy="205" r="2.3"/><circle cx="154.4" cy="201.9" r="2.3"/><circle cx="132.2" cy="198.5" r="2.3"/><circle cx="91.3" cy="195.4" r="2.3"/><circle cx="85.3" cy="196.7" r="2.3"/><circle cx="218.3" cy="203.8" r="2.3"/><circle cx="152.4" cy="208.2" r="2.3"/><circle cx="81.5" cy="204.1" r="2.3"/><circle cx="163.8" cy="199.5" r="2.3"/><circle cx="99.3" cy="198.8" r="2.3"/><circle cx="87.5" cy="207.1" r="2.3"/><circle cx="94.3" cy="209.7" r="2.3"/><circle cx="129.3" cy="210.3" r="2.3"/><circle cx="145.8" cy="204.2" r="2.3"/><circle cx="195" cy="202.5" r="2.3"/><circle cx="159.4" cy="207.4" r="2.3"/><circle cx="141.9" cy="208.1" r="2.3"/><circle cx="147.4" cy="208.7" r="2.3"/><circle cx="186.1" cy="205.7" r="2.3"/><circle cx="111" cy="202.6" r="2.3"/><circle cx="203" cy="202" r="2.3"/><circle cx="209" cy="204" r="2.3"/><circle cx="214" cy="204" r="2.3"/><circle cx="222.8" cy="205.2" r="2.3"/><circle cx="232" cy="204.5" r="2.3"/><circle cx="244.5" cy="203.6" r="2.3"/><circle cx="256.7" cy="203.6" r="2.3"/></g><path d="M55.5 189V195M75 189V195M82.5 189.5V195.5M93 190V196M92 194V200M78.5 208V214M68 212V218M88 221V225M98 207V213M100 206V212M104 191V197M104 194V200M105.5 189.5V195.5M110.5 191V197M116 194V200M120.5 192V198M124 196V202M133.5 185.5V191.5M133 190V196M142 189V195M150 191.5V195.5M152 198V202M157.5 192V196M160 196V200M163 192V196M155 194V198M143.5 198V202M106 207V213M113 210V216M115 206V212M117 208V214M124 209V215M131 208V214M136 208V214M146 208V212M152 209V213M160 208V212M172.5 196V200M176.5 199V203M166 206V210M171 207V211M179 205V209" stroke="#c87a5a" stroke-width="1.0" stroke-opacity="0.4" fill="none"/><g fill="#c87a5a" fill-opacity="0.8"><circle cx="55.5" cy="192" r="2.5"/><circle cx="75" cy="192" r="2.5"/><circle cx="82.5" cy="192.5" r="2.5"/><circle cx="93" cy="193" r="2.5"/><circle cx="92" cy="197" r="2.5"/><circle cx="78.5" cy="211" r="2.5"/><circle cx="68" cy="215" r="2.5"/><circle cx="88" cy="223" r="2.5"/><circle cx="98" cy="210" r="2.5"/><circle cx="100" cy="209" r="2.5"/><circle cx="104" cy="194" r="2.5"/><circle cx="104" cy="197" r="2.5"/><circle cx="105.5" cy="192.5" r="2.5"/><circle cx="110.5" cy="194" r="2.5"/><circle cx="116" cy="197" r="2.5"/><circle cx="120.5" cy="195" r="2.5"/><circle cx="124" cy="199" r="2.5"/><circle cx="133.5" cy="188.5" r="2.5"/><circle cx="133" cy="193" r="2.5"/><circle cx="142" cy="192" r="2.5"/><circle cx="150" cy="193.5" r="2.5"/><circle cx="152" cy="200" r="2.5"/><circle cx="157.5" cy="194" r="2.5"/><circle cx="160" cy="198" r="2.5"/><circle cx="163" cy="194" r="2.5"/><circle cx="155" cy="196" r="2.5"/><circle cx="143.5" cy="200" r="2.5"/><circle cx="106" cy="210" r="2.5"/><circle cx="113" cy="213" r="2.5"/><circle cx="115" cy="209" r="2.5"/><circle cx="117" cy="211" r="2.5"/><circle cx="124" cy="212" r="2.5"/><circle cx="131" cy="211" r="2.5"/><circle cx="136" cy="211" r="2.5"/><circle cx="146" cy="210" r="2.5"/><circle cx="152" cy="211" r="2.5"/><circle cx="160" cy="210" r="2.5"/><circle cx="172.5" cy="198" r="2.5"/><circle cx="176.5" cy="201" r="2.5"/><circle cx="166" cy="208" r="2.5"/><circle cx="171" cy="209" r="2.5"/><circle cx="179" cy="207" r="2.5"/></g>
<rect x="30.3" y="20.3" width="249" height="105.3" fill="none" stroke="#6e6e6e" stroke-width="1.4"/>
<line x1="30.3" y1="123.1" x2="33.1" y2="123.1" stroke="#6e6e6e" stroke-width="1.3" />
<line x1="279.3" y1="123.1" x2="276.5" y2="123.1" stroke="#6e6e6e" stroke-width="1.3" />
<text x="28" y="127.3" font-size="10.2" text-anchor="end" fill="#4e4e4e" stroke="#4e4e4e" >1</text>
<line x1="30.3" y1="97.84" x2="33.1" y2="97.84" stroke="#6e6e6e" stroke-width="1.3" />
<line x1="279.3" y1="97.84" x2="276.5" y2="97.84" stroke="#6e6e6e" stroke-width="1.3" />
<text x="28" y="102.04" font-size="10.2" text-anchor="end" fill="#4e4e4e" stroke="#4e4e4e" >2</text>
<line x1="30.3" y1="72.58" x2="33.1" y2="72.58" stroke="#6e6e6e" stroke-width="1.3" />
<line x1="279.3" y1="72.58" x2="276.5" y2="72.58" stroke="#6e6e6e" stroke-width="1.3" />
<text x="28" y="76.78" font-size="10.2" text-anchor="end" fill="#4e4e4e" stroke="#4e4e4e" >3</text>
<line x1="30.3" y1="47.32" x2="33.1" y2="47.32" stroke="#6e6e6e" stroke-width="1.3" />
<line x1="279.3" y1="47.32" x2="276.5" y2="47.32" stroke="#6e6e6e" stroke-width="1.3" />
<text x="28" y="51.52" font-size="10.2" text-anchor="end" fill="#4e4e4e" stroke="#4e4e4e" >4</text>
<line x1="30.3" y1="22.06" x2="33.1" y2="22.06" stroke="#6e6e6e" stroke-width="1.3" />
<line x1="279.3" y1="22.06" x2="276.5" y2="22.06" stroke="#6e6e6e" stroke-width="1.3" />
<text x="28" y="26.26" font-size="10.2" text-anchor="end" fill="#4e4e4e" stroke="#4e4e4e" >5</text>
<line x1="51.23" y1="125.6" x2="51.23" y2="123.3" stroke="#6e6e6e" stroke-width="1.3" />
<line x1="51.23" y1="20.3" x2="51.23" y2="22.6" stroke="#6e6e6e" stroke-width="1.3" />
<line x1="68.68" y1="125.6" x2="68.68" y2="123.3" stroke="#6e6e6e" stroke-width="1.3" />
<line x1="68.68" y1="20.3" x2="68.68" y2="22.6" stroke="#6e6e6e" stroke-width="1.3" />
<line x1="81.06" y1="125.6" x2="81.06" y2="123.3" stroke="#6e6e6e" stroke-width="1.3" />
<line x1="81.06" y1="20.3" x2="81.06" y2="22.6" stroke="#6e6e6e" stroke-width="1.3" />
<line x1="90.67" y1="125.6" x2="90.67" y2="123.3" stroke="#6e6e6e" stroke-width="1.3" />
<line x1="90.67" y1="20.3" x2="90.67" y2="22.6" stroke="#6e6e6e" stroke-width="1.3" />
<line x1="98.51" y1="125.6" x2="98.51" y2="123.3" stroke="#6e6e6e" stroke-width="1.3" />
<line x1="98.51" y1="20.3" x2="98.51" y2="22.6" stroke="#6e6e6e" stroke-width="1.3" />
<line x1="105.15" y1="125.6" x2="105.15" y2="123.3" stroke="#6e6e6e" stroke-width="1.3" />
<line x1="105.15" y1="20.3" x2="105.15" y2="22.6" stroke="#6e6e6e" stroke-width="1.3" />
<line x1="110.9" y1="125.6" x2="110.9" y2="123.3" stroke="#6e6e6e" stroke-width="1.3" />
<line x1="110.9" y1="20.3" x2="110.9" y2="22.6" stroke="#6e6e6e" stroke-width="1.3" />
<line x1="115.97" y1="125.6" x2="115.97" y2="123.3" stroke="#6e6e6e" stroke-width="1.3" />
<line x1="115.97" y1="20.3" x2="115.97" y2="22.6" stroke="#6e6e6e" stroke-width="1.3" />
<line x1="120.5" y1="125.6" x2="120.5" y2="121.6" stroke="#6e6e6e" stroke-width="1.3" />
<line x1="120.5" y1="20.3" x2="120.5" y2="24.3" stroke="#6e6e6e" stroke-width="1.3" />
<line x1="150.33" y1="125.6" x2="150.33" y2="123.3" stroke="#6e6e6e" stroke-width="1.3" />
<line x1="150.33" y1="20.3" x2="150.33" y2="22.6" stroke="#6e6e6e" stroke-width="1.3" />
<line x1="167.78" y1="125.6" x2="167.78" y2="123.3" stroke="#6e6e6e" stroke-width="1.3" />
<line x1="167.78" y1="20.3" x2="167.78" y2="22.6" stroke="#6e6e6e" stroke-width="1.3" />
<line x1="180.16" y1="125.6" x2="180.16" y2="123.3" stroke="#6e6e6e" stroke-width="1.3" />
<line x1="180.16" y1="20.3" x2="180.16" y2="22.6" stroke="#6e6e6e" stroke-width="1.3" />
<line x1="189.77" y1="125.6" x2="189.77" y2="123.3" stroke="#6e6e6e" stroke-width="1.3" />
<line x1="189.77" y1="20.3" x2="189.77" y2="22.6" stroke="#6e6e6e" stroke-width="1.3" />
<line x1="197.61" y1="125.6" x2="197.61" y2="123.3" stroke="#6e6e6e" stroke-width="1.3" />
<line x1="197.61" y1="20.3" x2="197.61" y2="22.6" stroke="#6e6e6e" stroke-width="1.3" />
<line x1="204.25" y1="125.6" x2="204.25" y2="123.3" stroke="#6e6e6e" stroke-width="1.3" />
<line x1="204.25" y1="20.3" x2="204.25" y2="22.6" stroke="#6e6e6e" stroke-width="1.3" />
<line x1="210" y1="125.6" x2="210" y2="123.3" stroke="#6e6e6e" stroke-width="1.3" />
<line x1="210" y1="20.3" x2="210" y2="22.6" stroke="#6e6e6e" stroke-width="1.3" />
<line x1="215.07" y1="125.6" x2="215.07" y2="123.3" stroke="#6e6e6e" stroke-width="1.3" />
<line x1="215.07" y1="20.3" x2="215.07" y2="22.6" stroke="#6e6e6e" stroke-width="1.3" />
<line x1="219.6" y1="125.6" x2="219.6" y2="121.6" stroke="#6e6e6e" stroke-width="1.3" />
<line x1="219.6" y1="20.3" x2="219.6" y2="24.3" stroke="#6e6e6e" stroke-width="1.3" />
<line x1="249.43" y1="125.6" x2="249.43" y2="123.3" stroke="#6e6e6e" stroke-width="1.3" />
<line x1="249.43" y1="20.3" x2="249.43" y2="22.6" stroke="#6e6e6e" stroke-width="1.3" />
<line x1="266.88" y1="125.6" x2="266.88" y2="123.3" stroke="#6e6e6e" stroke-width="1.3" />
<line x1="266.88" y1="20.3" x2="266.88" y2="22.6" stroke="#6e6e6e" stroke-width="1.3" />
<line x1="279.26" y1="125.6" x2="279.26" y2="123.3" stroke="#6e6e6e" stroke-width="1.3" />
<line x1="279.26" y1="20.3" x2="279.26" y2="22.6" stroke="#6e6e6e" stroke-width="1.3" />
<text x="118.5" y="141" font-size="10.2" text-anchor="middle" fill="#4e4e4e" stroke="#4e4e4e" >10</text>
<text x="126.5" y="135" font-size="7.0" text-anchor="middle" fill="#4e4e4e" stroke="#4e4e4e" >3</text>
<text x="217.6" y="141" font-size="10.2" text-anchor="middle" fill="#4e4e4e" stroke="#4e4e4e" >10</text>
<text x="225.6" y="135" font-size="7.0" text-anchor="middle" fill="#4e4e4e" stroke="#4e4e4e" >4</text>
<text x="154.8" y="154" font-size="12.8" text-anchor="middle" fill="#3a3a3a" stroke="#3a3a3a" >Total Barcode Count</text>
<text x="0" y="0" font-size="13.1" text-anchor="middle" fill="#3a3a3a" stroke="#3a3a3a" transform="translate(19.0 75.3) rotate(-90)">Uninduced Function</text>
<rect x="30.3" y="185" width="249" height="105" fill="none" stroke="#6e6e6e" stroke-width="1.4"/>
<line x1="30.3" y1="287.25" x2="33.1" y2="287.25" stroke="#6e6e6e" stroke-width="1.3" />
<line x1="279.3" y1="287.25" x2="276.5" y2="287.25" stroke="#6e6e6e" stroke-width="1.3" />
<text x="28" y="291.45" font-size="10.2" text-anchor="end" fill="#4e4e4e" stroke="#4e4e4e" >1</text>
<line x1="30.3" y1="262.25" x2="33.1" y2="262.25" stroke="#6e6e6e" stroke-width="1.3" />
<line x1="279.3" y1="262.25" x2="276.5" y2="262.25" stroke="#6e6e6e" stroke-width="1.3" />
<text x="28" y="266.45" font-size="10.2" text-anchor="end" fill="#4e4e4e" stroke="#4e4e4e" >2</text>
<line x1="30.3" y1="237.25" x2="33.1" y2="237.25" stroke="#6e6e6e" stroke-width="1.3" />
<line x1="279.3" y1="237.25" x2="276.5" y2="237.25" stroke="#6e6e6e" stroke-width="1.3" />
<text x="28" y="241.45" font-size="10.2" text-anchor="end" fill="#4e4e4e" stroke="#4e4e4e" >3</text>
<line x1="30.3" y1="212.25" x2="33.1" y2="212.25" stroke="#6e6e6e" stroke-width="1.3" />
<line x1="279.3" y1="212.25" x2="276.5" y2="212.25" stroke="#6e6e6e" stroke-width="1.3" />
<text x="28" y="216.45" font-size="10.2" text-anchor="end" fill="#4e4e4e" stroke="#4e4e4e" >4</text>
<line x1="30.3" y1="187.25" x2="33.1" y2="187.25" stroke="#6e6e6e" stroke-width="1.3" />
<line x1="279.3" y1="187.25" x2="276.5" y2="187.25" stroke="#6e6e6e" stroke-width="1.3" />
<text x="28" y="191.45" font-size="10.2" text-anchor="end" fill="#4e4e4e" stroke="#4e4e4e" >5</text>
<line x1="51.23" y1="290" x2="51.23" y2="287.7" stroke="#6e6e6e" stroke-width="1.3" />
<line x1="51.23" y1="185" x2="51.23" y2="187.3" stroke="#6e6e6e" stroke-width="1.3" />
<line x1="68.68" y1="290" x2="68.68" y2="287.7" stroke="#6e6e6e" stroke-width="1.3" />
<line x1="68.68" y1="185" x2="68.68" y2="187.3" stroke="#6e6e6e" stroke-width="1.3" />
<line x1="81.06" y1="290" x2="81.06" y2="287.7" stroke="#6e6e6e" stroke-width="1.3" />
<line x1="81.06" y1="185" x2="81.06" y2="187.3" stroke="#6e6e6e" stroke-width="1.3" />
<line x1="90.67" y1="290" x2="90.67" y2="287.7" stroke="#6e6e6e" stroke-width="1.3" />
<line x1="90.67" y1="185" x2="90.67" y2="187.3" stroke="#6e6e6e" stroke-width="1.3" />
<line x1="98.51" y1="290" x2="98.51" y2="287.7" stroke="#6e6e6e" stroke-width="1.3" />
<line x1="98.51" y1="185" x2="98.51" y2="187.3" stroke="#6e6e6e" stroke-width="1.3" />
<line x1="105.15" y1="290" x2="105.15" y2="287.7" stroke="#6e6e6e" stroke-width="1.3" />
<line x1="105.15" y1="185" x2="105.15" y2="187.3" stroke="#6e6e6e" stroke-width="1.3" />
<line x1="110.9" y1="290" x2="110.9" y2="287.7" stroke="#6e6e6e" stroke-width="1.3" />
<line x1="110.9" y1="185" x2="110.9" y2="187.3" stroke="#6e6e6e" stroke-width="1.3" />
<line x1="115.97" y1="290" x2="115.97" y2="287.7" stroke="#6e6e6e" stroke-width="1.3" />
<line x1="115.97" y1="185" x2="115.97" y2="187.3" stroke="#6e6e6e" stroke-width="1.3" />
<line x1="120.5" y1="290" x2="120.5" y2="286" stroke="#6e6e6e" stroke-width="1.3" />
<line x1="120.5" y1="185" x2="120.5" y2="189" stroke="#6e6e6e" stroke-width="1.3" />
<line x1="150.33" y1="290" x2="150.33" y2="287.7" stroke="#6e6e6e" stroke-width="1.3" />
<line x1="150.33" y1="185" x2="150.33" y2="187.3" stroke="#6e6e6e" stroke-width="1.3" />
<line x1="167.78" y1="290" x2="167.78" y2="287.7" stroke="#6e6e6e" stroke-width="1.3" />
<line x1="167.78" y1="185" x2="167.78" y2="187.3" stroke="#6e6e6e" stroke-width="1.3" />
<line x1="180.16" y1="290" x2="180.16" y2="287.7" stroke="#6e6e6e" stroke-width="1.3" />
<line x1="180.16" y1="185" x2="180.16" y2="187.3" stroke="#6e6e6e" stroke-width="1.3" />
<line x1="189.77" y1="290" x2="189.77" y2="287.7" stroke="#6e6e6e" stroke-width="1.3" />
<line x1="189.77" y1="185" x2="189.77" y2="187.3" stroke="#6e6e6e" stroke-width="1.3" />
<line x1="197.61" y1="290" x2="197.61" y2="287.7" stroke="#6e6e6e" stroke-width="1.3" />
<line x1="197.61" y1="185" x2="197.61" y2="187.3" stroke="#6e6e6e" stroke-width="1.3" />
<line x1="204.25" y1="290" x2="204.25" y2="287.7" stroke="#6e6e6e" stroke-width="1.3" />
<line x1="204.25" y1="185" x2="204.25" y2="187.3" stroke="#6e6e6e" stroke-width="1.3" />
<line x1="210" y1="290" x2="210" y2="287.7" stroke="#6e6e6e" stroke-width="1.3" />
<line x1="210" y1="185" x2="210" y2="187.3" stroke="#6e6e6e" stroke-width="1.3" />
<line x1="215.07" y1="290" x2="215.07" y2="287.7" stroke="#6e6e6e" stroke-width="1.3" />
<line x1="215.07" y1="185" x2="215.07" y2="187.3" stroke="#6e6e6e" stroke-width="1.3" />
<line x1="219.6" y1="290" x2="219.6" y2="286" stroke="#6e6e6e" stroke-width="1.3" />
<line x1="219.6" y1="185" x2="219.6" y2="189" stroke="#6e6e6e" stroke-width="1.3" />
<line x1="249.43" y1="290" x2="249.43" y2="287.7" stroke="#6e6e6e" stroke-width="1.3" />
<line x1="249.43" y1="185" x2="249.43" y2="187.3" stroke="#6e6e6e" stroke-width="1.3" />
<line x1="266.88" y1="290" x2="266.88" y2="287.7" stroke="#6e6e6e" stroke-width="1.3" />
<line x1="266.88" y1="185" x2="266.88" y2="187.3" stroke="#6e6e6e" stroke-width="1.3" />
<line x1="279.26" y1="290" x2="279.26" y2="287.7" stroke="#6e6e6e" stroke-width="1.3" />
<line x1="279.26" y1="185" x2="279.26" y2="187.3" stroke="#6e6e6e" stroke-width="1.3" />
<text x="118.5" y="305.4" font-size="10.2" text-anchor="middle" fill="#4e4e4e" stroke="#4e4e4e" >10</text>
<text x="126.5" y="299.4" font-size="7.0" text-anchor="middle" fill="#4e4e4e" stroke="#4e4e4e" >3</text>
<text x="217.6" y="305.4" font-size="10.2" text-anchor="middle" fill="#4e4e4e" stroke="#4e4e4e" >10</text>
<text x="225.6" y="299.4" font-size="7.0" text-anchor="middle" fill="#4e4e4e" stroke="#4e4e4e" >4</text>
<text x="154.8" y="318.4" font-size="12.8" text-anchor="middle" fill="#3a3a3a" stroke="#3a3a3a" >Total Barcode Count</text>
<text x="0" y="0" font-size="13.1" text-anchor="middle" fill="#3a3a3a" stroke="#3a3a3a" transform="translate(19.0 240.6) rotate(-90)">Induced Function</text>
<line x1="41.07" y1="72.45" x2="267.7" y2="72.45" stroke="#333" stroke-width="1.2" stroke-dasharray="3.46 1.5"/>
<line x1="40.8" y1="204.5" x2="266.7" y2="204.5" stroke="#333" stroke-width="1.2" stroke-dasharray="3.45 1.493"/>
<rect x="0" y="0" width="2" height="328" fill="#000"/>
<rect x="0" y="324" width="296" height="4" fill="#000"/>
<rect x="296" y="325" width="184" height="3" fill="#000"/>
<rect x="466" y="0" width="14" height="134.6" fill="#000"/>
<rect x="466" y="161" width="14" height="139" fill="#000"/>
</svg></body></html>
